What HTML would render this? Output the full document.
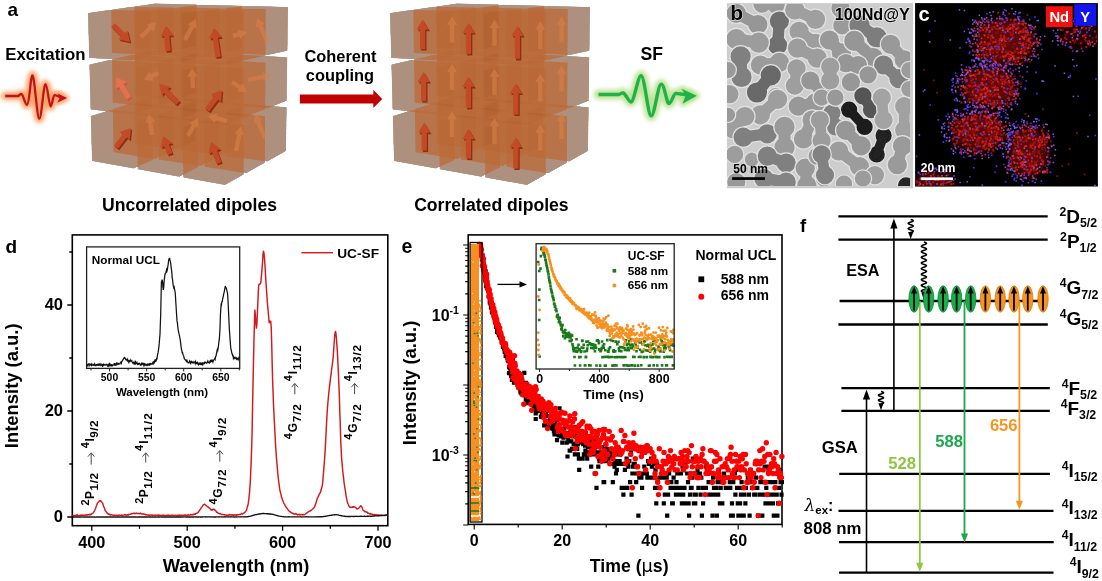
<!DOCTYPE html>
<html><head><meta charset="utf-8"><style>
html,body{margin:0;padding:0;background:#fff;width:1102px;height:581px;overflow:hidden}
svg{display:block}
text{font-family:'Liberation Sans',Arial,sans-serif;font-weight:bold}
</style></head><body>
<svg width="1102" height="581" viewBox="0 0 1102 581">
<rect width="1102" height="581" fill="#fff"/>
<rect x="72.3" y="234.9" width="315.5" height="290.8" fill="none" stroke="#000" stroke-width="1.6"/>
<path d="M91.8 525.7v5M139.5 525.7v3M187.2 525.7v5M234.9 525.7v3M282.6 525.7v5M330.3 525.7v3M378.0 525.7v5M72.3 517.0h-5M72.3 464.0h-3M72.3 411.0h-5M72.3 358.0h-3M72.3 305.0h-5M72.3 252.0h-3" stroke="#000" stroke-width="1.3" fill="none"/>
<text x="91.8" y="547.8" font-size="16.3" text-anchor="middle" fill="#000" >400</text>
<text x="187.2" y="547.8" font-size="16.3" text-anchor="middle" fill="#000" >500</text>
<text x="282.6" y="547.8" font-size="16.3" text-anchor="middle" fill="#000" >600</text>
<text x="378" y="547.8" font-size="16.3" text-anchor="middle" fill="#000" >700</text>
<text x="63" y="522" font-size="16.5" text-anchor="end" fill="#000" >0</text>
<text x="63" y="416" font-size="16.5" text-anchor="end" fill="#000" >20</text>
<text x="63" y="310" font-size="16.5" text-anchor="end" fill="#000" >40</text>
<text x="236" y="572.2" font-size="18.3" text-anchor="middle" fill="#000" >Wavelength (nm)</text>
<text x="17.6" y="385.8" font-size="18.4" text-anchor="middle" fill="#000" transform="rotate(-90 17.6 385.8)">Intensity (a.u.)</text>
<path d="M72.7 515.0 73.2 516.0 73.7 515.3 74.2 515.5 74.6 515.5 75.1 515.4 75.6 515.8 76.1 515.4 76.5 515.6 77.0 514.7 77.5 515.3 78.0 515.5 78.4 515.4 78.9 515.5 79.4 515.6 79.9 515.4 80.4 515.2 80.8 515.4 81.3 515.1 81.8 515.4 82.3 515.3 82.7 515.0 83.2 515.2 83.7 515.4 84.2 515.3 84.6 515.1 85.1 514.8 85.6 515.2 86.1 515.1 86.6 514.8 87.0 515.2 87.5 515.0 88.0 514.7 88.5 514.7 88.9 514.7 89.4 514.5 89.9 515.1 90.4 514.2 90.8 514.4 91.3 514.4 91.8 513.8 92.3 513.4 92.8 513.2 93.2 512.9 93.7 512.0 94.2 511.4 94.7 510.3 95.1 509.5 95.6 508.3 96.1 506.7 96.6 505.5 97.0 504.3 97.5 503.1 98.0 502.4 98.5 501.9 99.0 501.4 99.4 500.8 99.9 501.1 100.4 500.5 100.9 500.8 101.3 501.8 101.8 502.0 102.3 502.9 102.8 503.4 103.2 505.3 103.7 506.5 104.2 507.6 104.7 508.8 105.2 510.6 105.6 511.0 106.1 511.6 106.6 512.5 107.1 512.7 107.5 513.8 108.0 513.7 108.5 514.3 109.0 513.9 109.4 514.4 109.9 514.7 110.4 515.1 110.9 514.5 111.4 514.8 111.8 514.9 112.3 514.9 112.8 515.1 113.3 515.3 113.7 515.4 114.2 515.4 114.7 514.9 115.2 515.5 115.6 515.4 116.1 515.3 116.6 515.2 117.1 515.2 117.6 515.5 118.0 515.7 118.5 515.3 119.0 515.0 119.5 515.1 119.9 515.3 120.4 515.4 120.9 515.2 121.4 515.3 121.9 515.1 122.3 515.4 122.8 515.2 123.3 515.2 123.8 515.1 124.2 515.1 124.7 514.6 125.2 514.7 125.7 514.7 126.1 515.4 126.6 515.0 127.1 515.0 127.6 514.7 128.1 515.2 128.5 514.4 129.0 514.3 129.5 514.6 130.0 514.4 130.4 514.3 130.9 514.0 131.4 513.8 131.9 513.4 132.3 513.8 132.8 513.5 133.3 513.6 133.8 513.2 134.3 513.4 134.7 513.2 135.2 513.7 135.7 513.5 136.2 513.6 136.6 513.1 137.1 513.3 137.6 513.5 138.1 513.5 138.5 513.4 139.0 513.6 139.5 513.7 140.0 513.5 140.5 513.1 140.9 513.7 141.4 513.8 141.9 514.0 142.4 514.1 142.8 513.8 143.3 513.8 143.8 514.1 144.3 514.1 144.7 514.2 145.2 514.3 145.7 514.8 146.2 514.7 146.7 514.7 147.1 515.0 147.6 515.0 148.1 515.2 148.6 515.2 149.0 515.0 149.5 515.3 150.0 515.2 150.5 515.0 150.9 515.1 151.4 514.9 151.9 515.7 152.4 515.1 152.9 515.4 153.3 515.3 153.8 515.2 154.3 515.1 154.8 515.1 155.2 515.3 155.7 515.0 156.2 515.5 156.7 515.4 157.1 515.2 157.6 515.5 158.1 515.0 158.6 515.2 159.1 514.9 159.5 515.4 160.0 515.5 160.5 515.4 161.0 515.3 161.4 515.5 161.9 515.3 162.4 515.4 162.9 515.1 163.3 515.5 163.8 515.2 164.3 515.5 164.8 515.6 165.3 515.5 165.7 515.6 166.2 515.4 166.7 515.2 167.2 515.4 167.6 515.3 168.1 515.0 168.6 515.3 169.1 515.3 169.6 515.4 170.0 515.7 170.5 515.2 171.0 515.7 171.5 515.2 171.9 515.4 172.4 515.1 172.9 515.4 173.4 515.5 173.8 515.3 174.3 515.5 174.8 515.4 175.3 515.3 175.8 515.4 176.2 515.4 176.7 515.5 177.2 515.3 177.7 515.8 178.1 515.3 178.6 515.5 179.1 515.0 179.6 515.0 180.0 515.7 180.5 515.2 181.0 515.3 181.5 515.5 182.0 515.1 182.4 515.3 182.9 515.6 183.4 515.3 183.9 515.2 184.3 515.1 184.8 515.4 185.3 515.0 185.8 515.0 186.2 515.3 186.7 515.2 187.2 515.1 187.7 515.2 188.2 514.6 188.6 514.9 189.1 515.2 189.6 515.1 190.1 514.9 190.5 514.4 191.0 514.9 191.5 514.8 192.0 514.7 192.4 514.7 192.9 514.2 193.4 514.7 193.9 514.3 194.4 514.3 194.8 514.0 195.3 514.2 195.8 513.4 196.3 513.6 196.7 513.3 197.2 513.2 197.7 512.9 198.2 512.3 198.6 511.6 199.1 511.0 199.6 510.2 200.1 509.5 200.6 509.0 201.0 508.2 201.5 507.5 202.0 506.9 202.5 506.0 202.9 505.2 203.4 504.9 203.9 504.7 204.4 504.3 204.8 504.2 205.3 504.9 205.8 505.2 206.3 505.6 206.8 505.8 207.2 506.8 207.7 506.7 208.2 506.9 208.7 507.7 209.1 507.7 209.6 508.3 210.1 508.9 210.6 509.2 211.1 510.0 211.5 510.2 212.0 509.7 212.5 510.1 213.0 509.3 213.4 509.5 213.9 509.1 214.4 509.3 214.9 510.1 215.3 510.3 215.8 510.8 216.3 511.7 216.8 512.3 217.3 512.2 217.7 512.8 218.2 513.3 218.7 513.4 219.2 513.4 219.6 513.9 220.1 513.8 220.6 513.8 221.1 514.2 221.5 514.5 222.0 514.7 222.5 514.5 223.0 514.4 223.5 514.6 223.9 514.6 224.4 514.9 224.9 514.8 225.4 515.0 225.8 515.0 226.3 515.2 226.8 515.3 227.3 515.1 227.7 515.2 228.2 515.2 228.7 514.8 229.2 515.0 229.7 514.4 230.1 514.8 230.6 515.1 231.1 514.8 231.6 514.9 232.0 515.1 232.5 514.8 233.0 515.2 233.5 515.6 233.9 514.8 234.4 515.1 234.9 514.7 235.4 515.1 235.9 515.2 236.3 514.7 236.8 515.2 237.3 514.9 237.8 514.6 238.2 514.8 238.7 514.8 239.2 514.7 239.7 514.4 240.1 514.6 240.6 514.2 241.1 514.1 241.6 513.6 242.1 514.0 242.5 514.0 243.0 513.4 243.5 513.4 244.0 513.0 244.4 512.7 244.9 512.1 245.4 511.9 245.9 510.9 246.3 510.5 246.8 509.0 247.3 507.1 247.8 505.8 248.3 503.2 248.7 500.0 249.2 495.7 249.7 490.5 250.2 483.6 250.6 474.5 251.1 463.4 251.6 449.0 252.1 432.3 252.5 409.3 253.0 384.4 253.5 360.7 254.0 339.1 254.5 321.0 254.9 310.1 255.4 315.8 255.9 323.3 256.4 328.1 256.8 325.6 257.3 315.4 257.8 303.7 258.3 291.5 258.8 284.8 259.2 284.3 259.7 284.3 260.2 283.9 260.7 283.3 261.1 279.5 261.6 273.9 262.1 267.6 262.6 261.2 263.0 254.3 263.5 251.2 264.0 253.4 264.5 258.6 265.0 265.2 265.4 272.7 265.9 280.9 266.4 288.8 266.9 295.6 267.3 301.9 267.8 307.5 268.3 312.8 268.8 318.2 269.2 322.7 269.7 322.2 270.2 321.1 270.7 321.4 271.2 326.6 271.6 339.3 272.1 361.1 272.6 380.3 273.1 393.0 273.5 404.2 274.0 414.4 274.5 424.4 275.0 433.7 275.4 442.3 275.9 450.1 276.4 457.1 276.9 463.2 277.4 468.6 277.8 473.3 278.3 478.2 278.8 482.4 279.3 485.8 279.7 489.2 280.2 491.5 280.7 493.6 281.2 495.4 281.6 497.4 282.1 498.5 282.6 500.4 283.1 501.1 283.6 502.7 284.0 503.6 284.5 504.2 285.0 505.3 285.5 506.2 285.9 506.9 286.4 507.4 286.9 508.2 287.4 508.8 287.8 509.2 288.3 510.3 288.8 510.8 289.3 511.3 289.8 511.5 290.2 511.9 290.7 512.2 291.2 512.8 291.7 513.0 292.1 513.0 292.6 513.4 293.1 513.3 293.6 513.5 294.0 514.0 294.5 514.0 295.0 514.1 295.5 513.8 296.0 513.7 296.4 514.3 296.9 514.3 297.4 514.9 297.9 514.4 298.3 514.4 298.8 514.7 299.3 514.3 299.8 514.9 300.2 514.6 300.7 514.5 301.2 514.8 301.7 514.4 302.2 514.4 302.6 514.9 303.1 514.9 303.6 514.5 304.1 514.6 304.5 514.7 305.0 514.3 305.5 514.0 306.0 513.7 306.4 513.2 306.9 513.0 307.4 512.3 307.9 512.1 308.4 511.9 308.8 511.5 309.3 511.1 309.8 511.0 310.3 511.1 310.7 510.4 311.2 510.3 311.7 509.6 312.2 509.6 312.7 509.1 313.1 508.7 313.6 508.0 314.1 507.7 314.6 506.9 315.0 505.6 315.5 504.4 316.0 502.8 316.5 501.3 316.9 499.8 317.4 498.0 317.9 497.3 318.4 496.1 318.9 495.2 319.3 494.1 319.8 493.5 320.3 492.4 320.8 491.1 321.2 489.5 321.7 488.0 322.2 485.9 322.7 482.6 323.1 477.5 323.6 471.6 324.1 465.4 324.6 458.6 325.1 451.5 325.5 444.1 326.0 434.5 326.5 424.5 327.0 415.2 327.4 408.2 327.9 402.7 328.4 397.0 328.9 392.2 329.3 388.3 329.8 384.1 330.3 380.1 330.8 376.1 331.3 372.7 331.7 368.5 332.2 365.5 332.7 361.5 333.2 357.1 333.6 350.7 334.1 343.5 334.6 336.8 335.1 332.7 335.5 331.4 336.0 334.0 336.5 339.7 337.0 346.1 337.5 353.6 337.9 362.3 338.4 372.7 338.9 385.0 339.4 397.7 339.8 411.7 340.3 426.1 340.8 441.7 341.3 452.5 341.7 459.1 342.2 464.9 342.7 470.5 343.2 475.1 343.7 479.0 344.1 483.0 344.6 486.1 345.1 489.2 345.6 492.3 346.0 495.3 346.5 498.1 347.0 500.3 347.5 502.5 347.9 503.7 348.4 504.4 348.9 506.0 349.4 507.0 349.9 507.2 350.3 507.4 350.8 507.2 351.3 507.2 351.8 507.5 352.2 507.4 352.7 506.8 353.2 507.3 353.7 506.7 354.1 507.0 354.6 506.9 355.1 507.1 355.6 507.5 356.1 507.9 356.5 508.7 357.0 508.7 357.5 509.0 358.0 508.9 358.4 508.4 358.9 508.0 359.4 507.4 359.9 506.7 360.4 506.1 360.8 505.7 361.3 506.4 361.8 506.8 362.3 508.0 362.7 509.2 363.2 510.3 363.7 510.6 364.2 510.9 364.6 511.7 365.1 511.4 365.6 511.6 366.1 512.1 366.6 512.3 367.0 512.1 367.5 512.6 368.0 513.2 368.5 513.2 368.9 513.4 369.4 513.5 369.9 514.1 370.4 513.6 370.8 514.1 371.3 514.0 371.8 514.2 372.3 514.2 372.8 514.5 373.2 514.7 373.7 514.6 374.2 514.5 374.7 514.9 375.1 514.6 375.6 514.9 376.1 515.1 376.6 514.7 377.0 515.2 377.5 514.9 378.0 515.2 378.5 515.0 379.0 515.4 379.4 515.4 379.9 515.0 380.4 515.2 380.9 515.3 381.3 515.4 381.8 515.2 382.3 515.6 382.8 515.6 383.2 515.4 383.7 515.5 384.2 515.5 384.7 515.4 385.2 515.4 385.6 515.4 386.1 515.0 386.6 515.2 387.1 515.1 387.5 515.4" stroke="#d4181d" stroke-width="1.45" fill="none" stroke-linejoin="round"/>
<path d="M72.7 517.0 73.2 517.1 73.7 517.0 74.2 517.1 74.6 517.0 75.1 517.0 75.6 516.9 76.1 517.0 76.5 517.0 77.0 517.0 77.5 517.0 78.0 517.0 78.4 517.0 78.9 517.0 79.4 516.9 79.9 517.0 80.4 516.9 80.8 517.0 81.3 517.0 81.8 516.9 82.3 516.9 82.7 517.0 83.2 517.0 83.7 517.1 84.2 517.0 84.6 517.0 85.1 517.0 85.6 517.0 86.1 517.1 86.6 517.0 87.0 517.0 87.5 517.0 88.0 517.0 88.5 517.1 88.9 516.9 89.4 517.0 89.9 517.0 90.4 517.0 90.8 517.1 91.3 517.0 91.8 517.0 92.3 517.0 92.8 516.9 93.2 517.0 93.7 517.1 94.2 517.0 94.7 517.0 95.1 517.0 95.6 517.1 96.1 517.1 96.6 517.0 97.0 517.0 97.5 517.0 98.0 517.1 98.5 516.9 99.0 517.1 99.4 517.0 99.9 516.9 100.4 517.0 100.9 517.0 101.3 517.0 101.8 516.9 102.3 517.1 102.8 517.0 103.2 517.0 103.7 517.0 104.2 517.0 104.7 517.1 105.2 517.0 105.6 517.0 106.1 517.0 106.6 517.0 107.1 517.0 107.5 517.0 108.0 517.0 108.5 517.0 109.0 517.0 109.4 517.0 109.9 517.0 110.4 517.0 110.9 517.0 111.4 517.0 111.8 517.0 112.3 517.0 112.8 517.0 113.3 516.9 113.7 517.0 114.2 517.0 114.7 517.1 115.2 517.0 115.6 517.1 116.1 517.0 116.6 517.0 117.1 517.0 117.6 516.9 118.0 517.0 118.5 517.0 119.0 517.0 119.5 517.0 119.9 517.0 120.4 517.1 120.9 517.0 121.4 516.9 121.9 517.0 122.3 517.0 122.8 516.9 123.3 517.0 123.8 517.0 124.2 517.0 124.7 517.0 125.2 517.0 125.7 516.9 126.1 517.0 126.6 517.0 127.1 517.0 127.6 517.0 128.1 517.1 128.5 517.0 129.0 517.0 129.5 517.0 130.0 517.0 130.4 517.0 130.9 517.1 131.4 516.9 131.9 516.9 132.3 517.1 132.8 517.0 133.3 517.0 133.8 517.0 134.3 517.0 134.7 517.0 135.2 517.0 135.7 517.0 136.2 517.0 136.6 517.1 137.1 517.1 137.6 517.0 138.1 517.1 138.5 517.0 139.0 517.0 139.5 517.0 140.0 517.0 140.5 517.0 140.9 516.9 141.4 517.0 141.9 517.0 142.4 517.0 142.8 517.0 143.3 516.9 143.8 517.0 144.3 517.0 144.7 517.0 145.2 517.0 145.7 517.0 146.2 517.0 146.7 517.0 147.1 517.0 147.6 517.0 148.1 516.9 148.6 516.9 149.0 517.0 149.5 516.9 150.0 517.0 150.5 516.9 150.9 517.0 151.4 517.1 151.9 516.9 152.4 517.0 152.9 517.0 153.3 517.0 153.8 517.1 154.3 517.0 154.8 517.0 155.2 516.9 155.7 517.0 156.2 517.1 156.7 517.1 157.1 517.0 157.6 517.1 158.1 517.0 158.6 517.0 159.1 517.0 159.5 517.0 160.0 517.0 160.5 516.9 161.0 516.9 161.4 517.0 161.9 516.9 162.4 517.0 162.9 517.0 163.3 517.0 163.8 517.0 164.3 517.0 164.8 517.0 165.3 517.0 165.7 517.0 166.2 517.0 166.7 517.0 167.2 517.0 167.6 517.0 168.1 517.0 168.6 517.0 169.1 517.0 169.6 516.9 170.0 517.0 170.5 517.0 171.0 517.1 171.5 517.0 171.9 516.9 172.4 517.0 172.9 516.9 173.4 517.0 173.8 517.0 174.3 516.9 174.8 517.0 175.3 516.9 175.8 517.0 176.2 517.0 176.7 517.0 177.2 516.9 177.7 517.0 178.1 517.0 178.6 517.0 179.1 516.9 179.6 517.0 180.0 517.0 180.5 517.0 181.0 517.0 181.5 516.9 182.0 517.0 182.4 517.0 182.9 516.9 183.4 516.9 183.9 517.0 184.3 516.9 184.8 516.9 185.3 516.9 185.8 517.0 186.2 516.9 186.7 517.0 187.2 516.9 187.7 517.0 188.2 516.9 188.6 517.0 189.1 517.0 189.6 516.9 190.1 517.0 190.5 516.9 191.0 517.0 191.5 516.9 192.0 517.0 192.4 517.0 192.9 517.0 193.4 516.9 193.9 517.0 194.4 516.9 194.8 516.9 195.3 516.9 195.8 517.0 196.3 517.0 196.7 516.9 197.2 517.0 197.7 517.1 198.2 517.0 198.6 517.0 199.1 516.9 199.6 516.9 200.1 517.0 200.6 517.0 201.0 516.9 201.5 517.0 202.0 517.0 202.5 517.0 202.9 516.9 203.4 516.9 203.9 516.9 204.4 516.9 204.8 516.9 205.3 517.0 205.8 516.8 206.3 516.9 206.8 516.9 207.2 517.0 207.7 516.9 208.2 516.9 208.7 516.9 209.1 516.9 209.6 516.9 210.1 517.0 210.6 516.9 211.1 516.9 211.5 516.9 212.0 517.0 212.5 516.9 213.0 516.9 213.4 517.0 213.9 517.0 214.4 516.9 214.9 517.0 215.3 516.9 215.8 517.0 216.3 516.9 216.8 516.9 217.3 516.9 217.7 516.9 218.2 517.0 218.7 516.9 219.2 516.9 219.6 517.0 220.1 516.9 220.6 516.9 221.1 516.9 221.5 516.9 222.0 517.0 222.5 516.9 223.0 516.9 223.5 516.9 223.9 517.0 224.4 516.8 224.9 516.9 225.4 516.9 225.8 517.0 226.3 516.9 226.8 516.9 227.3 516.9 227.7 516.9 228.2 517.0 228.7 516.9 229.2 516.9 229.7 516.9 230.1 516.9 230.6 517.0 231.1 516.8 231.6 516.9 232.0 516.9 232.5 516.9 233.0 516.9 233.5 516.9 233.9 517.0 234.4 517.0 234.9 516.9 235.4 516.9 235.9 517.0 236.3 517.0 236.8 516.9 237.3 516.9 237.8 516.9 238.2 516.9 238.7 516.9 239.2 516.9 239.7 516.9 240.1 516.9 240.6 516.9 241.1 516.8 241.6 516.9 242.1 516.9 242.5 516.9 243.0 516.9 243.5 516.9 244.0 516.8 244.4 516.9 244.9 516.9 245.4 516.8 245.9 516.9 246.3 516.8 246.8 516.7 247.3 516.7 247.8 516.6 248.3 516.6 248.7 516.5 249.2 516.4 249.7 516.3 250.2 516.2 250.6 516.1 251.1 516.0 251.6 515.9 252.1 515.7 252.5 515.5 253.0 515.4 253.5 515.2 254.0 515.1 254.5 515.0 254.9 514.8 255.4 514.7 255.9 514.6 256.4 514.6 256.8 514.5 257.3 514.4 257.8 514.3 258.3 514.1 258.8 514.0 259.2 514.0 259.7 514.0 260.2 513.8 260.7 513.7 261.1 513.8 261.6 513.6 262.1 513.6 262.6 513.5 263.0 513.5 263.5 513.5 264.0 513.5 264.5 513.6 265.0 513.6 265.4 513.6 265.9 513.6 266.4 513.7 266.9 513.7 267.3 513.7 267.8 513.7 268.3 513.7 268.8 513.8 269.2 514.0 269.7 514.0 270.2 514.0 270.7 514.0 271.2 514.2 271.6 514.1 272.1 514.2 272.6 514.4 273.1 514.4 273.5 514.5 274.0 514.7 274.5 514.8 275.0 514.9 275.4 515.1 275.9 515.3 276.4 515.4 276.9 515.5 277.4 515.7 277.8 515.9 278.3 515.9 278.8 516.1 279.3 516.1 279.7 516.2 280.2 516.3 280.7 516.3 281.2 516.4 281.6 516.4 282.1 516.6 282.6 516.6 283.1 516.6 283.6 516.7 284.0 516.8 284.5 516.8 285.0 516.8 285.5 516.9 285.9 516.8 286.4 516.9 286.9 516.9 287.4 516.9 287.8 516.9 288.3 516.8 288.8 516.9 289.3 516.8 289.8 516.9 290.2 516.9 290.7 516.9 291.2 516.9 291.7 516.9 292.1 516.9 292.6 516.8 293.1 516.8 293.6 516.8 294.0 516.9 294.5 516.9 295.0 516.9 295.5 516.9 296.0 516.9 296.4 516.9 296.9 516.9 297.4 516.9 297.9 516.9 298.3 516.9 298.8 516.9 299.3 516.9 299.8 516.9 300.2 516.9 300.7 516.8 301.2 516.9 301.7 517.0 302.2 516.8 302.6 516.8 303.1 516.8 303.6 516.8 304.1 516.8 304.5 516.9 305.0 516.9 305.5 516.9 306.0 516.8 306.4 516.9 306.9 516.8 307.4 516.9 307.9 516.9 308.4 516.8 308.8 516.9 309.3 516.9 309.8 516.9 310.3 516.9 310.7 516.8 311.2 516.8 311.7 516.8 312.2 516.8 312.7 516.8 313.1 516.8 313.6 516.8 314.1 516.8 314.6 516.8 315.0 516.7 315.5 516.8 316.0 516.8 316.5 516.7 316.9 516.8 317.4 516.8 317.9 516.7 318.4 516.7 318.9 516.8 319.3 516.7 319.8 516.8 320.3 516.7 320.8 516.7 321.2 516.7 321.7 516.7 322.2 516.7 322.7 516.6 323.1 516.6 323.6 516.5 324.1 516.5 324.6 516.4 325.1 516.3 325.5 516.2 326.0 516.2 326.5 516.1 327.0 516.0 327.4 515.9 327.9 515.8 328.4 515.7 328.9 515.6 329.3 515.5 329.8 515.4 330.3 515.4 330.8 515.3 331.3 515.2 331.7 515.2 332.2 515.1 332.7 514.9 333.2 514.9 333.6 514.8 334.1 514.7 334.6 514.7 335.1 514.7 335.5 514.6 336.0 514.6 336.5 514.6 337.0 514.8 337.5 514.8 337.9 514.9 338.4 515.0 338.9 515.2 339.4 515.3 339.8 515.4 340.3 515.5 340.8 515.6 341.3 515.7 341.7 515.7 342.2 515.9 342.7 515.9 343.2 516.1 343.7 516.1 344.1 516.2 344.6 516.2 345.1 516.3 345.6 516.5 346.0 516.4 346.5 516.4 347.0 516.5 347.5 516.5 347.9 516.5 348.4 516.5 348.9 516.4 349.4 516.5 349.9 516.4 350.3 516.5 350.8 516.5 351.3 516.4 351.8 516.4 352.2 516.4 352.7 516.4 353.2 516.5 353.7 516.5 354.1 516.5 354.6 516.4 355.1 516.4 355.6 516.4 356.1 516.3 356.5 516.4 357.0 516.4 357.5 516.4 358.0 516.5 358.4 516.4 358.9 516.4 359.4 516.4 359.9 516.4 360.4 516.3 360.8 516.4 361.3 516.3 361.8 516.4 362.3 516.4 362.7 516.3 363.2 516.3 363.7 516.3 364.2 516.2 364.6 516.2 365.1 516.3 365.6 516.3 366.1 516.3 366.6 516.3 367.0 516.2 367.5 516.2 368.0 516.2 368.5 516.2 368.9 516.2 369.4 516.1 369.9 516.1 370.4 516.2 370.8 516.1 371.3 516.2 371.8 516.2 372.3 516.0 372.8 516.1 373.2 516.0 373.7 516.0 374.2 516.0 374.7 516.0 375.1 515.9 375.6 515.9 376.1 515.9 376.6 515.9 377.0 515.8 377.5 515.8 378.0 515.7 378.5 515.7 379.0 515.7 379.4 515.6 379.9 515.6 380.4 515.6 380.9 515.5 381.3 515.5 381.8 515.5 382.3 515.4 382.8 515.4 383.2 515.3 383.7 515.3 384.2 515.2 384.7 515.3 385.2 515.2 385.6 515.1 386.1 515.1 386.6 515.1 387.1 515.0 387.5 514.9" stroke="#111" stroke-width="1.35" fill="none"/>
<path d="M301.4 252.7H333" stroke="#e0161b" stroke-width="1.4"/>
<text x="337.2" y="257.5" font-size="13.7" text-anchor="start" fill="#000" >UC-SF</text>
<rect x="86.6" y="246.9" width="153.1" height="121.5" fill="#fff" stroke="#222" stroke-width="1.3"/>
<path d="M91.0 368.4v2M109.5 368.4v3M128.1 368.4v2M146.6 368.4v3M165.2 368.4v2M183.7 368.4v3M202.2 368.4v2M220.8 368.4v3M239.3 368.4v2" stroke="#222" stroke-width="1" fill="none"/>
<text x="109.5" y="380.8" font-size="10.4" text-anchor="middle" fill="#000" >500</text>
<text x="146.6" y="380.8" font-size="10.4" text-anchor="middle" fill="#000" >550</text>
<text x="183.7" y="380.8" font-size="10.4" text-anchor="middle" fill="#000" >600</text>
<text x="220.8" y="380.8" font-size="10.4" text-anchor="middle" fill="#000" >650</text>
<text x="162" y="395.6" font-size="11.5" text-anchor="middle" fill="#000" >Wavelength (nm)</text>
<text x="91.8" y="263.6" font-size="11.8" text-anchor="start" fill="#000" >Normal UCL</text>
<path d="M86.5 364.5 86.9 364.8 87.2 366.4 87.6 364.6 88.0 364.5 88.4 363.9 88.7 364.2 89.1 365.7 89.5 364.6 89.8 363.9 90.2 364.1 90.6 364.8 91.0 365.3 91.3 364.3 91.7 365.3 92.1 364.5 92.4 365.1 92.8 365.2 93.2 365.3 93.5 364.6 93.9 364.8 94.3 365.2 94.7 364.0 95.0 365.0 95.4 365.3 95.8 365.7 96.1 364.9 96.5 364.8 96.9 365.1 97.3 364.4 97.6 364.8 98.0 365.3 98.4 365.2 98.7 364.3 99.1 364.8 99.5 363.5 99.9 365.6 100.2 364.6 100.6 365.2 101.0 364.2 101.3 364.9 101.7 365.3 102.1 365.7 102.5 364.0 102.8 365.6 103.2 364.9 103.6 364.4 103.9 365.3 104.3 364.8 104.7 364.8 105.0 364.5 105.4 365.1 105.8 365.0 106.2 364.8 106.5 364.3 106.9 364.6 107.3 365.2 107.6 365.8 108.0 364.9 108.4 365.9 108.8 364.9 109.1 364.1 109.5 365.3 109.9 364.2 110.2 365.1 110.6 365.6 111.0 364.6 111.4 364.7 111.7 366.5 112.1 364.9 112.5 364.9 112.8 365.3 113.2 364.7 113.6 364.6 114.0 364.9 114.3 363.0 114.7 365.6 115.1 363.9 115.4 363.8 115.8 364.9 116.2 364.6 116.5 363.6 116.9 364.6 117.3 363.6 117.7 363.9 118.0 363.2 118.4 363.5 118.8 364.1 119.1 363.7 119.5 363.6 119.9 363.8 120.3 362.8 120.6 362.1 121.0 362.1 121.4 363.1 121.7 361.6 122.1 361.2 122.5 360.3 122.9 359.9 123.2 359.3 123.6 358.5 124.0 358.0 124.3 357.4 124.7 357.5 125.1 358.6 125.5 359.2 125.8 359.7 126.2 359.5 126.6 359.3 126.9 360.7 127.3 360.9 127.7 359.6 128.1 361.4 128.4 361.4 128.8 362.3 129.2 360.5 129.5 360.5 129.9 362.0 130.3 360.3 130.6 361.2 131.0 361.0 131.4 361.2 131.8 360.7 132.1 361.9 132.5 362.9 132.9 362.6 133.2 362.7 133.6 362.3 134.0 363.7 134.4 363.1 134.7 363.6 135.1 361.9 135.5 363.3 135.8 362.4 136.2 363.6 136.6 363.6 137.0 362.7 137.3 363.8 137.7 364.5 138.1 364.2 138.4 364.3 138.8 363.4 139.2 363.6 139.6 363.4 139.9 364.3 140.3 365.1 140.7 364.6 141.0 364.4 141.4 363.6 141.8 364.8 142.1 364.3 142.5 363.2 142.9 363.3 143.3 364.3 143.6 363.9 144.0 365.6 144.4 364.5 144.7 363.8 145.1 364.1 145.5 365.6 145.9 363.8 146.2 365.0 146.6 364.7 147.0 365.4 147.3 364.7 147.7 364.1 148.1 364.7 148.5 364.3 148.8 364.9 149.2 364.2 149.6 365.6 149.9 364.1 150.3 364.4 150.7 363.6 151.1 364.1 151.4 363.9 151.8 363.9 152.2 364.1 152.5 362.9 152.9 362.3 153.3 363.4 153.6 362.1 154.0 361.5 154.4 362.6 154.8 362.0 155.1 359.4 155.5 360.6 155.9 361.1 156.2 360.5 156.6 358.6 157.0 358.8 157.4 355.6 157.7 354.2 158.1 352.4 158.5 350.0 158.8 347.6 159.2 343.9 159.6 338.6 160.0 334.2 160.3 325.2 160.7 314.3 161.1 295.4 161.4 281.8 161.8 281.1 162.2 279.6 162.6 282.3 162.9 287.3 163.3 290.0 163.7 287.7 164.0 283.4 164.4 278.7 164.8 275.6 165.2 273.6 165.5 273.3 165.9 272.8 166.3 270.7 166.6 269.6 167.0 271.0 167.4 269.7 167.7 267.0 168.1 264.8 168.5 261.5 168.9 259.1 169.2 259.1 169.6 257.9 170.0 260.5 170.3 260.9 170.7 263.5 171.1 266.8 171.5 269.8 171.8 272.6 172.2 277.8 172.6 279.8 172.9 283.0 173.3 285.9 173.7 287.7 174.1 286.9 174.4 288.7 174.8 290.4 175.2 292.5 175.5 296.9 175.9 303.8 176.3 309.7 176.7 316.5 177.0 320.9 177.4 322.9 177.8 326.9 178.1 329.4 178.5 331.6 178.9 333.4 179.2 334.3 179.6 336.5 180.0 338.7 180.4 341.1 180.7 343.6 181.1 347.1 181.5 349.6 181.8 350.1 182.2 352.8 182.6 352.7 183.0 354.5 183.3 355.2 183.7 355.9 184.1 358.0 184.4 358.9 184.8 359.3 185.2 359.8 185.6 359.9 185.9 360.7 186.3 360.6 186.7 361.4 187.0 360.6 187.4 361.8 187.8 362.1 188.2 362.8 188.5 362.8 188.9 362.3 189.3 361.8 189.6 361.1 190.0 362.5 190.4 363.5 190.7 363.7 191.1 360.8 191.5 362.1 191.9 362.4 192.2 362.0 192.6 362.8 193.0 362.8 193.3 362.4 193.7 362.7 194.1 361.7 194.5 362.1 194.8 362.2 195.2 363.5 195.6 361.7 195.9 362.7 196.3 363.4 196.7 362.9 197.1 363.5 197.4 362.5 197.8 363.2 198.2 363.6 198.5 364.5 198.9 363.5 199.3 364.0 199.7 363.0 200.0 363.1 200.4 364.1 200.8 363.4 201.1 364.0 201.5 363.5 201.9 364.5 202.2 364.7 202.6 362.4 203.0 364.3 203.4 363.3 203.7 363.3 204.1 362.9 204.5 363.4 204.8 362.1 205.2 362.3 205.6 362.2 206.0 362.9 206.3 363.3 206.7 363.1 207.1 362.7 207.4 362.0 207.8 361.1 208.2 362.5 208.6 362.2 208.9 362.3 209.3 362.9 209.7 361.7 210.0 361.5 210.4 359.9 210.8 361.8 211.2 361.3 211.5 360.6 211.9 361.3 212.3 360.1 212.6 360.2 213.0 361.7 213.4 360.5 213.8 360.2 214.1 359.6 214.5 359.0 214.9 358.2 215.2 359.0 215.6 356.5 216.0 356.1 216.3 354.3 216.7 353.0 217.1 350.2 217.5 349.1 217.8 349.9 218.2 348.0 218.6 344.5 218.9 342.1 219.3 339.2 219.7 333.7 220.1 325.8 220.4 315.3 220.8 309.1 221.2 303.4 221.5 304.2 221.9 301.7 222.3 301.5 222.7 298.5 223.0 297.9 223.4 295.7 223.8 293.5 224.1 292.4 224.5 290.4 224.9 288.2 225.3 286.0 225.6 286.9 226.0 287.8 226.4 288.2 226.7 289.7 227.1 291.6 227.5 292.9 227.8 296.4 228.2 304.3 228.6 313.1 229.0 321.6 229.3 328.7 229.7 333.5 230.1 340.1 230.4 343.8 230.8 348.3 231.2 350.0 231.6 351.8 231.9 353.3 232.3 354.6 232.7 355.6 233.0 354.8 233.4 358.3 233.8 357.4 234.2 357.2 234.5 357.6 234.9 358.4 235.3 357.6 235.6 358.2 236.0 358.2 236.4 359.0 236.8 358.2 237.1 359.1 237.5 359.0 237.9 358.7 238.2 359.6 238.6 358.6 239.0 357.4 239.3 357.9 239.7 357.3" stroke="#111" stroke-width="1.25" fill="none"/>
<text transform="translate(93.6 505.6) rotate(-90)" textLength="32.6" lengthAdjust="spacing"><tspan font-size="11" dy="-4.8">2</tspan><tspan font-size="12" dy="4.8">P</tspan><tspan font-size="11.8" dy="4.1">1/2</tspan></text>
<text transform="translate(93.6 448.2) rotate(-90)" textLength="27.7" lengthAdjust="spacing"><tspan font-size="11" dy="-4.8">4</tspan><tspan font-size="12" dy="4.8">I</tspan><tspan font-size="11.8" dy="4.1">9/2</tspan></text>
<path d="M91.2 464.6V453.3M88.0 456.6L91.2 452.8L94.4 456.6" stroke="#333" stroke-width="0.9" fill="none"/>
<text transform="translate(148.1 503.8) rotate(-90)" textLength="32.6" lengthAdjust="spacing"><tspan font-size="11" dy="-4.8">2</tspan><tspan font-size="12" dy="4.8">P</tspan><tspan font-size="11.8" dy="4.1">1/2</tspan></text>
<text transform="translate(148.1 451.1) rotate(-90)" textLength="37.9" lengthAdjust="spacing"><tspan font-size="11" dy="-4.8">4</tspan><tspan font-size="12" dy="4.8">I</tspan><tspan font-size="11.8" dy="4.1">11/2</tspan></text>
<path d="M145.7 462.6V453.3M142.5 456.6L145.7 452.8L148.9 456.6" stroke="#333" stroke-width="0.9" fill="none"/>
<text transform="translate(222.2 504.6) rotate(-90)" textLength="35.1" lengthAdjust="spacing"><tspan font-size="11" dy="-4.8">4</tspan><tspan font-size="12" dy="4.8">G</tspan><tspan font-size="11.8" dy="4.1">7/2</tspan></text>
<text transform="translate(222.2 447.6) rotate(-90)" textLength="30.0" lengthAdjust="spacing"><tspan font-size="11" dy="-4.8">4</tspan><tspan font-size="12" dy="4.8">I</tspan><tspan font-size="11.8" dy="4.1">9/2</tspan></text>
<path d="M219.8 461.7V451.0M216.6 454.3L219.8 450.5L223.0 454.3" stroke="#333" stroke-width="0.9" fill="none"/>
<text transform="translate(297.2 439.2) rotate(-90)" textLength="35.0" lengthAdjust="spacing"><tspan font-size="11" dy="-4.8">4</tspan><tspan font-size="12" dy="4.8">G</tspan><tspan font-size="11.8" dy="4.1">7/2</tspan></text>
<text transform="translate(297.2 381.3) rotate(-90)" textLength="36.1" lengthAdjust="spacing"><tspan font-size="11" dy="-4.8">4</tspan><tspan font-size="12" dy="4.8">I</tspan><tspan font-size="11.8" dy="4.1">11/2</tspan></text>
<path d="M294.8 394.2V383.9M291.6 387.2L294.8 383.4L298.0 387.2" stroke="#333" stroke-width="0.9" fill="none"/>
<text transform="translate(357 439.7) rotate(-90)" textLength="35.5" lengthAdjust="spacing"><tspan font-size="11" dy="-4.8">4</tspan><tspan font-size="12" dy="4.8">G</tspan><tspan font-size="11.8" dy="4.1">7/2</tspan></text>
<text transform="translate(357 381.3) rotate(-90)" textLength="36.4" lengthAdjust="spacing"><tspan font-size="11" dy="-4.8">4</tspan><tspan font-size="12" dy="4.8">I</tspan><tspan font-size="11.8" dy="4.1">13/2</tspan></text>
<path d="M354.6 394.2V383.9M351.4 387.2L354.6 383.4L357.8 387.2" stroke="#333" stroke-width="0.9" fill="none"/>
<text x="5.5" y="253.4" font-size="19" text-anchor="start" fill="#000" >d</text>
<rect x="468.2" y="234.9" width="313.8" height="289.5" fill="none" stroke="#000" stroke-width="1.6"/>
<path d="M474.2 524.4v5M518.2 524.4v3M562.2 524.4v5M606.2 524.4v3M650.2 524.4v5M694.2 524.4v3M738.2 524.4v5M782.2 524.4v3M468.2 245.0h-5M468.2 293.9h-3M468.2 281.6h-3M468.2 272.9h-3M468.2 266.1h-3M468.2 260.5h-3M468.2 255.8h-3M468.2 251.8h-3M468.2 248.2h-3M468.2 315.0h-5M468.2 363.9h-3M468.2 351.6h-3M468.2 342.9h-3M468.2 336.1h-3M468.2 330.5h-3M468.2 325.8h-3M468.2 321.8h-3M468.2 318.2h-3M468.2 385.0h-5M468.2 433.9h-3M468.2 421.6h-3M468.2 412.9h-3M468.2 406.1h-3M468.2 400.5h-3M468.2 395.8h-3M468.2 391.8h-3M468.2 388.2h-3M468.2 455.0h-5M468.2 503.9h-3M468.2 491.6h-3M468.2 482.9h-3M468.2 476.1h-3M468.2 470.5h-3M468.2 465.8h-3M468.2 461.8h-3M468.2 458.2h-3M468.2 525.0h-5" stroke="#000" stroke-width="1.1" fill="none"/>
<text x="474.2" y="546" font-size="16" text-anchor="middle" fill="#000" >0</text>
<text x="562.2" y="546" font-size="16" text-anchor="middle" fill="#000" >20</text>
<text x="650.2" y="546" font-size="16" text-anchor="middle" fill="#000" >40</text>
<text x="738.2" y="546" font-size="16" text-anchor="middle" fill="#000" >60</text>
<text x="449.6" y="321" font-size="16" text-anchor="end">10</text><text x="449.6" y="314" font-size="10.5">-1</text>
<text x="449.6" y="460.5" font-size="16" text-anchor="end">10</text><text x="449.6" y="453.5" font-size="10.5">-3</text>
<text x="629.2" y="571.8" font-size="17.7" text-anchor="middle">Time (<tspan font-family="DejaVu Sans" font-weight="normal">μ</tspan>s)</text>
<text transform="translate(416.2 383) rotate(-90)" font-size="18.4" text-anchor="middle">Intensity (a.u.)</text>
<path d="M478.5 242.8h4.2v4.2h-4.2zM477.8 245.0h4.2v4.2h-4.2zM477.3 244.8h4.2v4.2h-4.2zM478.4 246.3h4.2v4.2h-4.2zM478.6 246.8h4.2v4.2h-4.2zM478.1 250.1h4.2v4.2h-4.2zM478.7 252.7h4.2v4.2h-4.2zM479.4 253.3h4.2v4.2h-4.2zM479.8 253.8h4.2v4.2h-4.2zM480.4 253.2h4.2v4.2h-4.2zM480.2 255.2h4.2v4.2h-4.2zM479.8 257.5h4.2v4.2h-4.2zM480.1 257.4h4.2v4.2h-4.2zM480.9 258.1h4.2v4.2h-4.2zM481.2 260.2h4.2v4.2h-4.2zM481.5 261.9h4.2v4.2h-4.2zM480.9 262.3h4.2v4.2h-4.2zM481.3 263.8h4.2v4.2h-4.2zM482.1 265.1h4.2v4.2h-4.2zM482.5 268.2h4.2v4.2h-4.2zM482.9 268.8h4.2v4.2h-4.2zM481.6 268.4h4.2v4.2h-4.2zM483.5 269.2h4.2v4.2h-4.2zM483.3 271.5h4.2v4.2h-4.2zM483.3 272.9h4.2v4.2h-4.2zM483.5 273.6h4.2v4.2h-4.2zM482.9 275.4h4.2v4.2h-4.2zM484.0 273.9h4.2v4.2h-4.2zM483.2 278.3h4.2v4.2h-4.2zM483.9 279.8h4.2v4.2h-4.2zM484.2 279.5h4.2v4.2h-4.2zM485.1 280.8h4.2v4.2h-4.2zM484.1 284.0h4.2v4.2h-4.2zM485.4 283.4h4.2v4.2h-4.2zM485.2 283.2h4.2v4.2h-4.2zM484.9 285.5h4.2v4.2h-4.2zM485.6 286.8h4.2v4.2h-4.2zM486.5 287.9h4.2v4.2h-4.2zM487.2 289.6h4.2v4.2h-4.2zM486.0 287.5h4.2v4.2h-4.2zM486.9 290.7h4.2v4.2h-4.2zM486.8 294.0h4.2v4.2h-4.2zM487.4 293.6h4.2v4.2h-4.2zM487.3 294.8h4.2v4.2h-4.2zM487.7 295.6h4.2v4.2h-4.2zM488.2 297.8h4.2v4.2h-4.2zM487.6 298.1h4.2v4.2h-4.2zM487.7 300.2h4.2v4.2h-4.2zM488.4 301.6h4.2v4.2h-4.2zM488.9 302.9h4.2v4.2h-4.2zM489.3 302.0h4.2v4.2h-4.2zM489.1 301.3h4.2v4.2h-4.2zM489.6 304.3h4.2v4.2h-4.2zM488.9 305.5h4.2v4.2h-4.2zM489.4 304.5h4.2v4.2h-4.2zM490.0 306.0h4.2v4.2h-4.2zM489.8 310.0h4.2v4.2h-4.2zM490.3 308.1h4.2v4.2h-4.2zM490.7 310.8h4.2v4.2h-4.2zM491.1 310.0h4.2v4.2h-4.2zM490.2 309.3h4.2v4.2h-4.2zM491.8 312.6h4.2v4.2h-4.2zM492.0 311.6h4.2v4.2h-4.2zM492.1 315.1h4.2v4.2h-4.2zM492.2 315.3h4.2v4.2h-4.2zM492.9 316.1h4.2v4.2h-4.2zM491.7 313.5h4.2v4.2h-4.2zM492.9 316.3h4.2v4.2h-4.2zM492.9 318.0h4.2v4.2h-4.2zM493.2 318.5h4.2v4.2h-4.2zM493.4 317.4h4.2v4.2h-4.2zM494.2 320.4h4.2v4.2h-4.2zM493.4 319.3h4.2v4.2h-4.2zM493.0 320.4h4.2v4.2h-4.2zM494.0 324.7h4.2v4.2h-4.2zM494.5 322.7h4.2v4.2h-4.2zM494.4 323.9h4.2v4.2h-4.2zM495.6 324.0h4.2v4.2h-4.2zM494.6 321.6h4.2v4.2h-4.2zM495.6 325.9h4.2v4.2h-4.2zM496.8 323.7h4.2v4.2h-4.2zM495.2 328.0h4.2v4.2h-4.2zM496.4 326.9h4.2v4.2h-4.2zM496.4 326.4h4.2v4.2h-4.2zM496.3 330.8h4.2v4.2h-4.2zM495.0 329.8h4.2v4.2h-4.2zM497.3 331.3h4.2v4.2h-4.2zM496.8 332.6h4.2v4.2h-4.2zM497.9 330.4h4.2v4.2h-4.2zM497.4 333.4h4.2v4.2h-4.2zM496.8 331.1h4.2v4.2h-4.2zM498.1 331.8h4.2v4.2h-4.2zM498.5 333.3h4.2v4.2h-4.2zM499.2 334.7h4.2v4.2h-4.2zM498.2 335.5h4.2v4.2h-4.2zM499.0 335.7h4.2v4.2h-4.2zM499.8 336.7h4.2v4.2h-4.2zM499.4 336.7h4.2v4.2h-4.2zM499.6 336.8h4.2v4.2h-4.2zM499.9 339.5h4.2v4.2h-4.2zM499.7 339.0h4.2v4.2h-4.2zM500.8 340.4h4.2v4.2h-4.2zM500.2 340.7h4.2v4.2h-4.2zM500.5 340.9h4.2v4.2h-4.2zM500.8 343.5h4.2v4.2h-4.2zM500.9 339.4h4.2v4.2h-4.2zM500.4 338.3h4.2v4.2h-4.2zM502.0 344.3h4.2v4.2h-4.2zM500.8 344.7h4.2v4.2h-4.2zM502.4 341.2h4.2v4.2h-4.2zM501.9 346.4h4.2v4.2h-4.2zM502.1 343.3h4.2v4.2h-4.2zM501.9 345.7h4.2v4.2h-4.2zM502.6 349.4h4.2v4.2h-4.2zM502.5 346.9h4.2v4.2h-4.2zM503.6 348.6h4.2v4.2h-4.2zM503.8 347.4h4.2v4.2h-4.2zM502.9 349.8h4.2v4.2h-4.2zM503.9 352.5h4.2v4.2h-4.2zM504.2 351.3h4.2v4.2h-4.2zM503.6 353.7h4.2v4.2h-4.2zM503.9 352.4h4.2v4.2h-4.2zM504.3 352.3h4.2v4.2h-4.2zM504.8 353.9h4.2v4.2h-4.2zM504.4 352.1h4.2v4.2h-4.2zM504.6 354.4h4.2v4.2h-4.2zM506.0 356.4h4.2v4.2h-4.2zM505.3 355.6h4.2v4.2h-4.2zM506.2 358.8h4.2v4.2h-4.2zM506.5 359.0h4.2v4.2h-4.2zM505.7 357.7h4.2v4.2h-4.2zM507.2 354.4h4.2v4.2h-4.2zM507.0 357.1h4.2v4.2h-4.2zM507.1 365.1h4.2v4.2h-4.2zM507.6 358.4h4.2v4.2h-4.2zM506.9 371.1h4.2v4.2h-4.2zM507.9 366.2h4.2v4.2h-4.2zM508.1 358.3h4.2v4.2h-4.2zM508.6 365.8h4.2v4.2h-4.2zM507.3 356.4h4.2v4.2h-4.2zM509.1 368.9h4.2v4.2h-4.2zM509.1 373.8h4.2v4.2h-4.2zM510.3 364.4h4.2v4.2h-4.2zM509.1 364.4h4.2v4.2h-4.2zM509.8 377.9h4.2v4.2h-4.2zM510.7 357.2h4.2v4.2h-4.2zM509.9 365.9h4.2v4.2h-4.2zM511.0 367.4h4.2v4.2h-4.2zM509.5 372.8h4.2v4.2h-4.2zM509.9 370.2h4.2v4.2h-4.2zM510.7 366.9h4.2v4.2h-4.2zM510.9 369.8h4.2v4.2h-4.2zM511.4 373.5h4.2v4.2h-4.2zM511.7 373.4h4.2v4.2h-4.2zM512.5 370.1h4.2v4.2h-4.2zM511.9 380.5h4.2v4.2h-4.2zM512.0 363.4h4.2v4.2h-4.2zM512.5 366.0h4.2v4.2h-4.2zM513.2 378.7h4.2v4.2h-4.2zM513.2 379.8h4.2v4.2h-4.2zM513.4 378.5h4.2v4.2h-4.2zM513.4 375.9h4.2v4.2h-4.2zM513.8 376.7h4.2v4.2h-4.2zM513.1 375.9h4.2v4.2h-4.2zM513.4 376.2h4.2v4.2h-4.2zM514.9 377.8h4.2v4.2h-4.2zM514.3 372.5h4.2v4.2h-4.2zM514.6 380.3h4.2v4.2h-4.2zM515.9 378.8h4.2v4.2h-4.2zM514.5 372.5h4.2v4.2h-4.2zM514.9 380.1h4.2v4.2h-4.2zM516.5 380.7h4.2v4.2h-4.2zM515.6 375.3h4.2v4.2h-4.2zM516.2 378.5h4.2v4.2h-4.2zM516.8 371.3h4.2v4.2h-4.2zM516.0 379.4h4.2v4.2h-4.2zM515.6 376.1h4.2v4.2h-4.2zM516.5 383.5h4.2v4.2h-4.2zM516.8 385.7h4.2v4.2h-4.2zM517.4 375.4h4.2v4.2h-4.2zM517.9 380.5h4.2v4.2h-4.2zM517.5 379.6h4.2v4.2h-4.2zM517.4 373.2h4.2v4.2h-4.2zM518.1 381.1h4.2v4.2h-4.2zM518.9 382.1h4.2v4.2h-4.2zM518.1 387.3h4.2v4.2h-4.2zM518.3 379.4h4.2v4.2h-4.2zM518.4 390.1h4.2v4.2h-4.2zM518.1 386.4h4.2v4.2h-4.2zM520.1 392.0h4.2v4.2h-4.2zM519.1 390.1h4.2v4.2h-4.2zM519.8 390.4h4.2v4.2h-4.2zM519.3 391.4h4.2v4.2h-4.2zM520.2 379.4h4.2v4.2h-4.2zM519.8 379.6h4.2v4.2h-4.2zM521.0 386.9h4.2v4.2h-4.2zM521.3 388.3h4.2v4.2h-4.2zM520.9 385.7h4.2v4.2h-4.2zM521.6 385.0h4.2v4.2h-4.2zM521.3 390.1h4.2v4.2h-4.2zM522.2 384.4h4.2v4.2h-4.2zM522.2 370.8h4.2v4.2h-4.2zM522.4 383.3h4.2v4.2h-4.2zM522.7 384.6h4.2v4.2h-4.2zM522.6 381.3h4.2v4.2h-4.2zM522.4 393.1h4.2v4.2h-4.2zM522.4 390.4h4.2v4.2h-4.2zM523.9 380.7h4.2v4.2h-4.2zM524.2 387.1h4.2v4.2h-4.2zM523.9 392.0h4.2v4.2h-4.2zM523.7 397.1h4.2v4.2h-4.2zM524.5 386.9h4.2v4.2h-4.2zM524.5 401.0h4.2v4.2h-4.2zM524.2 394.0h4.2v4.2h-4.2zM525.1 389.3h4.2v4.2h-4.2zM525.1 400.3h4.2v4.2h-4.2zM525.1 382.5h4.2v4.2h-4.2zM526.4 392.3h4.2v4.2h-4.2zM526.7 397.8h4.2v4.2h-4.2zM527.3 395.2h4.2v4.2h-4.2zM526.7 390.1h4.2v4.2h-4.2zM527.6 394.0h4.2v4.2h-4.2zM528.8 396.2h4.2v4.2h-4.2zM528.8 394.0h4.2v4.2h-4.2zM529.8 386.6h4.2v4.2h-4.2zM529.6 393.7h4.2v4.2h-4.2zM529.9 399.6h4.2v4.2h-4.2zM531.3 391.4h4.2v4.2h-4.2zM531.6 405.5h4.2v4.2h-4.2zM532.3 401.0h4.2v4.2h-4.2zM532.4 403.0h4.2v4.2h-4.2zM532.6 394.0h4.2v4.2h-4.2zM533.1 407.2h4.2v4.2h-4.2zM532.8 401.0h4.2v4.2h-4.2zM533.8 402.2h4.2v4.2h-4.2zM533.9 399.9h4.2v4.2h-4.2zM533.6 411.2h4.2v4.2h-4.2zM533.6 416.9h4.2v4.2h-4.2zM535.7 409.1h4.2v4.2h-4.2zM536.0 408.2h4.2v4.2h-4.2zM536.2 394.3h4.2v4.2h-4.2zM537.1 401.0h4.2v4.2h-4.2zM537.2 405.0h4.2v4.2h-4.2zM538.1 398.8h4.2v4.2h-4.2zM538.8 414.5h4.2v4.2h-4.2zM538.6 399.6h4.2v4.2h-4.2zM538.8 398.5h4.2v4.2h-4.2zM539.4 397.5h4.2v4.2h-4.2zM540.0 411.7h4.2v4.2h-4.2zM540.1 415.1h4.2v4.2h-4.2zM540.8 410.1h4.2v4.2h-4.2zM541.2 403.4h4.2v4.2h-4.2zM541.5 410.7h4.2v4.2h-4.2zM542.1 423.2h4.2v4.2h-4.2zM542.3 412.8h4.2v4.2h-4.2zM543.0 412.8h4.2v4.2h-4.2zM543.8 406.8h4.2v4.2h-4.2zM543.7 412.8h4.2v4.2h-4.2zM544.3 409.1h4.2v4.2h-4.2zM544.7 405.5h4.2v4.2h-4.2zM545.1 413.9h4.2v4.2h-4.2zM545.7 404.6h4.2v4.2h-4.2zM546.1 423.2h4.2v4.2h-4.2zM546.5 419.6h4.2v4.2h-4.2zM546.9 420.3h4.2v4.2h-4.2zM547.3 420.3h4.2v4.2h-4.2zM547.8 417.6h4.2v4.2h-4.2zM548.4 425.7h4.2v4.2h-4.2zM548.5 415.1h4.2v4.2h-4.2zM549.1 409.1h4.2v4.2h-4.2zM549.7 414.5h4.2v4.2h-4.2zM549.8 410.7h4.2v4.2h-4.2zM550.5 426.5h4.2v4.2h-4.2zM550.8 424.0h4.2v4.2h-4.2zM551.1 423.2h4.2v4.2h-4.2zM551.8 429.3h4.2v4.2h-4.2zM552.4 432.2h4.2v4.2h-4.2zM552.6 422.5h4.2v4.2h-4.2zM553.2 424.0h4.2v4.2h-4.2zM553.2 426.5h4.2v4.2h-4.2zM553.8 424.0h4.2v4.2h-4.2zM554.3 430.2h4.2v4.2h-4.2zM555.0 418.2h4.2v4.2h-4.2zM554.9 438.0h4.2v4.2h-4.2zM555.7 425.7h4.2v4.2h-4.2zM556.2 431.2h4.2v4.2h-4.2zM556.6 433.3h4.2v4.2h-4.2zM556.9 426.5h4.2v4.2h-4.2zM557.4 406.3h4.2v4.2h-4.2zM557.6 431.2h4.2v4.2h-4.2zM558.3 431.2h4.2v4.2h-4.2zM558.7 434.4h4.2v4.2h-4.2zM559.0 428.3h4.2v4.2h-4.2zM559.5 426.5h4.2v4.2h-4.2zM560.2 440.6h4.2v4.2h-4.2zM560.5 430.2h4.2v4.2h-4.2zM560.8 434.4h4.2v4.2h-4.2zM561.4 435.6h4.2v4.2h-4.2zM562.0 426.5h4.2v4.2h-4.2zM562.4 432.2h4.2v4.2h-4.2zM562.7 431.2h4.2v4.2h-4.2zM563.3 434.4h4.2v4.2h-4.2zM563.6 433.3h4.2v4.2h-4.2zM563.9 433.3h4.2v4.2h-4.2zM564.6 440.6h4.2v4.2h-4.2zM564.9 431.2h4.2v4.2h-4.2zM565.4 454.4h4.2v4.2h-4.2zM565.8 424.8h4.2v4.2h-4.2zM566.2 436.8h4.2v4.2h-4.2zM566.8 439.3h4.2v4.2h-4.2zM567.1 418.9h4.2v4.2h-4.2zM567.6 448.5h4.2v4.2h-4.2zM568.1 448.5h4.2v4.2h-4.2zM568.4 427.4h4.2v4.2h-4.2zM568.9 424.8h4.2v4.2h-4.2zM569.3 439.3h4.2v4.2h-4.2zM569.9 446.7h4.2v4.2h-4.2zM570.0 429.3h4.2v4.2h-4.2zM570.6 428.3h4.2v4.2h-4.2zM570.9 434.4h4.2v4.2h-4.2zM571.6 424.8h4.2v4.2h-4.2zM571.6 442.1h4.2v4.2h-4.2zM572.3 433.3h4.2v4.2h-4.2zM572.8 452.3h4.2v4.2h-4.2zM573.5 446.7h4.2v4.2h-4.2zM573.6 433.3h4.2v4.2h-4.2zM574.0 445.1h4.2v4.2h-4.2zM574.5 440.6h4.2v4.2h-4.2zM575.1 446.7h4.2v4.2h-4.2zM575.7 442.1h4.2v4.2h-4.2zM575.9 452.3h4.2v4.2h-4.2zM576.4 435.6h4.2v4.2h-4.2zM576.8 456.6h4.2v4.2h-4.2zM577.1 467.8h4.2v4.2h-4.2zM577.6 429.3h4.2v4.2h-4.2zM578.0 440.6h4.2v4.2h-4.2zM578.5 433.3h4.2v4.2h-4.2zM578.9 440.6h4.2v4.2h-4.2zM579.4 438.0h4.2v4.2h-4.2zM580.1 433.3h4.2v4.2h-4.2zM580.5 456.6h4.2v4.2h-4.2zM580.9 436.8h4.2v4.2h-4.2zM581.2 442.1h4.2v4.2h-4.2zM581.8 452.3h4.2v4.2h-4.2zM582.1 436.8h4.2v4.2h-4.2zM582.5 436.8h4.2v4.2h-4.2zM583.0 443.5h4.2v4.2h-4.2zM583.3 448.5h4.2v4.2h-4.2zM583.9 431.2h4.2v4.2h-4.2zM584.4 452.3h4.2v4.2h-4.2zM584.6 450.3h4.2v4.2h-4.2zM585.1 456.6h4.2v4.2h-4.2zM585.5 434.4h4.2v4.2h-4.2zM586.1 445.1h4.2v4.2h-4.2zM586.6 445.1h4.2v4.2h-4.2zM586.7 438.0h4.2v4.2h-4.2zM587.4 452.3h4.2v4.2h-4.2zM587.9 450.3h4.2v4.2h-4.2zM588.3 445.1h4.2v4.2h-4.2zM588.7 440.6h4.2v4.2h-4.2zM589.1 464.6h4.2v4.2h-4.2zM589.6 445.1h4.2v4.2h-4.2zM589.9 438.0h4.2v4.2h-4.2zM590.6 448.5h4.2v4.2h-4.2zM591.0 443.5h4.2v4.2h-4.2zM591.3 448.5h4.2v4.2h-4.2zM591.5 452.3h4.2v4.2h-4.2zM592.2 448.5h4.2v4.2h-4.2zM592.6 471.4h4.2v4.2h-4.2zM593.0 439.3h4.2v4.2h-4.2zM593.5 445.1h4.2v4.2h-4.2zM594.0 443.5h4.2v4.2h-4.2zM594.4 485.7h4.2v4.2h-4.2zM594.8 450.3h4.2v4.2h-4.2zM595.2 452.3h4.2v4.2h-4.2zM595.8 452.3h4.2v4.2h-4.2zM596.2 464.6h4.2v4.2h-4.2zM596.4 454.4h4.2v4.2h-4.2zM596.8 456.6h4.2v4.2h-4.2zM597.4 459.1h4.2v4.2h-4.2zM597.9 450.3h4.2v4.2h-4.2zM598.6 459.1h4.2v4.2h-4.2zM599.0 456.6h4.2v4.2h-4.2zM599.4 452.3h4.2v4.2h-4.2zM599.7 445.1h4.2v4.2h-4.2zM600.3 452.3h4.2v4.2h-4.2zM600.6 452.3h4.2v4.2h-4.2zM601.0 452.3h4.2v4.2h-4.2zM601.5 480.1h4.2v4.2h-4.2zM601.8 450.3h4.2v4.2h-4.2zM602.1 480.1h4.2v4.2h-4.2zM602.9 450.3h4.2v4.2h-4.2zM603.0 454.4h4.2v4.2h-4.2zM603.7 446.7h4.2v4.2h-4.2zM604.0 459.1h4.2v4.2h-4.2zM604.6 446.7h4.2v4.2h-4.2zM605.6 448.5h4.2v4.2h-4.2zM606.5 456.6h4.2v4.2h-4.2zM607.3 454.4h4.2v4.2h-4.2zM608.1 461.7h4.2v4.2h-4.2zM608.8 448.5h4.2v4.2h-4.2zM609.4 454.4h4.2v4.2h-4.2zM610.2 450.3h4.2v4.2h-4.2zM610.7 480.1h4.2v4.2h-4.2zM611.7 461.7h4.2v4.2h-4.2zM612.4 464.6h4.2v4.2h-4.2zM613.2 459.1h4.2v4.2h-4.2zM613.9 471.4h4.2v4.2h-4.2zM614.7 467.8h4.2v4.2h-4.2zM615.6 452.3h4.2v4.2h-4.2zM615.9 461.7h4.2v4.2h-4.2zM616.7 459.1h4.2v4.2h-4.2zM617.5 459.1h4.2v4.2h-4.2zM618.4 461.7h4.2v4.2h-4.2zM619.0 461.7h4.2v4.2h-4.2zM619.6 485.7h4.2v4.2h-4.2zM620.8 461.7h4.2v4.2h-4.2zM621.3 492.5h4.2v4.2h-4.2zM622.0 461.7h4.2v4.2h-4.2zM622.8 467.8h4.2v4.2h-4.2zM623.6 485.7h4.2v4.2h-4.2zM624.5 456.6h4.2v4.2h-4.2zM625.2 485.7h4.2v4.2h-4.2zM625.7 461.7h4.2v4.2h-4.2zM626.3 464.6h4.2v4.2h-4.2zM627.2 459.1h4.2v4.2h-4.2zM628.0 480.1h4.2v4.2h-4.2zM628.9 450.3h4.2v4.2h-4.2zM629.5 492.5h4.2v4.2h-4.2zM630.3 471.4h4.2v4.2h-4.2zM631.0 464.6h4.2v4.2h-4.2zM631.7 461.7h4.2v4.2h-4.2zM632.6 461.7h4.2v4.2h-4.2zM633.4 471.4h4.2v4.2h-4.2zM634.1 480.1h4.2v4.2h-4.2zM635.4 464.6h4.2v4.2h-4.2zM636.3 513.5h4.2v4.2h-4.2zM637.2 475.5h4.2v4.2h-4.2zM637.8 471.4h4.2v4.2h-4.2zM638.4 475.5h4.2v4.2h-4.2zM639.3 475.5h4.2v4.2h-4.2zM640.0 485.7h4.2v4.2h-4.2zM640.8 471.4h4.2v4.2h-4.2zM641.3 445.1h4.2v4.2h-4.2zM642.2 464.6h4.2v4.2h-4.2zM642.9 471.4h4.2v4.2h-4.2zM643.7 467.8h4.2v4.2h-4.2zM644.7 471.4h4.2v4.2h-4.2zM645.3 475.5h4.2v4.2h-4.2zM646.1 459.1h4.2v4.2h-4.2zM646.8 461.7h4.2v4.2h-4.2zM647.7 475.5h4.2v4.2h-4.2zM648.2 475.5h4.2v4.2h-4.2zM649.1 456.6h4.2v4.2h-4.2zM649.8 464.6h4.2v4.2h-4.2zM650.5 459.1h4.2v4.2h-4.2zM651.3 475.5h4.2v4.2h-4.2zM652.1 461.7h4.2v4.2h-4.2zM652.9 485.7h4.2v4.2h-4.2zM653.4 467.8h4.2v4.2h-4.2zM654.2 501.2h4.2v4.2h-4.2zM655.1 461.7h4.2v4.2h-4.2zM655.6 480.1h4.2v4.2h-4.2zM656.5 485.7h4.2v4.2h-4.2zM657.3 464.6h4.2v4.2h-4.2zM657.8 475.5h4.2v4.2h-4.2zM658.8 464.6h4.2v4.2h-4.2zM659.4 464.6h4.2v4.2h-4.2zM660.0 467.8h4.2v4.2h-4.2zM661.0 475.5h4.2v4.2h-4.2zM661.7 501.2h4.2v4.2h-4.2zM662.7 492.5h4.2v4.2h-4.2zM663.1 475.5h4.2v4.2h-4.2zM664.3 475.5h4.2v4.2h-4.2zM664.6 475.5h4.2v4.2h-4.2zM665.1 513.5h4.2v4.2h-4.2zM666.0 492.5h4.2v4.2h-4.2zM667.0 471.4h4.2v4.2h-4.2zM667.8 480.1h4.2v4.2h-4.2zM668.5 485.7h4.2v4.2h-4.2zM669.2 480.1h4.2v4.2h-4.2zM670.1 501.2h4.2v4.2h-4.2zM670.7 501.2h4.2v4.2h-4.2zM671.5 475.5h4.2v4.2h-4.2zM672.2 485.7h4.2v4.2h-4.2zM673.0 485.7h4.2v4.2h-4.2zM673.8 492.5h4.2v4.2h-4.2zM674.4 480.1h4.2v4.2h-4.2zM675.2 471.4h4.2v4.2h-4.2zM675.8 485.7h4.2v4.2h-4.2zM676.6 485.7h4.2v4.2h-4.2zM677.3 492.5h4.2v4.2h-4.2zM678.2 485.7h4.2v4.2h-4.2zM678.8 471.4h4.2v4.2h-4.2zM679.8 501.2h4.2v4.2h-4.2zM680.4 464.6h4.2v4.2h-4.2zM681.1 492.5h4.2v4.2h-4.2zM682.0 501.2h4.2v4.2h-4.2zM682.4 485.7h4.2v4.2h-4.2zM683.4 461.7h4.2v4.2h-4.2zM684.2 501.2h4.2v4.2h-4.2zM685.1 471.4h4.2v4.2h-4.2zM685.9 480.1h4.2v4.2h-4.2zM686.5 501.2h4.2v4.2h-4.2zM687.0 513.5h4.2v4.2h-4.2zM687.9 492.5h4.2v4.2h-4.2zM688.8 485.7h4.2v4.2h-4.2zM689.5 485.7h4.2v4.2h-4.2zM690.0 475.5h4.2v4.2h-4.2zM690.7 456.6h4.2v4.2h-4.2zM691.8 501.2h4.2v4.2h-4.2zM692.5 492.5h4.2v4.2h-4.2zM693.2 501.2h4.2v4.2h-4.2zM693.7 492.5h4.2v4.2h-4.2zM694.6 471.4h4.2v4.2h-4.2zM695.4 467.8h4.2v4.2h-4.2zM696.3 485.7h4.2v4.2h-4.2zM697.0 471.4h4.2v4.2h-4.2zM697.7 471.4h4.2v4.2h-4.2zM698.5 492.5h4.2v4.2h-4.2zM699.2 475.5h4.2v4.2h-4.2zM699.8 513.5h4.2v4.2h-4.2zM700.7 485.7h4.2v4.2h-4.2zM701.0 501.2h4.2v4.2h-4.2zM701.8 485.7h4.2v4.2h-4.2zM703.8 485.7h4.2v4.2h-4.2zM704.2 464.6h4.2v4.2h-4.2zM705.2 471.4h4.2v4.2h-4.2zM705.8 464.6h4.2v4.2h-4.2zM706.5 480.1h4.2v4.2h-4.2zM707.2 492.5h4.2v4.2h-4.2zM708.2 492.5h4.2v4.2h-4.2zM709.0 480.1h4.2v4.2h-4.2zM709.7 492.5h4.2v4.2h-4.2zM710.4 513.5h4.2v4.2h-4.2zM711.0 475.5h4.2v4.2h-4.2zM711.9 485.7h4.2v4.2h-4.2zM712.6 492.5h4.2v4.2h-4.2zM713.3 485.7h4.2v4.2h-4.2zM714.2 485.7h4.2v4.2h-4.2zM714.8 513.5h4.2v4.2h-4.2zM715.5 480.1h4.2v4.2h-4.2zM716.1 492.5h4.2v4.2h-4.2zM717.0 480.1h4.2v4.2h-4.2zM717.8 501.2h4.2v4.2h-4.2zM718.6 485.7h4.2v4.2h-4.2zM719.4 480.1h4.2v4.2h-4.2zM720.2 501.2h4.2v4.2h-4.2zM720.9 480.1h4.2v4.2h-4.2zM721.5 475.5h4.2v4.2h-4.2zM722.0 471.4h4.2v4.2h-4.2zM723.0 475.5h4.2v4.2h-4.2zM723.7 485.7h4.2v4.2h-4.2zM724.7 475.5h4.2v4.2h-4.2zM725.1 485.7h4.2v4.2h-4.2zM726.0 485.7h4.2v4.2h-4.2zM726.8 485.7h4.2v4.2h-4.2zM727.7 480.1h4.2v4.2h-4.2zM728.2 485.7h4.2v4.2h-4.2zM728.9 513.5h4.2v4.2h-4.2zM729.9 501.2h4.2v4.2h-4.2zM730.7 513.5h4.2v4.2h-4.2zM731.2 480.1h4.2v4.2h-4.2zM732.7 471.4h4.2v4.2h-4.2zM733.3 492.5h4.2v4.2h-4.2zM734.2 467.8h4.2v4.2h-4.2zM734.9 485.7h4.2v4.2h-4.2zM735.7 501.2h4.2v4.2h-4.2zM736.3 513.5h4.2v4.2h-4.2zM737.3 485.7h4.2v4.2h-4.2zM738.0 501.2h4.2v4.2h-4.2zM738.8 492.5h4.2v4.2h-4.2zM739.5 480.1h4.2v4.2h-4.2zM740.4 513.5h4.2v4.2h-4.2zM741.2 485.7h4.2v4.2h-4.2zM741.6 513.5h4.2v4.2h-4.2zM742.3 492.5h4.2v4.2h-4.2zM743.3 501.2h4.2v4.2h-4.2zM743.8 485.7h4.2v4.2h-4.2zM745.7 475.5h4.2v4.2h-4.2zM746.9 492.5h4.2v4.2h-4.2zM747.5 513.5h4.2v4.2h-4.2zM748.5 467.8h4.2v4.2h-4.2zM749.3 480.1h4.2v4.2h-4.2zM749.9 485.7h4.2v4.2h-4.2zM750.8 485.7h4.2v4.2h-4.2zM751.6 471.4h4.2v4.2h-4.2zM752.1 492.5h4.2v4.2h-4.2zM752.9 492.5h4.2v4.2h-4.2zM753.9 475.5h4.2v4.2h-4.2zM754.5 485.7h4.2v4.2h-4.2zM755.2 485.7h4.2v4.2h-4.2zM756.0 513.5h4.2v4.2h-4.2zM756.7 467.8h4.2v4.2h-4.2zM757.4 492.5h4.2v4.2h-4.2zM758.3 480.1h4.2v4.2h-4.2zM758.9 480.1h4.2v4.2h-4.2zM759.5 492.5h4.2v4.2h-4.2zM760.2 513.5h4.2v4.2h-4.2zM761.3 492.5h4.2v4.2h-4.2zM761.8 480.1h4.2v4.2h-4.2zM762.6 464.6h4.2v4.2h-4.2zM763.4 501.2h4.2v4.2h-4.2zM764.2 485.7h4.2v4.2h-4.2zM764.9 464.6h4.2v4.2h-4.2zM765.7 480.1h4.2v4.2h-4.2zM766.4 467.8h4.2v4.2h-4.2zM767.3 501.2h4.2v4.2h-4.2zM767.9 492.5h4.2v4.2h-4.2zM769.3 480.1h4.2v4.2h-4.2zM770.3 492.5h4.2v4.2h-4.2zM770.8 501.2h4.2v4.2h-4.2zM771.7 513.5h4.2v4.2h-4.2zM772.3 492.5h4.2v4.2h-4.2zM773.2 480.1h4.2v4.2h-4.2zM773.9 485.7h4.2v4.2h-4.2zM774.6 492.5h4.2v4.2h-4.2zM775.3 513.5h4.2v4.2h-4.2zM776.0 501.2h4.2v4.2h-4.2zM776.9 485.7h4.2v4.2h-4.2zM777.7 467.8h4.2v4.2h-4.2zM778.5 480.1h4.2v4.2h-4.2zM779.4 492.5h4.2v4.2h-4.2zM779.8 480.1h4.2v4.2h-4.2z" fill="#000"/>
<path d="M480.5 245.3h0M479.5 244.4h0M480.9 247.9h0M481.5 249.6h0M481.1 249.8h0M481.0 251.4h0M480.4 251.2h0M480.7 254.4h0M481.4 254.8h0M481.6 255.7h0M482.4 256.3h0M482.6 258.0h0M482.3 257.7h0M483.4 258.7h0M483.0 261.5h0M482.8 264.7h0M482.4 265.7h0M484.0 265.4h0M483.3 265.9h0M484.5 266.9h0M483.4 267.5h0M483.7 269.5h0M484.0 269.8h0M484.8 272.2h0M484.8 273.3h0M486.0 273.8h0M486.7 274.3h0M486.6 277.7h0M485.5 278.2h0M486.2 278.7h0M486.2 280.4h0M486.4 281.8h0M487.1 281.4h0M486.8 283.4h0M486.8 283.9h0M487.7 285.1h0M487.7 288.4h0M487.9 287.3h0M488.4 288.6h0M488.7 289.7h0M489.3 289.8h0M488.6 291.6h0M488.9 296.5h0M490.0 293.9h0M490.2 294.8h0M490.0 295.8h0M490.0 294.7h0M491.1 298.6h0M490.7 298.4h0M490.8 300.0h0M491.3 301.5h0M491.3 301.7h0M491.2 301.6h0M491.3 303.9h0M492.8 304.6h0M492.3 304.8h0M492.7 307.6h0M492.2 304.9h0M493.1 310.0h0M492.8 310.8h0M493.3 307.8h0M492.6 309.6h0M493.8 308.8h0M493.4 312.2h0M493.5 314.0h0M494.0 314.7h0M494.9 312.1h0M493.9 316.3h0M494.8 313.5h0M495.7 316.2h0M495.1 319.7h0M495.5 317.4h0M496.6 318.9h0M496.1 323.3h0M496.6 319.5h0M496.7 321.0h0M495.4 321.8h0M497.5 323.5h0M496.7 320.8h0M497.1 326.6h0M497.3 326.3h0M497.3 325.1h0M497.6 327.0h0M496.9 325.5h0M498.4 325.3h0M499.5 331.9h0M499.0 331.3h0M499.0 327.4h0M499.7 328.0h0M498.8 331.3h0M498.9 332.4h0M500.7 332.6h0M500.0 332.8h0M500.9 333.9h0M501.1 334.9h0M501.1 335.8h0M500.9 333.7h0M501.4 337.2h0M501.0 335.5h0M501.9 337.6h0M501.5 337.7h0M502.5 338.3h0M501.9 338.4h0M502.1 342.7h0M502.1 341.0h0M502.5 340.4h0M502.4 342.6h0M503.6 343.0h0M503.6 342.8h0M503.9 344.4h0M503.5 343.1h0M504.6 345.7h0M504.4 346.2h0M505.7 345.1h0M504.4 346.6h0M505.2 347.1h0M505.3 343.5h0M505.8 349.5h0M506.1 348.5h0M506.2 349.3h0M506.2 351.1h0M507.1 349.9h0M507.2 353.3h0M507.5 351.0h0M507.1 350.1h0M508.2 351.3h0M507.6 353.6h0M507.4 351.1h0M509.6 352.2h0M509.1 354.2h0M508.6 358.4h0M507.5 352.3h0M508.3 358.7h0M508.7 356.6h0M509.2 358.5h0M510.4 366.0h0M509.7 360.4h0M510.0 365.3h0M510.4 366.0h0M509.7 361.3h0M510.5 354.6h0M511.6 360.2h0M511.6 357.9h0M510.9 360.6h0M511.8 367.5h0M512.3 361.8h0M512.8 366.7h0M512.4 372.1h0M512.7 369.7h0M512.9 377.7h0M513.1 365.5h0M514.5 355.8h0M513.2 370.9h0M513.7 378.0h0M513.3 365.4h0M514.1 363.0h0M513.5 368.1h0M513.8 379.0h0M514.9 363.3h0M514.8 372.7h0M515.5 372.6h0M515.3 365.8h0M515.2 373.6h0M516.1 376.6h0M516.3 374.2h0M516.4 373.4h0M517.0 371.0h0M516.8 375.2h0M516.2 381.7h0M516.8 374.3h0M517.3 377.2h0M517.3 375.5h0M517.4 371.9h0M518.1 382.8h0M518.7 387.8h0M517.6 381.1h0M517.8 385.4h0M518.8 378.0h0M518.5 382.2h0M519.3 376.1h0M520.1 382.0h0M520.2 380.8h0M520.2 374.3h0M519.8 384.8h0M520.5 384.2h0M521.0 386.3h0M521.2 375.9h0M520.7 386.1h0M521.8 379.0h0M521.6 386.3h0M521.1 379.7h0M522.1 387.6h0M522.5 385.2h0M522.1 385.8h0M522.4 388.0h0M522.7 394.7h0M523.0 389.4h0M522.9 385.0h0M523.1 385.0h0M523.8 404.3h0M524.2 389.2h0M524.7 389.0h0M524.4 385.4h0M523.4 386.1h0M525.6 385.8h0M525.8 387.8h0M524.8 389.9h0M525.4 387.8h0M524.9 385.4h0M527.2 385.4h0M526.4 384.0h0M527.1 396.1h0M525.8 393.3h0M526.9 391.9h0M527.3 390.2h0M528.3 394.9h0M528.5 396.4h0M529.2 391.4h0M529.5 386.5h0M530.3 393.5h0M528.7 386.7h0M530.5 393.5h0M530.5 397.3h0M530.7 390.2h0M530.9 404.3h0M531.7 410.3h0M532.8 389.0h0M533.3 398.3h0M532.7 388.0h0M532.5 399.6h0M534.9 393.3h0M533.8 399.9h0M535.6 386.7h0M534.3 398.0h0M535.8 401.7h0M534.8 390.2h0M536.2 389.4h0M537.1 402.4h0M538.2 398.9h0M538.0 396.7h0M538.9 403.1h0M538.9 406.3h0M539.0 404.3h0M539.3 408.4h0M540.3 408.9h0M540.6 399.2h0M541.1 398.9h0M541.5 406.3h0M542.0 404.7h0M542.4 401.3h0M543.0 401.3h0M543.3 408.9h0M543.8 417.2h0M544.0 414.3h0M544.9 403.9h0M545.2 404.3h0M545.4 421.0h0M546.0 406.3h0M546.4 408.4h0M546.8 407.1h0M547.3 406.7h0M547.6 428.6h0M548.1 409.8h0M548.4 408.4h0M548.9 402.7h0M549.2 423.1h0M550.0 404.3h0M550.3 416.6h0M550.8 416.0h0M550.9 404.7h0M551.4 411.2h0M552.1 417.2h0M552.6 421.0h0M552.9 409.3h0M553.4 409.8h0M553.8 413.3h0M554.2 418.4h0M554.5 412.8h0M555.3 408.4h0M555.5 412.8h0M556.0 417.2h0M556.5 419.0h0M556.8 417.2h0M557.5 427.8h0M557.7 426.1h0M558.2 431.4h0M559.0 417.2h0M559.3 424.6h0M559.5 419.0h0M559.7 413.8h0M560.2 428.6h0M560.9 412.8h0M561.3 429.5h0M561.7 412.2h0M562.1 430.4h0M562.7 412.8h0M563.0 420.3h0M563.6 423.1h0M563.9 423.1h0M564.4 432.3h0M565.0 413.3h0M565.3 424.6h0M565.6 435.4h0M566.1 425.3h0M566.5 421.0h0M567.0 435.4h0M567.6 426.9h0M567.9 421.0h0M568.2 434.3h0M568.7 421.0h0M569.2 421.0h0M569.9 416.0h0M570.0 435.4h0M570.7 426.9h0M571.0 426.9h0M571.4 435.4h0M571.8 430.4h0M572.5 434.3h0M572.7 421.7h0M573.2 427.8h0M573.5 431.4h0M574.2 431.4h0M574.5 419.0h0M574.8 413.8h0M575.3 448.8h0M575.8 431.4h0M576.5 430.4h0M576.7 437.7h0M577.3 441.4h0M577.5 429.5h0M578.1 426.9h0M578.1 431.4h0M578.8 426.1h0M579.4 425.3h0M579.8 436.5h0M580.2 440.1h0M580.9 437.7h0M581.2 423.8h0M581.5 431.4h0M581.8 434.3h0M582.4 431.4h0M582.7 421.7h0M583.2 440.1h0M583.7 434.3h0M584.1 433.3h0M584.7 432.3h0M585.3 433.3h0M585.5 435.4h0M586.0 437.7h0M586.2 442.7h0M587.0 426.1h0M587.2 427.8h0M587.6 438.9h0M588.0 427.8h0M588.9 444.2h0M588.8 427.8h0M589.3 426.1h0M589.8 454.4h0M590.3 436.5h0M591.0 428.6h0M591.1 450.6h0M591.7 444.2h0M592.3 432.3h0M592.4 437.7h0M593.2 452.4h0M593.6 442.7h0M593.7 448.8h0M594.4 444.2h0M594.7 431.4h0M595.2 445.6h0M595.6 473.5h0M596.1 436.5h0M596.6 436.5h0M597.0 445.6h0M597.4 434.3h0M598.0 456.5h0M598.2 440.1h0M598.9 430.4h0M599.2 442.7h0M599.9 441.4h0M600.2 447.2h0M600.5 440.1h0M601.1 454.4h0M601.2 456.5h0M601.8 461.2h0M602.3 437.7h0M602.8 452.4h0M603.2 429.5h0M603.5 434.3h0M603.9 437.7h0M604.6 450.6h0M604.8 429.5h0M605.2 458.7h0M605.7 444.2h0M606.1 444.2h0M606.9 438.9h0M607.7 454.4h0M608.5 438.9h0M609.2 431.4h0M609.8 463.8h0M610.5 440.1h0M611.4 448.8h0M612.3 436.5h0M612.9 458.7h0M613.8 450.6h0M614.5 454.4h0M615.2 442.7h0M616.0 450.6h0M616.6 447.2h0M617.6 447.2h0M618.2 447.2h0M618.9 448.8h0M619.7 450.6h0M620.5 454.4h0M621.2 430.4h0M621.9 452.4h0M622.6 450.6h0M623.4 441.4h0M624.0 441.4h0M624.9 435.4h0M625.6 463.8h0M626.7 447.2h0M627.3 461.2h0M627.8 448.8h0M628.8 442.7h0M629.4 447.2h0M630.0 445.6h0M630.7 454.4h0M631.9 447.2h0M632.4 487.8h0M633.0 442.7h0M633.9 433.3h0M634.6 448.8h0M635.3 458.7h0M636.1 445.6h0M636.7 466.7h0M637.5 466.7h0M638.3 450.6h0M639.0 473.5h0M640.1 450.6h0M640.4 447.2h0M641.4 456.5h0M642.1 452.4h0M643.0 448.8h0M643.3 452.4h0M644.3 447.2h0M645.0 452.4h0M645.7 469.9h0M646.7 445.6h0M647.4 445.6h0M648.1 450.6h0M648.7 448.8h0M649.7 461.2h0M650.2 448.8h0M650.9 461.2h0M652.0 452.4h0M652.8 461.2h0M653.3 458.7h0M653.9 456.5h0M655.0 473.5h0M655.5 477.6h0M656.2 461.2h0M657.2 466.7h0M657.7 482.2h0M658.5 494.6h0M659.3 448.8h0M660.0 487.8h0M660.8 466.7h0M661.5 473.5h0M662.2 469.9h0M663.1 461.2h0M664.0 452.4h0M664.5 463.8h0M665.4 473.5h0M666.0 463.8h0M666.8 461.2h0M667.4 482.2h0M668.4 456.5h0M669.2 469.9h0M669.8 461.2h0M670.5 450.6h0M671.3 458.7h0M671.9 466.7h0M672.7 458.7h0M673.7 463.8h0M674.4 456.5h0M675.1 469.9h0M675.7 469.9h0M676.7 458.7h0M677.3 469.9h0M678.1 458.7h0M679.0 458.7h0M679.6 458.7h0M680.2 463.8h0M681.1 452.4h0M681.8 463.8h0M682.6 456.5h0M683.5 469.9h0M684.0 461.2h0M684.8 450.6h0M685.4 466.7h0M686.2 466.7h0M687.0 456.5h0M687.7 450.6h0M688.4 461.2h0M689.1 452.4h0M690.1 477.6h0M690.8 473.5h0M691.5 445.6h0M692.3 466.7h0M693.0 461.2h0M693.6 461.2h0M694.3 473.5h0M695.2 461.2h0M696.0 456.5h0M696.7 477.6h0M697.7 466.7h0M698.4 461.2h0M699.0 477.6h0M699.8 477.6h0M700.4 458.7h0M701.2 466.7h0M702.1 454.4h0M702.9 448.8h0M703.4 461.2h0M704.2 461.2h0M705.1 494.6h0M706.0 473.5h0M706.4 463.8h0M707.2 469.9h0M707.8 466.7h0M708.8 473.5h0M709.2 469.9h0M710.4 450.6h0M711.1 450.6h0M711.5 466.7h0M712.5 482.2h0M713.0 473.5h0M714.0 473.5h0M714.5 461.2h0M715.3 452.4h0M716.1 461.2h0M716.9 454.4h0M717.6 477.6h0M718.5 469.9h0M719.2 473.5h0M720.0 458.7h0M720.8 477.6h0M721.1 477.6h0M722.1 466.7h0M722.9 482.2h0M723.8 482.2h0M724.5 477.6h0M725.2 463.8h0M725.8 466.7h0M726.6 466.7h0M727.4 458.7h0M728.2 469.9h0M729.1 477.6h0M729.9 456.5h0M730.5 454.4h0M731.1 447.2h0M732.0 461.2h0M732.5 473.5h0M733.2 477.6h0M734.1 469.9h0M734.8 477.6h0M735.5 454.4h0M736.3 461.2h0M737.0 466.7h0M737.8 466.7h0M738.7 461.2h0M739.4 477.6h0M740.1 456.5h0M740.9 469.9h0M741.5 466.7h0M742.3 458.7h0M743.1 454.4h0M743.9 487.8h0M744.3 469.9h0M745.5 454.4h0M746.2 463.8h0M746.8 482.2h0M747.5 473.5h0M748.2 482.2h0M749.2 473.5h0M749.8 477.6h0M750.4 469.9h0M751.2 477.6h0M752.0 473.5h0M752.8 487.8h0M753.7 473.5h0M754.3 482.2h0M755.2 463.8h0M755.8 461.2h0M756.5 463.8h0M757.1 461.2h0M758.2 515.6h0M758.7 469.9h0M759.8 450.6h0M760.3 463.8h0M761.0 477.6h0M761.7 461.2h0M762.6 448.8h0M763.2 469.9h0M764.0 461.2h0M764.7 456.5h0M765.5 482.2h0M766.3 442.7h0M767.0 494.6h0M767.7 454.4h0M768.5 473.5h0M769.3 469.9h0M769.9 454.4h0M770.8 466.7h0M771.5 463.8h0M772.4 466.7h0M773.0 473.5h0M773.7 458.7h0M774.6 463.8h0M775.0 487.8h0M776.1 452.4h0M776.6 473.5h0M777.6 466.7h0M778.3 469.9h0M779.1 503.3h0M779.7 477.6h0M780.4 473.5h0M781.4 477.6h0M781.9 456.5h0" stroke="#f00" stroke-width="5.4" stroke-linecap="round" fill="none"/>
<rect x="470.1" y="242.5" width="11.9" height="279.5" fill="none" stroke="#000" stroke-width="1.3"/>
<rect x="471" y="244" width="8" height="277" fill="#f7901e"/>
<path d="M474.5 492.2h0M474.2 310.8h0M474.0 485.9h0M474.6 471.7h0M474.0 376.3h0M475.0 325.2h0M474.6 370.2h0M474.5 399.4h0M473.2 464.0h0M472.6 517.0h0M472.7 293.3h0M473.2 261.9h0M474.7 389.0h0M472.0 497.6h0M474.5 388.8h0M473.0 316.8h0M474.6 301.9h0M473.7 304.2h0" stroke="#fff" stroke-width="1.2" stroke-linecap="round" fill="none" opacity="0.8"/>
<path d="M480.1 300.8h0M480.7 334.0h0M479.9 493.7h0M480.3 486.4h0M480.5 463.2h0M479.6 419.1h0M480.3 491.7h0M480.0 431.6h0M479.6 385.3h0M480.0 333.0h0M480.7 383.5h0M481.0 429.8h0M480.4 440.4h0M480.5 333.2h0M480.2 352.7h0M480.1 321.3h0M481.0 347.3h0M480.5 366.1h0M480.8 445.7h0M479.7 485.9h0M480.9 498.9h0M480.4 332.0h0M479.8 504.1h0M480.3 339.7h0M480.8 441.1h0M480.4 382.8h0M480.1 352.7h0M479.6 492.8h0M480.2 420.5h0M480.0 465.3h0M479.5 381.9h0M479.5 327.0h0M481.0 444.7h0M480.1 415.2h0M480.8 375.7h0M480.4 450.4h0M480.0 414.2h0M480.6 500.0h0M479.7 505.4h0M479.5 465.7h0M480.7 330.1h0M480.1 479.4h0M479.5 438.3h0M480.7 412.9h0M480.6 349.8h0M479.8 379.9h0M479.8 376.1h0M480.9 426.1h0M480.0 359.7h0M480.9 397.8h0M481.0 413.4h0M480.3 497.2h0M480.6 427.7h0M480.1 493.2h0M480.1 503.0h0M479.6 394.6h0M480.3 509.2h0M479.9 477.3h0M480.5 457.8h0M480.4 513.7h0M480.0 387.6h0M479.8 311.2h0M479.8 501.4h0M480.8 324.7h0M480.4 405.4h0M480.4 445.0h0M480.0 511.5h0M480.2 438.2h0M480.5 340.5h0M479.6 390.5h0M480.6 479.3h0M480.6 324.9h0M480.9 476.4h0M480.8 415.1h0M480.9 310.3h0M479.5 304.4h0M479.9 354.7h0M479.8 424.8h0M479.6 429.9h0M479.7 449.1h0M479.5 368.3h0M480.9 418.4h0M480.7 444.8h0M480.4 342.1h0M480.4 308.7h0M480.7 511.2h0M480.8 311.2h0M480.0 370.0h0M479.7 437.9h0M480.7 369.0h0M480.8 475.4h0M479.7 468.7h0M480.8 343.4h0M480.4 440.5h0M480.4 321.2h0M480.5 439.0h0M480.7 476.8h0M480.0 458.9h0M480.8 496.4h0M479.7 305.9h0M480.5 347.2h0M480.3 507.9h0M480.1 355.6h0M480.2 444.6h0M479.7 383.7h0M479.7 445.7h0M480.7 382.9h0M480.1 418.7h0M479.8 354.4h0M480.0 400.6h0M479.6 465.6h0M480.4 365.9h0M479.6 467.9h0M479.7 329.3h0M479.7 317.9h0M480.9 359.2h0M480.0 483.2h0M480.4 341.2h0M480.2 494.5h0M480.1 456.4h0M479.6 460.0h0M480.7 481.7h0M480.5 381.6h0M479.6 414.1h0M480.6 342.0h0M479.9 417.9h0M480.6 497.2h0M479.7 340.5h0M480.7 441.8h0M480.6 519.3h0M480.9 485.5h0M480.7 386.9h0M480.5 340.6h0M480.6 466.7h0M480.6 397.9h0M480.1 392.3h0M479.6 485.8h0M480.3 385.3h0M480.3 458.8h0M480.1 482.7h0M480.9 385.2h0M479.7 467.3h0M481.0 332.6h0M480.6 481.6h0M480.9 327.1h0M479.6 517.3h0M479.7 338.9h0M480.4 398.2h0M480.6 341.9h0M480.9 347.8h0M480.7 314.9h0M480.2 307.2h0M480.0 368.7h0M480.6 400.1h0M479.6 519.0h0M480.8 501.6h0M479.9 386.7h0M479.8 327.5h0M479.5 410.7h0M479.7 338.8h0" stroke="#f7901e" stroke-width="2" stroke-linecap="round" fill="none"/>
<path d="M477.2 396.8h1.5M473.1 434.0h1.5M473.6 405.4h1.5M473.7 403.2h1.5M475.8 407.2h1.5M474.4 458.2h1.5M477.2 335.9h1.5M472.8 322.6h1.5M477.9 488.3h1.5M473.4 494.0h1.5M473.2 401.3h1.5M475.0 483.0h1.5M472.2 363.1h1.5M475.6 313.3h1.5M473.4 393.0h1.5M477.3 452.2h1.5M477.0 452.2h1.5M476.2 469.9h1.5M476.1 447.1h1.5M473.8 333.5h1.5M476.5 333.2h1.5M477.5 419.3h1.5M474.0 487.3h1.5M472.9 402.9h1.5M472.5 493.1h1.5M475.5 460.7h1.5M473.7 460.4h1.5M476.2 428.7h1.5M477.7 386.7h1.5M474.5 438.4h1.5M471 488h8M471 503h8M471 511h8" stroke="#1a7a1a" stroke-width="1.4" fill="none"/>
<path d="M471 497h8M471 516h8" stroke="#fff" stroke-width="1.5" fill="none"/>
<text x="695.5" y="259.6" font-size="14" text-anchor="start" fill="#000" >Normal UCL</text>
<rect x="698.4" y="276.4" width="5.8" height="5.8" fill="#000"/>
<text x="720.8" y="283.8" font-size="14" text-anchor="start" fill="#000" >588 nm</text>
<circle cx="701.3" cy="296.7" r="3" fill="#f00"/>
<text x="720.8" y="300.3" font-size="14" text-anchor="start" fill="#000" >656 nm</text>
<path d="M497.5 284.4H521" stroke="#000" stroke-width="1.3"/><path d="M527 284.4L519.5 281.2V287.6Z" fill="#000"/>
<rect x="536.1" y="243.7" width="138.1" height="125.3" fill="#fff"/>
<path d="M539.2 267.3h2.6v2.6h-2.6zM539.6 254.8h2.6v2.6h-2.6zM540.0 247.8h2.6v2.6h-2.6zM540.4 246.4h2.6v2.6h-2.6zM540.8 247.6h2.6v2.6h-2.6zM541.2 247.6h2.6v2.6h-2.6zM541.6 249.0h2.6v2.6h-2.6zM542.0 250.7h2.6v2.6h-2.6zM542.4 252.8h2.6v2.6h-2.6zM542.8 252.0h2.6v2.6h-2.6zM543.2 253.9h2.6v2.6h-2.6zM543.6 255.4h2.6v2.6h-2.6zM544.0 258.2h2.6v2.6h-2.6zM544.4 259.0h2.6v2.6h-2.6zM544.8 261.4h2.6v2.6h-2.6zM545.2 263.6h2.6v2.6h-2.6zM545.6 265.0h2.6v2.6h-2.6zM546.0 267.0h2.6v2.6h-2.6zM546.4 269.4h2.6v2.6h-2.6zM546.8 270.6h2.6v2.6h-2.6zM547.2 273.2h2.6v2.6h-2.6zM547.6 276.1h2.6v2.6h-2.6zM548.0 278.6h2.6v2.6h-2.6zM548.4 280.6h2.6v2.6h-2.6zM548.8 281.8h2.6v2.6h-2.6zM549.2 284.7h2.6v2.6h-2.6zM549.6 287.4h2.6v2.6h-2.6zM550.0 289.1h2.6v2.6h-2.6zM550.4 290.6h2.6v2.6h-2.6zM550.8 292.0h2.6v2.6h-2.6zM551.2 294.7h2.6v2.6h-2.6zM551.6 295.7h2.6v2.6h-2.6zM552.0 297.1h2.6v2.6h-2.6zM552.4 298.9h2.6v2.6h-2.6zM552.8 302.3h2.6v2.6h-2.6zM553.2 302.9h2.6v2.6h-2.6zM553.6 305.5h2.6v2.6h-2.6zM554.0 305.2h2.6v2.6h-2.6zM554.4 308.4h2.6v2.6h-2.6zM554.8 307.9h2.6v2.6h-2.6zM555.2 309.9h2.6v2.6h-2.6zM555.6 315.6h2.6v2.6h-2.6zM556.0 314.3h2.6v2.6h-2.6zM556.4 313.4h2.6v2.6h-2.6zM556.8 315.5h2.6v2.6h-2.6zM557.2 317.7h2.6v2.6h-2.6zM557.6 320.9h2.6v2.6h-2.6zM558.0 318.3h2.6v2.6h-2.6zM558.4 316.5h2.6v2.6h-2.6zM558.8 321.0h2.6v2.6h-2.6zM559.2 322.7h2.6v2.6h-2.6zM559.6 323.8h2.6v2.6h-2.6zM560.0 328.0h2.6v2.6h-2.6zM560.4 326.2h2.6v2.6h-2.6zM560.8 328.4h2.6v2.6h-2.6zM561.2 323.8h2.6v2.6h-2.6zM561.6 330.3h2.6v2.6h-2.6zM562.0 334.8h2.6v2.6h-2.6zM562.4 331.6h2.6v2.6h-2.6zM562.8 330.7h2.6v2.6h-2.6zM563.2 331.1h2.6v2.6h-2.6zM563.6 336.9h2.6v2.6h-2.6zM564.0 328.7h2.6v2.6h-2.6zM564.4 331.9h2.6v2.6h-2.6zM564.8 334.3h2.6v2.6h-2.6zM565.2 335.7h2.6v2.6h-2.6zM565.6 332.2h2.6v2.6h-2.6zM566.0 335.2h2.6v2.6h-2.6zM566.4 333.6h2.6v2.6h-2.6zM566.8 335.4h2.6v2.6h-2.6zM567.2 334.9h2.6v2.6h-2.6zM567.6 331.6h2.6v2.6h-2.6zM568.0 336.0h2.6v2.6h-2.6zM568.4 339.6h2.6v2.6h-2.6zM568.8 333.2h2.6v2.6h-2.6zM569.2 336.2h2.6v2.6h-2.6zM569.6 339.9h2.6v2.6h-2.6zM570.0 333.7h2.6v2.6h-2.6zM570.4 338.7h2.6v2.6h-2.6zM570.8 334.3h2.6v2.6h-2.6zM571.2 342.9h2.6v2.6h-2.6zM571.6 344.8h2.6v2.6h-2.6zM572.0 347.3h2.6v2.6h-2.6zM572.4 349.8h2.6v2.6h-2.6zM572.8 348.6h2.6v2.6h-2.6zM573.2 355.7h2.6v2.6h-2.6zM573.6 364.2h2.6v2.6h-2.6zM574.0 346.9h2.6v2.6h-2.6zM574.8 350.1h2.6v2.6h-2.6zM575.2 338.0h2.6v2.6h-2.6zM575.6 350.3h2.6v2.6h-2.6zM576.0 349.8h2.6v2.6h-2.6zM576.4 346.3h2.6v2.6h-2.6zM577.2 343.4h2.6v2.6h-2.6zM577.6 347.7h2.6v2.6h-2.6zM578.0 355.8h2.6v2.6h-2.6zM578.4 348.8h2.6v2.6h-2.6zM578.8 364.2h2.6v2.6h-2.6zM579.2 355.7h2.6v2.6h-2.6zM579.6 350.7h2.6v2.6h-2.6zM580.0 350.0h2.6v2.6h-2.6zM580.4 346.2h2.6v2.6h-2.6zM580.8 339.7h2.6v2.6h-2.6zM581.2 339.3h2.6v2.6h-2.6zM581.6 346.7h2.6v2.6h-2.6zM582.0 346.4h2.6v2.6h-2.6zM582.4 343.4h2.6v2.6h-2.6zM583.2 350.2h2.6v2.6h-2.6zM583.6 364.1h2.6v2.6h-2.6zM584.0 364.2h2.6v2.6h-2.6zM584.4 355.9h2.6v2.6h-2.6zM584.8 355.6h2.6v2.6h-2.6zM585.2 340.3h2.6v2.6h-2.6zM585.6 349.6h2.6v2.6h-2.6zM586.0 347.2h2.6v2.6h-2.6zM586.4 344.0h2.6v2.6h-2.6zM586.8 340.2h2.6v2.6h-2.6zM588.0 364.1h2.6v2.6h-2.6zM588.4 342.5h2.6v2.6h-2.6zM588.8 341.9h2.6v2.6h-2.6zM589.2 364.2h2.6v2.6h-2.6zM589.6 343.1h2.6v2.6h-2.6zM590.0 346.7h2.6v2.6h-2.6zM590.4 343.7h2.6v2.6h-2.6zM591.2 343.0h2.6v2.6h-2.6zM591.6 343.3h2.6v2.6h-2.6zM592.0 344.0h2.6v2.6h-2.6zM592.4 347.1h2.6v2.6h-2.6zM592.8 343.5h2.6v2.6h-2.6zM593.2 346.4h2.6v2.6h-2.6zM593.6 350.0h2.6v2.6h-2.6zM594.0 344.0h2.6v2.6h-2.6zM594.4 346.4h2.6v2.6h-2.6zM594.8 346.7h2.6v2.6h-2.6zM595.2 364.2h2.6v2.6h-2.6zM595.6 339.5h2.6v2.6h-2.6zM596.4 339.1h2.6v2.6h-2.6zM597.2 339.9h2.6v2.6h-2.6zM597.6 341.8h2.6v2.6h-2.6zM598.0 348.1h2.6v2.6h-2.6zM598.4 348.0h2.6v2.6h-2.6zM598.8 364.3h2.6v2.6h-2.6zM599.2 349.9h2.6v2.6h-2.6zM599.6 349.7h2.6v2.6h-2.6zM600.0 348.1h2.6v2.6h-2.6zM600.4 346.8h2.6v2.6h-2.6zM600.8 340.2h2.6v2.6h-2.6zM601.2 355.8h2.6v2.6h-2.6zM601.6 344.6h2.6v2.6h-2.6zM602.0 355.7h2.6v2.6h-2.6zM602.4 346.4h2.6v2.6h-2.6zM602.8 343.0h2.6v2.6h-2.6zM603.2 355.7h2.6v2.6h-2.6zM603.6 364.3h2.6v2.6h-2.6zM604.0 349.0h2.6v2.6h-2.6zM604.4 364.3h2.6v2.6h-2.6zM604.8 355.6h2.6v2.6h-2.6zM606.0 338.8h2.6v2.6h-2.6zM606.4 355.6h2.6v2.6h-2.6zM606.8 350.3h2.6v2.6h-2.6zM607.2 350.1h2.6v2.6h-2.6zM607.6 347.6h2.6v2.6h-2.6zM608.0 355.8h2.6v2.6h-2.6zM608.8 345.9h2.6v2.6h-2.6zM609.2 338.4h2.6v2.6h-2.6zM610.0 338.8h2.6v2.6h-2.6zM610.4 355.7h2.6v2.6h-2.6zM610.8 355.7h2.6v2.6h-2.6zM611.2 364.3h2.6v2.6h-2.6zM611.6 339.7h2.6v2.6h-2.6zM612.0 349.8h2.6v2.6h-2.6zM612.4 349.0h2.6v2.6h-2.6zM612.8 350.3h2.6v2.6h-2.6zM613.2 364.1h2.6v2.6h-2.6zM613.6 355.9h2.6v2.6h-2.6zM614.0 349.9h2.6v2.6h-2.6zM614.4 340.3h2.6v2.6h-2.6zM614.8 364.2h2.6v2.6h-2.6zM615.2 364.2h2.6v2.6h-2.6zM615.6 355.8h2.6v2.6h-2.6zM616.0 342.8h2.6v2.6h-2.6zM616.4 355.7h2.6v2.6h-2.6zM617.2 340.5h2.6v2.6h-2.6zM617.6 347.1h2.6v2.6h-2.6zM618.0 349.7h2.6v2.6h-2.6zM618.4 355.7h2.6v2.6h-2.6zM618.8 345.8h2.6v2.6h-2.6zM619.2 349.7h2.6v2.6h-2.6zM619.6 355.7h2.6v2.6h-2.6zM620.0 349.8h2.6v2.6h-2.6zM620.4 355.8h2.6v2.6h-2.6zM621.2 346.1h2.6v2.6h-2.6zM621.6 355.7h2.6v2.6h-2.6zM622.0 355.8h2.6v2.6h-2.6zM622.4 364.1h2.6v2.6h-2.6zM623.2 346.7h2.6v2.6h-2.6zM623.6 348.7h2.6v2.6h-2.6zM624.0 355.7h2.6v2.6h-2.6zM624.4 340.2h2.6v2.6h-2.6zM624.8 338.9h2.6v2.6h-2.6zM625.2 364.1h2.6v2.6h-2.6zM625.6 343.3h2.6v2.6h-2.6zM626.0 349.0h2.6v2.6h-2.6zM626.4 346.6h2.6v2.6h-2.6zM626.8 364.3h2.6v2.6h-2.6zM627.2 342.5h2.6v2.6h-2.6zM627.6 349.0h2.6v2.6h-2.6zM628.0 339.7h2.6v2.6h-2.6zM628.4 364.2h2.6v2.6h-2.6zM628.8 343.6h2.6v2.6h-2.6zM629.2 346.5h2.6v2.6h-2.6zM629.6 338.8h2.6v2.6h-2.6zM630.0 337.9h2.6v2.6h-2.6zM630.4 346.9h2.6v2.6h-2.6zM630.8 364.1h2.6v2.6h-2.6zM631.2 343.2h2.6v2.6h-2.6zM631.6 345.2h2.6v2.6h-2.6zM632.0 355.6h2.6v2.6h-2.6zM632.4 355.7h2.6v2.6h-2.6zM633.2 355.7h2.6v2.6h-2.6zM633.6 364.3h2.6v2.6h-2.6zM634.0 340.8h2.6v2.6h-2.6zM634.4 343.1h2.6v2.6h-2.6zM635.2 349.9h2.6v2.6h-2.6zM636.0 345.3h2.6v2.6h-2.6zM636.4 346.7h2.6v2.6h-2.6zM636.8 364.3h2.6v2.6h-2.6zM637.2 339.5h2.6v2.6h-2.6zM637.6 355.7h2.6v2.6h-2.6zM638.0 355.7h2.6v2.6h-2.6zM638.4 341.1h2.6v2.6h-2.6zM638.8 348.5h2.6v2.6h-2.6zM639.2 355.6h2.6v2.6h-2.6zM639.6 340.7h2.6v2.6h-2.6zM640.0 364.0h2.6v2.6h-2.6zM640.4 350.7h2.6v2.6h-2.6zM641.2 342.9h2.6v2.6h-2.6zM641.6 350.2h2.6v2.6h-2.6zM642.4 355.8h2.6v2.6h-2.6zM642.8 340.2h2.6v2.6h-2.6zM643.6 340.0h2.6v2.6h-2.6zM644.0 343.9h2.6v2.6h-2.6zM644.4 349.0h2.6v2.6h-2.6zM645.2 355.7h2.6v2.6h-2.6zM645.6 355.8h2.6v2.6h-2.6zM646.0 344.7h2.6v2.6h-2.6zM646.4 349.3h2.6v2.6h-2.6zM646.8 343.4h2.6v2.6h-2.6zM647.2 349.3h2.6v2.6h-2.6zM647.6 364.4h2.6v2.6h-2.6zM648.0 345.7h2.6v2.6h-2.6zM648.4 364.2h2.6v2.6h-2.6zM648.8 350.3h2.6v2.6h-2.6zM649.2 355.6h2.6v2.6h-2.6zM649.6 343.8h2.6v2.6h-2.6zM650.0 355.7h2.6v2.6h-2.6zM650.4 356.0h2.6v2.6h-2.6zM650.8 347.8h2.6v2.6h-2.6zM651.2 343.1h2.6v2.6h-2.6zM651.6 355.8h2.6v2.6h-2.6zM652.0 340.0h2.6v2.6h-2.6zM652.4 364.1h2.6v2.6h-2.6zM652.8 347.2h2.6v2.6h-2.6zM653.2 340.0h2.6v2.6h-2.6zM653.6 350.9h2.6v2.6h-2.6zM654.0 348.5h2.6v2.6h-2.6zM654.4 355.6h2.6v2.6h-2.6zM654.8 355.6h2.6v2.6h-2.6zM655.2 340.2h2.6v2.6h-2.6zM655.6 355.8h2.6v2.6h-2.6zM656.0 364.2h2.6v2.6h-2.6zM656.4 355.7h2.6v2.6h-2.6zM656.8 355.7h2.6v2.6h-2.6zM657.2 345.3h2.6v2.6h-2.6zM657.6 349.0h2.6v2.6h-2.6zM658.0 355.8h2.6v2.6h-2.6zM658.4 347.3h2.6v2.6h-2.6zM658.8 347.6h2.6v2.6h-2.6zM659.2 350.2h2.6v2.6h-2.6zM659.6 337.6h2.6v2.6h-2.6zM660.0 343.4h2.6v2.6h-2.6zM660.4 339.9h2.6v2.6h-2.6zM660.8 364.1h2.6v2.6h-2.6zM661.2 341.1h2.6v2.6h-2.6zM661.6 343.0h2.6v2.6h-2.6zM662.0 343.9h2.6v2.6h-2.6zM662.4 350.3h2.6v2.6h-2.6zM662.8 347.1h2.6v2.6h-2.6zM663.2 355.8h2.6v2.6h-2.6zM663.6 346.5h2.6v2.6h-2.6zM664.0 343.9h2.6v2.6h-2.6zM664.4 347.0h2.6v2.6h-2.6zM664.8 364.1h2.6v2.6h-2.6zM665.2 342.6h2.6v2.6h-2.6zM665.6 364.1h2.6v2.6h-2.6zM666.0 355.5h2.6v2.6h-2.6zM666.8 355.7h2.6v2.6h-2.6zM667.2 344.8h2.6v2.6h-2.6zM667.6 355.6h2.6v2.6h-2.6zM668.0 346.5h2.6v2.6h-2.6zM668.4 341.1h2.6v2.6h-2.6zM668.8 348.8h2.6v2.6h-2.6zM669.2 343.5h2.6v2.6h-2.6zM669.6 355.6h2.6v2.6h-2.6zM670.0 343.6h2.6v2.6h-2.6zM670.4 355.6h2.6v2.6h-2.6zM670.8 340.2h2.6v2.6h-2.6zM671.2 343.0h2.6v2.6h-2.6zM671.6 364.1h2.6v2.6h-2.6zM672.0 364.2h2.6v2.6h-2.6zM672.4 344.5h2.6v2.6h-2.6zM538.0 269.7h2.6v2.6h-2.6zM538.1 288.3h2.6v2.6h-2.6zM537.9 318.7h2.6v2.6h-2.6zM538.3 355.2h2.6v2.6h-2.6zM536.9 260.7h2.6v2.6h-2.6zM537.9 298.7h2.6v2.6h-2.6z" fill="#1a7a1a"/>
<path d="M542.5 250.8h0M542.8 250.7h0M543.1 248.6h0M543.5 248.4h0M543.8 247.3h0M544.1 247.5h0M544.4 247.1h0M544.7 249.9h0M545.1 248.4h0M545.4 250.0h0M545.7 248.9h0M546.0 249.9h0M546.3 249.1h0M546.7 250.5h0M547.0 252.0h0M547.3 251.2h0M547.6 253.7h0M547.9 254.2h0M548.3 254.3h0M548.6 256.0h0M548.9 257.3h0M549.2 259.0h0M549.5 260.0h0M549.9 261.2h0M550.2 263.0h0M550.5 264.0h0M550.8 265.1h0M551.1 267.3h0M551.5 269.2h0M551.8 268.7h0M552.1 270.8h0M552.4 271.3h0M552.7 271.9h0M553.1 274.1h0M553.4 273.9h0M553.7 276.1h0M554.0 275.3h0M554.3 276.9h0M554.7 277.2h0M555.0 277.6h0M555.3 279.3h0M555.6 279.4h0M555.9 280.6h0M556.3 280.8h0M556.6 280.8h0M556.9 282.1h0M557.2 282.8h0M557.5 284.0h0M557.9 283.3h0M558.2 284.5h0M558.5 283.8h0M558.8 286.0h0M559.1 285.4h0M559.5 285.4h0M559.8 287.1h0M560.1 288.4h0M560.4 287.0h0M560.7 287.8h0M561.1 288.5h0M561.4 288.7h0M561.7 290.2h0M562.0 289.8h0M562.3 290.3h0M562.7 291.6h0M563.0 291.1h0M563.3 292.4h0M563.6 291.8h0M563.9 292.1h0M564.3 292.1h0M564.6 295.1h0M564.9 293.9h0M565.2 294.7h0M565.5 294.9h0M565.9 295.5h0M566.2 295.8h0M566.5 297.5h0M566.8 295.8h0M567.1 295.8h0M567.5 296.6h0M567.8 296.7h0M568.1 298.6h0M568.4 299.0h0M568.7 298.1h0M569.1 298.2h0M569.4 299.3h0M569.7 300.8h0M570.0 298.2h0M570.3 300.9h0M570.7 300.1h0M571.0 302.0h0M571.3 300.8h0M571.6 301.7h0M571.9 301.2h0M572.3 301.9h0M572.6 303.9h0M572.9 303.8h0M573.2 303.3h0M573.5 303.3h0M573.9 302.9h0M574.2 304.3h0M574.5 304.8h0M574.8 305.1h0M575.1 305.4h0M575.5 304.9h0M575.8 306.1h0M576.1 306.4h0M576.4 308.0h0M576.7 309.0h0M577.1 307.2h0M577.4 306.8h0M577.7 307.9h0M578.0 307.5h0M578.3 307.6h0M578.7 308.8h0M579.0 307.7h0M579.3 310.3h0M579.6 309.6h0M579.9 310.4h0M580.3 310.0h0M580.6 309.4h0M580.9 309.3h0M581.2 310.8h0M581.5 310.5h0M581.9 312.1h0M582.2 312.0h0M582.5 309.7h0M582.8 312.6h0M583.1 310.1h0M583.5 311.8h0M583.8 312.7h0M584.1 309.2h0M584.4 313.9h0M584.7 314.3h0M585.1 313.9h0M585.4 313.5h0M585.7 313.9h0M586.0 312.7h0M586.3 314.5h0M586.7 314.1h0M587.0 315.8h0M587.3 312.9h0M587.6 316.6h0M587.9 316.6h0M588.3 316.1h0M588.6 315.5h0M588.9 318.3h0M589.2 312.7h0M589.5 318.5h0M589.9 318.1h0M590.2 318.4h0M590.5 318.9h0M590.8 316.2h0M591.1 317.5h0M591.5 320.2h0M591.8 319.9h0M592.1 319.4h0M592.4 314.5h0M592.7 320.8h0M593.1 322.9h0M593.4 322.6h0M593.7 320.4h0M594.0 315.1h0M594.3 323.0h0M594.7 319.8h0M595.0 312.4h0M595.3 321.8h0M595.6 316.0h0M595.9 316.7h0M596.3 319.1h0M596.6 325.5h0M596.9 320.2h0M597.2 322.6h0M597.5 327.8h0M597.9 327.5h0M598.2 321.8h0M598.5 321.5h0M598.8 318.1h0M599.1 320.2h0M599.5 324.4h0M599.8 324.5h0M600.1 323.6h0M600.4 327.0h0M600.7 320.7h0M601.1 323.5h0M601.4 326.6h0M601.7 326.3h0M602.0 328.3h0M602.3 326.0h0M602.7 323.4h0M603.0 326.2h0M603.3 321.1h0M603.6 318.7h0M603.9 327.6h0M604.3 325.3h0M604.6 326.9h0M604.9 319.0h0M605.2 324.5h0M605.5 323.8h0M605.9 322.8h0M606.2 317.2h0M606.5 325.3h0M606.8 330.7h0M607.1 328.7h0M607.5 324.7h0M607.8 327.3h0M608.1 330.8h0M608.4 315.7h0M608.7 327.3h0M609.1 330.4h0M609.4 331.2h0M609.7 335.9h0M610.0 333.5h0M610.3 330.0h0M610.7 330.1h0M611.0 332.5h0M611.3 326.6h0M611.6 329.0h0M611.9 333.5h0M612.3 338.5h0M612.6 328.9h0M612.9 329.5h0M613.2 330.8h0M613.5 336.3h0M613.9 330.0h0M614.2 337.2h0M614.5 325.7h0M614.8 329.6h0M615.1 329.6h0M615.5 334.5h0M615.8 335.8h0M616.1 323.6h0M616.4 326.6h0M616.7 332.7h0M617.1 328.0h0M617.4 323.8h0M617.7 336.5h0M618.0 334.0h0M618.3 334.1h0M618.7 329.4h0M619.0 337.0h0M619.3 330.7h0M619.6 337.5h0M619.9 327.5h0M620.3 327.9h0M620.6 333.3h0M620.9 328.8h0M621.2 335.9h0M621.5 333.9h0M621.9 327.9h0M622.2 333.1h0M622.5 331.0h0M622.8 337.7h0M623.1 329.7h0M623.5 330.8h0M623.8 339.5h0M624.1 345.0h0M624.4 343.8h0M624.7 333.8h0M625.1 334.7h0M625.4 341.7h0M625.7 333.0h0M626.0 328.6h0M626.3 334.5h0M626.7 336.3h0M627.0 329.6h0M627.3 325.3h0M627.6 326.4h0M627.9 337.8h0M628.3 330.2h0M628.6 333.6h0M628.9 335.6h0M629.2 337.9h0M629.5 332.8h0M629.9 337.4h0M630.2 329.9h0M630.5 332.8h0M630.8 329.3h0M631.1 341.2h0M631.5 334.9h0M631.8 331.0h0M632.1 333.2h0M632.4 334.0h0M632.7 339.2h0M633.1 326.5h0M633.4 329.6h0M633.7 333.4h0M634.0 349.7h0M634.3 341.0h0M634.7 335.0h0M635.0 339.7h0M635.3 347.4h0M635.6 334.5h0M635.9 333.9h0M636.3 342.8h0M636.6 338.8h0M636.9 339.9h0M637.2 333.3h0M637.5 347.2h0M637.9 346.1h0M638.2 339.6h0M638.5 340.3h0M638.8 324.9h0M639.1 340.2h0M639.5 335.5h0M639.8 339.2h0M640.1 340.7h0M640.4 334.8h0M640.7 327.1h0M641.1 339.1h0M641.4 332.7h0M641.7 335.1h0M642.0 333.6h0M642.3 335.2h0M642.7 323.7h0M643.0 344.4h0M643.3 338.9h0M643.6 344.0h0M643.9 349.2h0M644.3 337.7h0M644.6 327.0h0M644.9 332.4h0M645.2 330.6h0M645.5 334.8h0M645.9 338.4h0M646.2 326.0h0M646.5 340.1h0M646.8 329.0h0M647.1 339.9h0M647.5 337.6h0M647.8 336.4h0M648.1 337.9h0M648.4 335.2h0M648.7 334.8h0M649.1 328.3h0M649.4 338.4h0M649.7 349.9h0M650.0 350.8h0M650.3 346.9h0M650.7 343.2h0M651.0 334.8h0M651.3 347.8h0M651.6 338.7h0M651.9 338.6h0M652.3 337.3h0M652.6 339.7h0M652.9 336.5h0M653.2 338.8h0M653.5 332.6h0M653.9 337.0h0M654.2 353.5h0M654.5 339.0h0M654.8 338.0h0M655.1 342.8h0M655.5 344.0h0M655.8 332.6h0M656.1 338.3h0M656.4 345.4h0M656.7 341.4h0M657.1 340.5h0M657.4 349.5h0M657.7 335.6h0M658.0 340.4h0M658.3 336.6h0M658.7 349.3h0M659.0 327.7h0M659.3 335.8h0M659.6 336.7h0M659.9 344.2h0M660.3 343.9h0M660.6 348.9h0M660.9 330.2h0M661.2 344.9h0M661.5 338.3h0M661.9 336.0h0M662.2 343.7h0M662.5 334.5h0M662.8 327.1h0M663.1 338.0h0M663.5 330.9h0M663.8 336.3h0M664.1 342.8h0M664.4 342.5h0M664.7 350.6h0M665.1 339.3h0M665.4 330.8h0M665.7 335.7h0M666.0 334.7h0M666.3 332.8h0M666.7 343.4h0M667.0 336.5h0M667.3 328.0h0M667.6 345.2h0M667.9 340.0h0M668.3 343.1h0M668.6 341.5h0M668.9 344.9h0M669.2 341.1h0M669.5 348.8h0M669.9 343.6h0M670.2 343.4h0M670.5 343.5h0M670.8 331.5h0M671.1 339.9h0M671.5 339.3h0M671.8 342.3h0M672.1 332.2h0M672.4 351.5h0M672.7 341.6h0M673.1 333.2h0M673.4 330.0h0M673.7 339.2h0M538.8 264.5h0M538.3 296.5h0M538.3 332.8h0M537.9 340.0h0M538.7 345.0h0M538.4 350.0h0M538.6 355.0h0M539.6 310.0h0" stroke="#f7901e" stroke-width="2.9" stroke-linecap="round" fill="none"/>
<rect x="536.1" y="243.7" width="138.1" height="125.3" fill="none" stroke="#222" stroke-width="1.3"/>
<path d="M539.6 369.0v3M569.5 369.0v2M599.4 369.0v3M629.3 369.0v2M659.2 369.0v3" stroke="#222" stroke-width="1" fill="none"/>
<text x="539.6" y="382.8" font-size="12.4" text-anchor="middle" fill="#000" >0</text>
<text x="599.4" y="382.8" font-size="12.4" text-anchor="middle" fill="#000" >400</text>
<text x="659.2" y="382.8" font-size="12.4" text-anchor="middle" fill="#000" >800</text>
<text x="613.5" y="399.4" font-size="13.7" text-anchor="middle" fill="#000" >Time (ns)</text>
<text x="627.8" y="259.6" font-size="12" text-anchor="start" fill="#000" >UC-SF</text>
<rect x="612.6" y="269" width="3.6" height="3.6" fill="#1a7a1a"/>
<text x="627.8" y="274.6" font-size="11.7" text-anchor="start" fill="#000" >588 nm</text>
<circle cx="614.4" cy="285.5" r="2" fill="#f7901e"/>
<text x="627.8" y="289.2" font-size="11.7" text-anchor="start" fill="#000" >656 nm</text>
<text x="401.5" y="253.1" font-size="19.5" text-anchor="start" fill="#000" >e</text>
<path d="M838.4 216.4H1047.7M838.4 239.6H1047.7M839.6 301.0H1048.0M838.4 324.5H1047.8M841.4 388.2H1049.8M841.4 410.9H1049.8M839.3 473.9H1049.9M838.5 510.8H1053.5M839.0 542.2H1053.7M839.0 572.6H1053.5" stroke="#000" stroke-width="2.3" fill="none"/>
<path d="M893.9 410.9V226" stroke="#000" stroke-width="1.6" fill="none"/><path d="M893.9 218.5L890.3 228.5H897.5Z" fill="#000"/>
<path d="M866.5 572.6V398" stroke="#000" stroke-width="1.6" fill="none"/><path d="M866.5 389.5L862.9 399.5H870.1Z" fill="#000"/>
<path d="M910.7 219.5 L912.2 220.0 L913.1 220.5 L913.2 221.0 L912.4 221.5 L911.0 222.0 L909.5 222.5 L908.4 223.0 L908.1 223.5 L908.8 224.0 L910.1 224.5 L911.6 225.0 L912.8 225.5 L913.3 226.0 L912.8 226.5 L911.6 227.0 L910.1 227.5 L908.8 228.0 L908.1 228.5 L908.4 229.0 L909.5 229.5 L911.0 230.0 L912.4 230.5 L913.2 231.0 L913.1 231.5 L912.2 232.0 L910.7 232.5 L909.2 233.0" stroke="#000" stroke-width="1.5" fill="none" stroke-linejoin="round"/>
<path d="M910.7 239.0L908.1 232.0H913.3Z" fill="#000"/>
<path d="M923.9 242.0 L925.3 242.5 L926.2 243.0 L926.5 243.5 L925.9 244.0 L924.8 244.5 L923.3 245.0 L922.1 245.5 L921.4 246.0 L921.4 246.5 L922.3 247.0 L923.6 247.5 L925.0 248.0 L926.1 248.5 L926.5 249.0 L926.1 249.5 L925.0 250.0 L923.6 250.5 L922.3 251.0 L921.4 251.5 L921.4 252.0 L922.1 252.5 L923.3 253.0 L924.8 253.5 L925.9 254.0 L926.5 254.5 L926.2 255.0 L925.3 255.5 L923.9 256.0 L922.5 256.5 L921.6 257.0 L921.3 257.5 L921.9 258.0 L923.0 258.5 L924.5 259.0 L925.7 259.5 L926.4 260.0 L926.4 260.5 L925.5 261.0 L924.2 261.5 L922.8 262.0 L921.7 262.5 L921.3 263.0 L921.7 263.5 L922.8 264.0 L924.2 264.5 L925.5 265.0 L926.4 265.5 L926.4 266.0 L925.7 266.5 L924.5 267.0 L923.0 267.5 L921.9 268.0 L921.3 268.5 L921.6 269.0 L922.5 269.5 L923.9 270.0 L925.3 270.5 L926.2 271.0 L926.5 271.5 L925.9 272.0 L924.8 272.5 L923.3 273.0 L922.1 273.5 L921.4 274.0 L921.4 274.5 L922.3 275.0 L923.6 275.5 L925.0 276.0 L926.1 276.5 L926.5 277.0 L926.1 277.5 L925.0 278.0 L923.6 278.5 L922.3 279.0 L921.4 279.5 L921.4 280.0 L922.1 280.5 L923.3 281.0 L924.8 281.5 L925.9 282.0 L926.5 282.5 L926.2 283.0 L925.3 283.5 L923.9 284.0 L922.5 284.5 L921.6 285.0 L921.3 285.5 L921.9 286.0 L923.0 286.5 L924.5 287.0 L925.7 287.5 L926.4 288.0 L926.4 288.5 L925.5 289.0 L924.2 289.5 L922.8 290.0 L921.7 290.5 L921.3 291.0 L921.7 291.5 L922.8 292.0 L924.2 292.5 L925.5 293.0 L926.4 293.5" stroke="#000" stroke-width="1.5" fill="none" stroke-linejoin="round"/>
<path d="M923.9 299.5L921.3 292.5H926.5Z" fill="#000"/>
<path d="M881.0 391.5 L882.5 392.0 L883.5 392.5 L883.5 393.0 L882.5 393.5 L881.0 394.0 L879.5 394.5 L878.5 395.0 L878.5 395.5 L879.5 396.0 L881.0 396.5 L882.5 397.0 L883.5 397.5 L883.5 398.0 L882.5 398.5 L881.0 399.0 L879.5 399.5 L878.5 400.0 L878.5 400.5 L879.5 401.0 L881.0 401.5 L882.5 402.0 L883.5 402.5 L883.5 403.0 L882.5 403.5 L881.0 404.0" stroke="#000" stroke-width="1.5" fill="none" stroke-linejoin="round"/>
<path d="M881.0 410.3L878.4 403.3H883.6Z" fill="#000"/>
<path d="M919.8 301V564.8" stroke="#8dc63f" stroke-width="1.8" fill="none"/><path d="M919.8 571.8L916.1999999999999 562.8H923.4Z" fill="#8dc63f"/>
<path d="M964.5 301V535.5" stroke="#1ba84c" stroke-width="1.8" fill="none"/><path d="M964.5 542.5L960.9 533.5H968.1Z" fill="#1ba84c"/>
<path d="M1019.4 301V502.8" stroke="#f7941d" stroke-width="1.8" fill="none"/><path d="M1019.4 509.8L1015.8 500.8H1023.0Z" fill="#f7941d"/>
<ellipse cx="914.1" cy="299" rx="5.2" ry="13.2" fill="#1aae4a" stroke="#0d8a38" stroke-width="0.8"/>
<ellipse cx="928.7" cy="299" rx="5.2" ry="13.2" fill="#1aae4a" stroke="#0d8a38" stroke-width="0.8"/>
<ellipse cx="943.1" cy="299" rx="5.2" ry="13.2" fill="#1aae4a" stroke="#0d8a38" stroke-width="0.8"/>
<ellipse cx="956.6" cy="299" rx="5.2" ry="13.2" fill="#1aae4a" stroke="#0d8a38" stroke-width="0.8"/>
<ellipse cx="970.7" cy="299" rx="5.2" ry="13.2" fill="#1aae4a" stroke="#0d8a38" stroke-width="0.8"/>
<ellipse cx="985.4" cy="299" rx="5.2" ry="13.2" fill="#f7941d" stroke="#e07a10" stroke-width="0.8"/>
<ellipse cx="1000.2" cy="299" rx="5.2" ry="13.2" fill="#f7941d" stroke="#e07a10" stroke-width="0.8"/>
<ellipse cx="1014" cy="299" rx="5.2" ry="13.2" fill="#f7941d" stroke="#e07a10" stroke-width="0.8"/>
<ellipse cx="1027.8" cy="299" rx="5.2" ry="13.2" fill="#f7941d" stroke="#e07a10" stroke-width="0.8"/>
<ellipse cx="1043" cy="299" rx="5.2" ry="13.2" fill="#f7941d" stroke="#e07a10" stroke-width="0.8"/>
<path d="M914.1 310.5V292" stroke="#000" stroke-width="1.8"/><path d="M914.1 286.3L911.1 293.5H917.1Z" fill="#000"/>
<path d="M928.7 310.5V292" stroke="#000" stroke-width="1.8"/><path d="M928.7 286.3L925.7 293.5H931.7Z" fill="#000"/>
<path d="M943.1 310.5V292" stroke="#000" stroke-width="1.8"/><path d="M943.1 286.3L940.1 293.5H946.1Z" fill="#000"/>
<path d="M956.6 310.5V292" stroke="#000" stroke-width="1.8"/><path d="M956.6 286.3L953.6 293.5H959.6Z" fill="#000"/>
<path d="M970.7 310.5V292" stroke="#000" stroke-width="1.8"/><path d="M970.7 286.3L967.7 293.5H973.7Z" fill="#000"/>
<path d="M985.4 310.5V292" stroke="#000" stroke-width="1.8"/><path d="M985.4 286.3L982.4 293.5H988.4Z" fill="#000"/>
<path d="M1000.2 310.5V292" stroke="#000" stroke-width="1.8"/><path d="M1000.2 286.3L997.2 293.5H1003.2Z" fill="#000"/>
<path d="M1014 310.5V292" stroke="#000" stroke-width="1.8"/><path d="M1014 286.3L1011 293.5H1017Z" fill="#000"/>
<path d="M1027.8 310.5V292" stroke="#000" stroke-width="1.8"/><path d="M1027.8 286.3L1024.8 293.5H1030.8Z" fill="#000"/>
<path d="M1043 310.5V292" stroke="#000" stroke-width="1.8"/><path d="M1043 286.3L1040 293.5H1046Z" fill="#000"/>
<text x="846.2" y="275.6" font-size="16.2" text-anchor="start" fill="#000" >ESA</text>
<text x="821.8" y="453" font-size="16.6" text-anchor="start" fill="#000" >GSA</text>
<text x="888.3" y="468.9" font-size="16.6" text-anchor="start" fill="#8dc63f" >528</text>
<text x="935.3" y="446.6" font-size="16.6" text-anchor="start" fill="#1ba84c" >588</text>
<text x="989.9" y="431.4" font-size="16.6" text-anchor="start" fill="#f7941d" >656</text>
<text x="804.5" y="511" font-size="16"><tspan font-family="DejaVu Serif" font-style="italic" font-weight="normal" font-size="17">λ</tspan><tspan font-size="11.5" dy="3">ex</tspan><tspan dy="-3">:</tspan></text>
<text x="803.6" y="534" font-size="16.8" text-anchor="start" fill="#000" >808 nm</text>
<text x="800" y="231.5" font-size="18.5" text-anchor="start" fill="#000" >f</text>
<text x="1059.5" y="222.5" font-size="19"><tspan font-size="12.2" dy="-6.8">2</tspan><tspan dy="6.8">D</tspan><tspan font-size="12.3" dy="4.5">5/2</tspan></text>
<text x="1060.1" y="247.8" font-size="19"><tspan font-size="12.2" dy="-6.8">2</tspan><tspan dy="6.8">P</tspan><tspan font-size="12.3" dy="4.5">1/2</tspan></text>
<text x="1059.7" y="294.1" font-size="19"><tspan font-size="12.2" dy="-6.8">4</tspan><tspan dy="6.8">G</tspan><tspan font-size="12.3" dy="4.5">7/2</tspan></text>
<text x="1059.7" y="324.8" font-size="19"><tspan font-size="12.2" dy="-6.8">4</tspan><tspan dy="6.8">G</tspan><tspan font-size="12.3" dy="4.5">5/2</tspan></text>
<text x="1061.7" y="394.8" font-size="19"><tspan font-size="12.2" dy="-6.8">4</tspan><tspan dy="6.8">F</tspan><tspan font-size="12.3" dy="4.5">5/2</tspan></text>
<text x="1060.7" y="414.9" font-size="19"><tspan font-size="12.2" dy="-6.8">4</tspan><tspan dy="6.8">F</tspan><tspan font-size="12.3" dy="4.5">3/2</tspan></text>
<text x="1061.7" y="476.6" font-size="19"><tspan font-size="12.2" dy="-6.8">4</tspan><tspan dy="6.8">I</tspan><tspan font-size="12.3" dy="4.5">15/2</tspan></text>
<text x="1061.7" y="514.3" font-size="19"><tspan font-size="12.2" dy="-6.8">4</tspan><tspan dy="6.8">I</tspan><tspan font-size="12.3" dy="4.5">13/2</tspan></text>
<text x="1061.7" y="546.0" font-size="19"><tspan font-size="12.2" dy="-6.8">4</tspan><tspan dy="6.8">I</tspan><tspan font-size="12.3" dy="4.5">11/2</tspan></text>
<text x="1069.7" y="573.0" font-size="19"><tspan font-size="12.2" dy="-6.8">4</tspan><tspan dy="6.8">I</tspan><tspan font-size="12.3" dy="4.5">9/2</tspan></text>
<defs><filter id="cf" x="0" y="0" width="1" height="1" color-interpolation-filters="sRGB">
<feColorMatrix type="matrix" values="0 0 0 1 0  0 0 0 1 0  0 0 0 1 0  0 0 0 1 0"/>
<feComponentTransfer>
<feFuncR type="table" tableValues="1.000 0.678 0.678 0.706 0.729 0.733 0.733 0.729 0.714 0.690 0.690 0.690 0.690 0.690 0.690 0.690 0.690 0.690 0.690 0.690 0.690"/>
<feFuncG type="table" tableValues="1.000 0.569 0.569 0.502 0.443 0.427 0.420 0.412 0.396 0.380 0.380 0.380 0.380 0.380 0.380 0.380 0.380 0.380 0.380 0.380 0.380"/>
<feFuncB type="table" tableValues="1.000 0.498 0.498 0.376 0.267 0.239 0.227 0.220 0.204 0.196 0.196 0.196 0.196 0.196 0.196 0.196 0.196 0.196 0.196 0.196 0.196"/>
<feFuncA type="table" tableValues="0.000 0.750 1.000 1.000 1.000 1.000 1.000 1.000 1.000 1.000 1.000 1.000 1.000 1.000 1.000 1.000 1.000 1.000 1.000 1.000 1.000"/>
</feComponentTransfer></filter></defs>
<g filter="url(#cf)" fill="#000" fill-opacity="0.1"><path d="M134.5 6.4L155.0 3.5L196.7 4.6L196.3 45.9L176.4 50.3L134.6 48.0Z"/><path d="M111.2 9.7L131.8 6.8L173.8 7.5L173.8 50.8L154.0 55.2L111.9 53.0Z"/><path d="M88.0 13.0L108.5 10.1L150.9 10.4L151.4 55.8L131.5 60.2L89.2 57.9Z"/><path d="M134.6 54.2L154.7 49.7L196.2 52.0L195.8 93.3L176.4 99.7L134.8 95.9Z"/><path d="M112.0 59.4L132.0 54.8L173.8 57.3L173.9 100.6L154.5 107.0L112.7 102.7Z"/><path d="M89.4 64.6L109.4 60.0L151.5 62.5L152.0 107.9L132.6 114.3L90.6 109.4Z"/><path d="M134.8 102.0L154.3 95.8L195.8 99.4L195.4 140.7L176.4 149.2L135.0 143.7Z"/><path d="M112.8 109.1L132.3 102.8L173.9 107.0L174.0 150.3L155.1 158.9L113.5 152.3Z"/><path d="M90.8 116.1L110.3 109.9L152.1 114.6L152.6 160.0L133.7 168.5L92.0 161.0Z"/><path d="M180.4 7.2L200.7 4.7L242.3 5.8L241.8 48.3L222.2 52.7L180.4 50.5Z"/><path d="M157.6 10.1L177.8 7.6L219.8 8.3L219.7 53.3L200.1 57.7L158.0 55.4Z"/><path d="M134.7 13.0L154.9 10.5L197.2 10.8L197.5 58.3L177.9 62.7L135.6 60.4Z"/><path d="M180.4 56.9L200.2 52.2L241.8 54.6L241.3 97.1L222.1 104.0L180.4 100.1Z"/><path d="M158.1 62.2L177.8 57.5L219.7 59.9L219.5 104.9L200.3 111.9L158.5 107.5Z"/><path d="M135.7 67.4L155.5 62.8L197.6 65.3L197.8 112.8L178.6 119.7L136.6 114.8Z"/><path d="M180.4 106.5L199.7 99.8L241.2 103.4L240.7 145.8L221.9 155.3L180.4 149.8Z"/><path d="M158.6 114.2L177.9 107.4L219.5 111.6L219.4 156.6L200.6 166.0L159.0 159.5Z"/><path d="M136.8 121.8L156.1 115.1L197.9 119.8L198.1 167.3L179.3 176.8L137.7 169.2Z"/><path d="M226.2 52.9L226.4 8.1L246.3 5.9L288.0 7.0L287.4 50.7L268.0 55.1Z"/><path d="M203.9 10.5L223.8 8.4L265.8 9.1L265.5 55.7L246.2 60.1L204.1 57.9Z"/><path d="M181.4 13.0L201.3 10.8L243.6 11.2L243.7 60.7L224.3 65.2L182.0 62.9Z"/><path d="M226.0 104.4L226.2 59.6L245.7 54.8L287.3 57.2L286.7 100.8L267.7 108.3Z"/><path d="M204.1 64.9L223.7 60.2L265.5 62.6L265.2 109.2L246.2 116.7L204.3 112.3Z"/><path d="M182.1 70.3L201.6 65.5L243.7 68.1L243.7 117.7L224.7 125.1L182.7 120.2Z"/><path d="M225.8 155.9L226.0 111.0L245.2 103.7L286.6 107.3L286.0 151.0L267.3 161.4Z"/><path d="M204.4 119.3L223.5 112.0L265.1 116.2L264.9 162.8L246.1 173.2L204.6 166.7Z"/><path d="M182.7 127.6L201.9 120.3L243.7 125.0L243.7 174.6L225.0 185.0L183.3 177.5Z"/></g>
<g filter="url(#cf)" fill="#000" fill-opacity="0.1"><path d="M436.5 6.4L457.0 3.5L498.7 4.6L498.3 45.9L478.4 50.3L436.6 48.0Z"/><path d="M413.2 9.7L433.8 6.8L475.8 7.5L475.8 50.8L456.0 55.2L413.9 53.0Z"/><path d="M390.0 13.0L410.5 10.1L452.9 10.4L453.4 55.8L433.5 60.2L391.2 57.9Z"/><path d="M436.6 54.2L456.7 49.7L498.2 52.0L497.8 93.3L478.4 99.7L436.8 95.9Z"/><path d="M414.0 59.4L434.0 54.8L475.8 57.3L475.9 100.6L456.5 107.0L414.7 102.7Z"/><path d="M391.4 64.6L411.4 60.0L453.5 62.5L454.0 107.9L434.6 114.3L392.6 109.4Z"/><path d="M436.8 102.0L456.3 95.8L497.8 99.4L497.4 140.7L478.4 149.2L437.0 143.7Z"/><path d="M414.8 109.1L434.3 102.8L475.9 107.0L476.0 150.3L457.1 158.9L415.5 152.3Z"/><path d="M392.8 116.1L412.3 109.9L454.1 114.6L454.6 160.0L435.7 168.5L394.0 161.0Z"/><path d="M482.4 7.2L502.7 4.7L544.3 5.8L543.8 48.3L524.2 52.7L482.4 50.5Z"/><path d="M459.6 10.1L479.8 7.6L521.8 8.3L521.7 53.3L502.1 57.7L460.0 55.4Z"/><path d="M436.7 13.0L456.9 10.5L499.2 10.8L499.5 58.3L479.9 62.7L437.6 60.4Z"/><path d="M482.4 56.9L502.2 52.2L543.8 54.6L543.3 97.1L524.1 104.0L482.4 100.1Z"/><path d="M460.1 62.2L479.8 57.5L521.7 59.9L521.5 104.9L502.3 111.9L460.5 107.5Z"/><path d="M437.7 67.4L457.5 62.8L499.6 65.3L499.8 112.8L480.6 119.7L438.6 114.8Z"/><path d="M482.4 106.5L501.7 99.8L543.2 103.4L542.7 145.8L523.9 155.3L482.4 149.8Z"/><path d="M460.6 114.2L479.9 107.4L521.5 111.6L521.4 156.6L502.6 166.0L461.0 159.5Z"/><path d="M438.8 121.8L458.1 115.1L499.9 119.8L500.1 167.3L481.3 176.8L439.7 169.2Z"/><path d="M528.2 52.9L528.4 8.1L548.3 5.9L590.0 7.0L589.4 50.7L570.0 55.1Z"/><path d="M505.9 10.5L525.8 8.4L567.8 9.1L567.5 55.7L548.2 60.1L506.1 57.9Z"/><path d="M483.4 13.0L503.3 10.8L545.6 11.2L545.7 60.7L526.3 65.2L484.0 62.9Z"/><path d="M528.0 104.4L528.2 59.6L547.7 54.8L589.3 57.2L588.7 100.8L569.7 108.3Z"/><path d="M506.1 64.9L525.7 60.2L567.5 62.6L567.2 109.2L548.2 116.7L506.3 112.3Z"/><path d="M484.1 70.3L503.6 65.5L545.7 68.1L545.7 117.7L526.7 125.1L484.7 120.2Z"/><path d="M527.8 155.9L528.0 111.0L547.2 103.7L588.6 107.3L588.0 151.0L569.3 161.4Z"/><path d="M506.4 119.3L525.5 112.0L567.1 116.2L566.9 162.8L548.1 173.2L506.6 166.7Z"/><path d="M484.7 127.6L503.9 120.3L545.7 125.0L545.7 174.6L527.0 185.0L485.3 177.5Z"/></g>
<path d="M142.6 38.6L151.5 29.6L153.5 31.5L156.0 22.0L146.5 24.5L148.4 26.5L139.4 35.4Z" fill="#d8804a" opacity="0.6"/>
<path d="M186.9 41.0L194.0 27.6L196.5 28.8L196.0 19.0L187.6 24.2L190.1 25.5L183.1 39.0Z" fill="#d8804a" opacity="0.6"/>
<path d="M233.6 38.1L239.4 36.5L240.2 39.1L247.0 32.0L237.5 29.5L238.2 32.2L232.4 33.9Z" fill="#d8804a" opacity="0.6"/>
<path d="M269.0 40.1L262.4 24.9L265.0 23.8L257.0 18.0L255.8 27.8L258.4 26.7L265.0 41.9Z" fill="#d8804a" opacity="0.6"/>
<path d="M157.0 71.0L150.6 74.2L149.4 71.7L144.0 80.0L153.8 80.7L152.6 78.2L159.0 75.0Z" fill="#d8804a" opacity="0.6"/>
<path d="M195.2 87.9L194.6 76.4L197.4 76.2L192.0 68.0L187.4 76.7L190.2 76.6L190.8 88.1Z" fill="#d8804a" opacity="0.6"/>
<path d="M230.8 83.8L238.7 89.1L237.2 91.4L247.0 92.0L242.7 83.1L241.1 85.5L233.2 80.2Z" fill="#d8804a" opacity="0.6"/>
<path d="M248.5 82.1L263.2 79.0L263.8 81.7L271.0 75.0L261.6 71.9L262.2 74.7L247.5 77.9Z" fill="#d8804a" opacity="0.6"/>
<path d="M154.2 134.7L152.4 122.1L155.2 121.7L149.0 114.0L145.3 123.1L148.0 122.7L149.8 135.3Z" fill="#d8804a" opacity="0.6"/>
<path d="M189.9 137.1L195.8 126.5L198.2 127.9L198.0 118.0L189.5 123.0L191.9 124.4L186.1 134.9Z" fill="#d8804a" opacity="0.6"/>
<path d="M227.6 118.9L216.8 116.0L217.5 113.3L208.0 116.0L214.9 123.0L215.7 120.3L226.4 123.1Z" fill="#d8804a" opacity="0.6"/>
<path d="M238.2 151.4L241.5 134.8L244.2 135.3L241.0 126.0L234.4 133.4L237.2 133.9L233.8 150.6Z" fill="#d8804a" opacity="0.6"/>
<path d="M267.0 137.2L260.3 121.0L262.9 119.9L255.0 114.0L253.7 123.8L256.2 122.7L263.0 138.8Z" fill="#d8804a" opacity="0.6"/>
<path d="M112.5 28.4L122.4 38.4L119.8 40.9L131.3 43.6L128.6 32.1L126.1 34.7L116.1 24.8Z" fill="#8e2e14" opacity="1.0"/>
<path d="M111.2 26.8L121.1 36.8L118.5 39.3L130.0 42.0L127.3 30.5L124.8 33.1L114.8 23.2Z" fill="#c24a26" opacity="1.0"/>
<path d="M171.9 52.4L170.7 37.4L174.3 37.1L167.3 27.6L161.9 38.1L165.5 37.8L166.7 52.8Z" fill="#8e2e14" opacity="1.0"/>
<path d="M170.6 50.8L169.4 35.8L173.0 35.5L166.0 26.0L160.6 36.5L164.2 36.2L165.4 51.2Z" fill="#c24a26" opacity="1.0"/>
<path d="M221.9 58.2L219.2 39.2L222.9 38.7L215.3 29.6L210.5 40.4L214.1 39.9L216.7 59.0Z" fill="#8e2e14" opacity="1.0"/>
<path d="M220.6 56.6L217.9 37.6L221.6 37.1L214.0 28.0L209.2 38.8L212.8 38.3L215.4 57.4Z" fill="#c24a26" opacity="1.0"/>
<path d="M132.5 98.2L124.8 85.7L127.9 83.8L117.3 78.6L117.2 90.4L120.4 88.5L128.1 101.0Z" fill="#c05a40" opacity="1.0"/>
<path d="M131.2 96.6L123.5 84.1L126.6 82.2L116.0 77.0L115.9 88.8L119.1 86.9L126.8 99.4Z" fill="#e6704e" opacity="1.0"/>
<path d="M181.1 102.8L169.2 90.8L171.8 88.3L160.3 85.6L163.0 97.1L165.5 94.5L177.5 106.4Z" fill="#8e2e14" opacity="1.0"/>
<path d="M179.8 101.2L167.9 89.2L170.5 86.7L159.0 84.0L161.7 95.5L164.2 92.9L176.2 104.8Z" fill="#c24a26" opacity="1.0"/>
<path d="M210.4 113.2L219.4 101.2L222.3 103.3L223.3 91.6L212.3 95.8L215.2 98.0L206.2 110.0Z" fill="#8e2e14" opacity="1.0"/>
<path d="M209.1 111.6L218.1 99.6L221.0 101.8L222.0 90.0L211.0 94.2L213.9 96.4L204.9 108.4Z" fill="#c24a26" opacity="1.0"/>
<path d="M119.3 150.2L128.1 139.1L131.0 141.3L132.3 129.6L121.2 133.6L124.1 135.8L115.3 147.0Z" fill="#8e2e14" opacity="1.0"/>
<path d="M118.0 148.6L126.8 137.5L129.7 139.7L131.0 128.0L119.9 132.0L122.8 134.2L114.0 145.4Z" fill="#c24a26" opacity="1.0"/>
<path d="M173.7 154.7L170.3 146.0L173.7 144.7L164.3 137.6L162.1 149.2L165.5 147.9L168.9 156.5Z" fill="#8e2e14" opacity="1.0"/>
<path d="M172.4 153.1L169.0 144.4L172.4 143.1L163.0 136.0L160.8 147.6L164.2 146.3L167.6 154.9Z" fill="#c24a26" opacity="1.0"/>
<path d="M222.7 163.7L218.3 152.0L221.7 150.7L212.3 143.6L210.0 155.2L213.4 153.9L217.9 165.5Z" fill="#8e2e14" opacity="1.0"/>
<path d="M221.4 162.1L217.0 150.4L220.4 149.1L211.0 142.0L208.7 153.6L212.1 152.3L216.6 163.9Z" fill="#c24a26" opacity="1.0"/>
<path d="M454.2 42.5L454.2 24.8L457.0 24.8L452.0 16.3L447.0 24.8L449.8 24.8L449.8 42.5Z" fill="#d8804a" opacity="0.6"/>
<path d="M496.7 45.8L496.7 28.1L499.5 28.1L494.5 19.6L489.5 28.1L492.3 28.1L492.3 45.8Z" fill="#d8804a" opacity="0.6"/>
<path d="M542.5 49.0L542.5 29.7L545.3 29.7L540.3 21.2L535.3 29.7L538.1 29.7L538.1 49.0Z" fill="#d8804a" opacity="0.6"/>
<path d="M563.7 42.5L563.7 24.8L566.5 24.8L561.5 16.3L556.5 24.8L559.3 24.8L559.3 42.5Z" fill="#d8804a" opacity="0.6"/>
<path d="M454.2 89.9L454.2 72.2L457.0 72.2L452.0 63.7L447.0 72.2L449.8 72.2L449.8 89.9Z" fill="#d8804a" opacity="0.6"/>
<path d="M496.7 94.8L496.7 77.1L499.5 77.1L494.5 68.6L489.5 77.1L492.3 77.1L492.3 94.8Z" fill="#d8804a" opacity="0.6"/>
<path d="M542.5 101.3L542.5 82.1L545.3 82.1L540.3 73.6L535.3 82.1L538.1 82.1L538.1 101.3Z" fill="#d8804a" opacity="0.6"/>
<path d="M563.7 91.5L563.7 73.9L566.5 73.9L561.5 65.4L556.5 73.9L559.3 73.9L559.3 91.5Z" fill="#d8804a" opacity="0.6"/>
<path d="M454.2 137.0L454.2 119.5L457.0 119.5L452.0 111.0L447.0 119.5L449.8 119.5L449.8 137.0Z" fill="#d8804a" opacity="0.6"/>
<path d="M496.7 143.8L496.7 126.2L499.5 126.2L494.5 117.7L489.5 126.2L492.3 126.2L492.3 143.8Z" fill="#d8804a" opacity="0.6"/>
<path d="M542.5 150.4L542.5 132.7L545.3 132.7L540.3 124.2L535.3 132.7L538.1 132.7L538.1 150.4Z" fill="#d8804a" opacity="0.6"/>
<path d="M563.7 139.0L563.7 121.3L566.5 121.3L561.5 112.8L556.5 121.3L559.3 121.3L559.3 139.0Z" fill="#d8804a" opacity="0.6"/>
<path d="M426.5 50.6L426.5 31.2L429.9 31.2L423.9 21.2L417.9 31.2L421.3 31.2L421.3 50.6Z" fill="#8e2e14" opacity="1.0"/>
<path d="M425.2 49.0L425.2 29.6L428.6 29.6L422.6 19.6L416.6 29.6L420.0 29.6L420.0 49.0Z" fill="#c24a26" opacity="1.0"/>
<path d="M472.3 55.5L472.3 34.5L475.7 34.5L469.7 24.5L463.7 34.5L467.1 34.5L467.1 55.5Z" fill="#8e2e14" opacity="1.0"/>
<path d="M471.0 53.9L471.0 32.9L474.4 32.9L468.4 22.9L462.4 32.9L465.8 32.9L465.8 53.9Z" fill="#c24a26" opacity="1.0"/>
<path d="M521.3 60.4L521.3 37.6L524.7 37.6L518.7 27.6L512.7 37.6L516.1 37.6L516.1 60.4Z" fill="#8e2e14" opacity="1.0"/>
<path d="M520.0 58.8L520.0 36.0L523.4 36.0L517.4 26.0L511.4 36.0L514.8 36.0L514.8 58.8Z" fill="#c24a26" opacity="1.0"/>
<path d="M427.5 102.6L427.5 83.6L430.9 83.6L424.9 73.6L418.9 83.6L422.3 83.6L422.3 102.6Z" fill="#8e2e14" opacity="1.0"/>
<path d="M426.2 101.0L426.2 82.0L429.6 82.0L423.6 72.0L417.6 82.0L421.0 82.0L421.0 101.0Z" fill="#c24a26" opacity="1.0"/>
<path d="M472.3 109.5L472.3 88.4L475.7 88.4L469.7 78.4L463.7 88.4L467.1 88.4L467.1 109.5Z" fill="#8e2e14" opacity="1.0"/>
<path d="M471.0 107.9L471.0 86.8L474.4 86.8L468.4 76.8L462.4 86.8L465.8 86.8L465.8 107.9Z" fill="#c24a26" opacity="1.0"/>
<path d="M519.7 116.0L519.7 95.0L523.1 95.0L517.1 85.0L511.1 95.0L514.5 95.0L514.5 116.0Z" fill="#8e2e14" opacity="1.0"/>
<path d="M518.4 114.4L518.4 93.4L521.8 93.4L515.8 83.4L509.8 93.4L513.2 93.4L513.2 114.4Z" fill="#c24a26" opacity="1.0"/>
<path d="M428.1 152.0L428.1 134.2L431.5 134.2L425.5 124.2L419.5 134.2L422.9 134.2L422.9 152.0Z" fill="#8e2e14" opacity="1.0"/>
<path d="M426.8 150.4L426.8 132.6L430.2 132.6L424.2 122.6L418.2 132.6L421.6 132.6L421.6 150.4Z" fill="#c24a26" opacity="1.0"/>
<path d="M472.3 160.1L472.3 140.6L475.7 140.6L469.7 130.6L463.7 140.6L467.1 140.6L467.1 160.1Z" fill="#8e2e14" opacity="1.0"/>
<path d="M471.0 158.5L471.0 139.0L474.4 139.0L468.4 129.0L462.4 139.0L465.8 139.0L465.8 158.5Z" fill="#c24a26" opacity="1.0"/>
<path d="M519.7 170.0L519.7 148.9L523.1 148.9L517.1 138.9L511.1 148.9L514.5 148.9L514.5 170.0Z" fill="#8e2e14" opacity="1.0"/>
<path d="M518.4 168.4L518.4 147.3L521.8 147.3L515.8 137.3L509.8 147.3L513.2 147.3L513.2 168.4Z" fill="#c24a26" opacity="1.0"/>
<text x="7.5" y="15.7" font-size="19" text-anchor="start" fill="#000" >a</text>
<text x="5.2" y="60.2" font-size="16.8" text-anchor="start" fill="#000" >Excitation</text>
<text x="340.4" y="62.1" font-size="16.4" text-anchor="middle" fill="#000" >Coherent</text>
<text x="340" y="81.1" font-size="16.4" text-anchor="middle" fill="#000" >coupling</text>
<text x="651.7" y="59.9" font-size="17.6" text-anchor="middle" fill="#000" >SF</text>
<text x="189.6" y="210.9" font-size="17.6" text-anchor="middle" fill="#000" >Uncorrelated dipoles</text>
<text x="491.4" y="210.9" font-size="17.6" text-anchor="middle" fill="#000" >Correlated dipoles</text>
<path d="M299.9 94.4H373.3V89.8L382.2 98.9L373.3 108.1V103.6H299.9Z" fill="#c00000"/>
<defs><filter id="glow" x="-30%" y="-30%" width="160%" height="160%"><feGaussianBlur stdDeviation="1.9"/></filter></defs>
<path d="M5.2 96L17.6 96C19.5 96 20 93.5 21.5 94C23.5 95 25 105 27 104.8C29.5 104.5 30.5 75.3 32.5 75.3C34.5 75.3 37 118.7 39.3 118.7C41.5 118.7 43.5 84.1 45.5 84.1C47.5 84.1 49 106.3 50.6 106.3C52 106.3 53 95 54.8 95L61 97.4" stroke="#f8a060" stroke-width="8.5" fill="none" stroke-linecap="round" stroke-linejoin="round" filter="url(#glow)" opacity="0.95"/>
<path d="M67.1 97.9L57.9 93.4L57.3 102.7Z" fill="#f9a066" stroke="#f9a066" stroke-width="5" stroke-linejoin="round" filter="url(#glow)" opacity="0.9"/>
<path d="M5.2 96L17.6 96C19.5 96 20 93.5 21.5 94C23.5 95 25 105 27 104.8C29.5 104.5 30.5 75.3 32.5 75.3C34.5 75.3 37 118.7 39.3 118.7C41.5 118.7 43.5 84.1 45.5 84.1C47.5 84.1 49 106.3 50.6 106.3C52 106.3 53 95 54.8 95L61 97.4" stroke="#c4121a" stroke-width="2.3" fill="none" stroke-linejoin="round"/>
<path d="M67.1 97.9L57.6 93.4L59.8 97.8L57.3 102.7Z" fill="#c4121a"/>
<path d="M598.5 94.5L618.6 94.5C620.5 94.5 621.5 92.5 623.3 93C625.5 93.5 628.5 102 631 102C634 102 638 75.6 641.1 75.6C644.5 75.6 648 115.9 651.2 115.9C654.5 115.9 658 84.1 661.2 84.1C664.5 84.1 666.5 103.5 669 103.5C671.5 103.5 673.5 93.4 675.9 93.4L690 95.2" stroke="#bfe496" stroke-width="10" fill="none" stroke-linecap="round" stroke-linejoin="round" filter="url(#glow)"/>
<path d="M696.8 95.7L682.1 89.2L682.9 103.5Z" fill="#b8e28a" stroke="#b8e28a" stroke-width="6" stroke-linejoin="round" filter="url(#glow)"/>
<path d="M598.5 94.5L618.6 94.5C620.5 94.5 621.5 92.5 623.3 93C625.5 93.5 628.5 102 631 102C634 102 638 75.6 641.1 75.6C644.5 75.6 648 115.9 651.2 115.9C654.5 115.9 658 84.1 661.2 84.1C664.5 84.1 666.5 103.5 669 103.5C671.5 103.5 673.5 93.4 675.9 93.4L690 95.2" stroke="#1db34a" stroke-width="3.4" fill="none" stroke-linejoin="round"/>
<path d="M696.8 95.7L681.6 88.7L685.5 95.5L682.6 103.8Z" fill="#1db34a"/>
<defs><clipPath id="cb"><rect x="726.7" y="3.1" width="186.3" height="185.4"/></clipPath><filter id="bl" x="0" y="0" width="1" height="1"><feGaussianBlur stdDeviation="0.7"/></filter></defs>
<g clip-path="url(#cb)"><rect x="726.7" y="3.1" width="186.3" height="185.4" fill="#cdcdcd"/><g filter="url(#bl)">
<path d="M736.3 13.3h0M757.8 24.5h0" stroke="#e2e2e2" stroke-width="21.6" stroke-linecap="round"/><path d="M736.3 13.3L757.8 24.5" stroke="#e2e2e2" stroke-width="13.8" stroke-linecap="round"/>
<path d="M736.3 13.3h0M757.8 24.5h0" stroke="#969696" stroke-width="19.2" stroke-linecap="round"/><path d="M736.3 13.3L757.8 24.5" stroke="#969696" stroke-width="11.4" stroke-linecap="round"/>
<path d="M762 4h0M776 5h0" stroke="#e2e2e2" stroke-width="19.8" stroke-linecap="round"/><path d="M762 4L776 5" stroke="#e2e2e2" stroke-width="12.8" stroke-linecap="round"/>
<path d="M762 4h0M776 5h0" stroke="#9b9b9b" stroke-width="17.4" stroke-linecap="round"/><path d="M762 4L776 5" stroke="#9b9b9b" stroke-width="10.4" stroke-linecap="round"/>
<path d="M779.4 21h0M777.6 45.2h0" stroke="#e2e2e2" stroke-width="21.6" stroke-linecap="round"/><path d="M779.4 21L777.6 45.2" stroke="#e2e2e2" stroke-width="13.8" stroke-linecap="round"/>
<path d="M779.4 21h0M777.6 45.2h0" stroke="#707070" stroke-width="19.2" stroke-linecap="round"/><path d="M779.4 21L777.6 45.2" stroke="#707070" stroke-width="11.4" stroke-linecap="round"/>
<path d="M794.8 9.9h0M815.5 19.4h0" stroke="#e2e2e2" stroke-width="21.6" stroke-linecap="round"/><path d="M794.8 9.9L815.5 19.4" stroke="#e2e2e2" stroke-width="13.8" stroke-linecap="round"/>
<path d="M794.8 9.9h0M815.5 19.4h0" stroke="#9f9f9f" stroke-width="19.2" stroke-linecap="round"/><path d="M794.8 9.9L815.5 19.4" stroke="#9f9f9f" stroke-width="11.4" stroke-linecap="round"/>
<path d="M799.1 31.4h0M815.5 43.4h0" stroke="#e2e2e2" stroke-width="21.6" stroke-linecap="round"/><path d="M799.1 31.4L815.5 43.4" stroke="#e2e2e2" stroke-width="13.8" stroke-linecap="round"/>
<path d="M799.1 31.4h0M815.5 43.4h0" stroke="#9e9e9e" stroke-width="19.2" stroke-linecap="round"/><path d="M799.1 31.4L815.5 43.4" stroke="#9e9e9e" stroke-width="11.4" stroke-linecap="round"/>
<path d="M736.3 39.1h0M758.7 42.6h0" stroke="#e2e2e2" stroke-width="22.6" stroke-linecap="round"/><path d="M736.3 39.1L758.7 42.6" stroke="#e2e2e2" stroke-width="14.4" stroke-linecap="round"/>
<path d="M736.3 39.1h0M758.7 42.6h0" stroke="#9c9c9c" stroke-width="20.2" stroke-linecap="round"/><path d="M736.3 39.1L758.7 42.6" stroke="#9c9c9c" stroke-width="12.0" stroke-linecap="round"/>
<path d="M740.6 56.4h0M741.5 77h0" stroke="#e2e2e2" stroke-width="22.6" stroke-linecap="round"/><path d="M740.6 56.4L741.5 77" stroke="#e2e2e2" stroke-width="14.4" stroke-linecap="round"/>
<path d="M740.6 56.4h0M741.5 77h0" stroke="#808080" stroke-width="20.2" stroke-linecap="round"/><path d="M740.6 56.4L741.5 77" stroke="#808080" stroke-width="12.0" stroke-linecap="round"/>
<path d="M760.4 65h0M779.4 62.4h0" stroke="#e2e2e2" stroke-width="21.6" stroke-linecap="round"/><path d="M760.4 65L779.4 62.4" stroke="#e2e2e2" stroke-width="13.8" stroke-linecap="round"/>
<path d="M760.4 65h0M779.4 62.4h0" stroke="#9b9b9b" stroke-width="19.2" stroke-linecap="round"/><path d="M760.4 65L779.4 62.4" stroke="#9b9b9b" stroke-width="11.4" stroke-linecap="round"/>
<path d="M797.4 48.1h0M817.2 58.1h0" stroke="#e2e2e2" stroke-width="21.6" stroke-linecap="round"/><path d="M797.4 48.1L817.2 58.1" stroke="#e2e2e2" stroke-width="13.8" stroke-linecap="round"/>
<path d="M797.4 48.1h0M817.2 58.1h0" stroke="#9d9d9d" stroke-width="19.2" stroke-linecap="round"/><path d="M797.4 48.1L817.2 58.1" stroke="#9d9d9d" stroke-width="11.4" stroke-linecap="round"/>
<path d="M796.6 68.4h0M794.8 85.6h0" stroke="#e2e2e2" stroke-width="20.6" stroke-linecap="round"/><path d="M796.6 68.4L794.8 85.6" stroke="#e2e2e2" stroke-width="13.2" stroke-linecap="round"/>
<path d="M796.6 68.4h0M794.8 85.6h0" stroke="#9e9e9e" stroke-width="18.2" stroke-linecap="round"/><path d="M796.6 68.4L794.8 85.6" stroke="#9e9e9e" stroke-width="10.8" stroke-linecap="round"/>
<path d="M770.8 75.3h0M757 92.5h0" stroke="#e2e2e2" stroke-width="22.6" stroke-linecap="round"/><path d="M770.8 75.3L757 92.5" stroke="#e2e2e2" stroke-width="14.4" stroke-linecap="round"/>
<path d="M770.8 75.3h0M757 92.5h0" stroke="#696969" stroke-width="20.2" stroke-linecap="round"/><path d="M770.8 75.3L757 92.5" stroke="#696969" stroke-width="12.0" stroke-linecap="round"/>
<path d="M810.3 80.5h0M822.4 92.5h0" stroke="#e2e2e2" stroke-width="20.6" stroke-linecap="round"/><path d="M810.3 80.5L822.4 92.5" stroke="#e2e2e2" stroke-width="13.2" stroke-linecap="round"/>
<path d="M810.3 80.5h0M822.4 92.5h0" stroke="#969696" stroke-width="18.2" stroke-linecap="round"/><path d="M810.3 80.5L822.4 92.5" stroke="#969696" stroke-width="10.8" stroke-linecap="round"/>
<path d="M729.4 94.2h0M729.4 94.2h0" stroke="#e2e2e2" stroke-width="20.6" stroke-linecap="round"/>
<path d="M729.4 94.2h0M729.4 94.2h0" stroke="#9c9c9c" stroke-width="18.2" stroke-linecap="round"/>
<path d="M775.9 96h0M775.9 96h0" stroke="#e2e2e2" stroke-width="18.6" stroke-linecap="round"/>
<path d="M775.9 96h0M775.9 96h0" stroke="#9a9a9a" stroke-width="16.2" stroke-linecap="round"/>
<path d="M727.7 70.1h0M727.7 70.1h0" stroke="#e2e2e2" stroke-width="18.6" stroke-linecap="round"/>
<path d="M727.7 70.1h0M727.7 70.1h0" stroke="#999999" stroke-width="16.2" stroke-linecap="round"/>
<path d="M840.5 8.2h0M842.3 25.4h0" stroke="#e2e2e2" stroke-width="20.6" stroke-linecap="round"/><path d="M840.5 8.2L842.3 25.4" stroke="#e2e2e2" stroke-width="13.2" stroke-linecap="round"/>
<path d="M840.5 8.2h0M842.3 25.4h0" stroke="#9a9a9a" stroke-width="18.2" stroke-linecap="round"/><path d="M840.5 8.2L842.3 25.4" stroke="#9a9a9a" stroke-width="10.8" stroke-linecap="round"/>
<path d="M859.5 25.4h0M876.7 37.4h0" stroke="#e2e2e2" stroke-width="22.6" stroke-linecap="round"/><path d="M859.5 25.4L876.7 37.4" stroke="#e2e2e2" stroke-width="14.4" stroke-linecap="round"/>
<path d="M859.5 25.4h0M876.7 37.4h0" stroke="#7d7d7d" stroke-width="20.2" stroke-linecap="round"/><path d="M859.5 25.4L876.7 37.4" stroke="#7d7d7d" stroke-width="12.0" stroke-linecap="round"/>
<path d="M829.4 40h0M841.4 52.9h0" stroke="#e2e2e2" stroke-width="21.6" stroke-linecap="round"/><path d="M829.4 40L841.4 52.9" stroke="#e2e2e2" stroke-width="13.8" stroke-linecap="round"/>
<path d="M829.4 40h0M841.4 52.9h0" stroke="#999999" stroke-width="19.2" stroke-linecap="round"/><path d="M829.4 40L841.4 52.9" stroke="#999999" stroke-width="11.4" stroke-linecap="round"/>
<path d="M854.3 40.9h0M873.2 58.1h0" stroke="#e2e2e2" stroke-width="22.6" stroke-linecap="round"/><path d="M854.3 40.9L873.2 58.1" stroke="#e2e2e2" stroke-width="14.4" stroke-linecap="round"/>
<path d="M854.3 40.9h0M873.2 58.1h0" stroke="#969696" stroke-width="20.2" stroke-linecap="round"/><path d="M854.3 40.9L873.2 58.1" stroke="#969696" stroke-width="12.0" stroke-linecap="round"/>
<path d="M890.5 44.3h0M904.2 59.8h0" stroke="#e2e2e2" stroke-width="21.6" stroke-linecap="round"/><path d="M890.5 44.3L904.2 59.8" stroke="#e2e2e2" stroke-width="13.8" stroke-linecap="round"/>
<path d="M890.5 44.3h0M904.2 59.8h0" stroke="#999999" stroke-width="19.2" stroke-linecap="round"/><path d="M890.5 44.3L904.2 59.8" stroke="#999999" stroke-width="11.4" stroke-linecap="round"/>
<path d="M846 63.2h0M858 65h0" stroke="#e2e2e2" stroke-width="20.6" stroke-linecap="round"/><path d="M846 63.2L858 65" stroke="#e2e2e2" stroke-width="13.2" stroke-linecap="round"/>
<path d="M846 63.2h0M858 65h0" stroke="#969696" stroke-width="18.2" stroke-linecap="round"/><path d="M846 63.2L858 65" stroke="#969696" stroke-width="10.8" stroke-linecap="round"/>
<path d="M883.6 65h0M899 78.7h0" stroke="#e2e2e2" stroke-width="21.6" stroke-linecap="round"/><path d="M883.6 65L899 78.7" stroke="#e2e2e2" stroke-width="13.8" stroke-linecap="round"/>
<path d="M883.6 65h0M899 78.7h0" stroke="#808080" stroke-width="19.2" stroke-linecap="round"/><path d="M883.6 65L899 78.7" stroke="#808080" stroke-width="11.4" stroke-linecap="round"/>
<path d="M830.2 66.7h0M830.2 80.5h0" stroke="#e2e2e2" stroke-width="20.6" stroke-linecap="round"/><path d="M830.2 66.7L830.2 80.5" stroke="#e2e2e2" stroke-width="13.2" stroke-linecap="round"/>
<path d="M830.2 66.7h0M830.2 80.5h0" stroke="#9e9e9e" stroke-width="18.2" stroke-linecap="round"/><path d="M830.2 66.7L830.2 80.5" stroke="#9e9e9e" stroke-width="10.8" stroke-linecap="round"/>
<path d="M850.9 82.2h0M850.9 82.2h0" stroke="#e2e2e2" stroke-width="20.6" stroke-linecap="round"/>
<path d="M850.9 82.2h0M850.9 82.2h0" stroke="#979797" stroke-width="18.2" stroke-linecap="round"/>
<path d="M868.1 74.8h0M868.1 74.8h0" stroke="#e2e2e2" stroke-width="19.6" stroke-linecap="round"/>
<path d="M868.1 74.8h0M868.1 74.8h0" stroke="#979797" stroke-width="17.2" stroke-linecap="round"/>
<path d="M909.4 70.1h0M909.4 70.1h0" stroke="#e2e2e2" stroke-width="18.6" stroke-linecap="round"/>
<path d="M909.4 70.1h0M909.4 70.1h0" stroke="#9c9c9c" stroke-width="16.2" stroke-linecap="round"/>
<path d="M909.4 89h0M909.4 89h0" stroke="#e2e2e2" stroke-width="18.6" stroke-linecap="round"/>
<path d="M909.4 89h0M909.4 89h0" stroke="#9e9e9e" stroke-width="16.2" stroke-linecap="round"/>
<path d="M777.6 99.3h0M760.4 114.8h0" stroke="#e2e2e2" stroke-width="21.6" stroke-linecap="round"/><path d="M777.6 99.3L760.4 114.8" stroke="#e2e2e2" stroke-width="13.8" stroke-linecap="round"/>
<path d="M777.6 99.3h0M760.4 114.8h0" stroke="#9e9e9e" stroke-width="19.2" stroke-linecap="round"/><path d="M777.6 99.3L760.4 114.8" stroke="#9e9e9e" stroke-width="11.4" stroke-linecap="round"/>
<path d="M798.3 106.2h0M815.5 102.8h0" stroke="#e2e2e2" stroke-width="21.6" stroke-linecap="round"/><path d="M798.3 106.2L815.5 102.8" stroke="#e2e2e2" stroke-width="13.8" stroke-linecap="round"/>
<path d="M798.3 106.2h0M815.5 102.8h0" stroke="#989898" stroke-width="19.2" stroke-linecap="round"/><path d="M798.3 106.2L815.5 102.8" stroke="#989898" stroke-width="11.4" stroke-linecap="round"/>
<path d="M732.9 128.6h0M744.9 116.5h0" stroke="#e2e2e2" stroke-width="21.6" stroke-linecap="round"/><path d="M732.9 128.6L744.9 116.5" stroke="#e2e2e2" stroke-width="13.8" stroke-linecap="round"/>
<path d="M732.9 128.6h0M744.9 116.5h0" stroke="#9e9e9e" stroke-width="19.2" stroke-linecap="round"/><path d="M732.9 128.6L744.9 116.5" stroke="#9e9e9e" stroke-width="11.4" stroke-linecap="round"/>
<path d="M743.2 137.2h0M767.3 133.8h0" stroke="#e2e2e2" stroke-width="21.6" stroke-linecap="round"/><path d="M743.2 137.2L767.3 133.8" stroke="#e2e2e2" stroke-width="13.8" stroke-linecap="round"/>
<path d="M743.2 137.2h0M767.3 133.8h0" stroke="#808080" stroke-width="19.2" stroke-linecap="round"/><path d="M743.2 137.2L767.3 133.8" stroke="#808080" stroke-width="11.4" stroke-linecap="round"/>
<path d="M784.5 126.9h0M784.5 147.5h0" stroke="#e2e2e2" stroke-width="22.6" stroke-linecap="round"/><path d="M784.5 126.9L784.5 147.5" stroke="#e2e2e2" stroke-width="14.4" stroke-linecap="round"/>
<path d="M784.5 126.9h0M784.5 147.5h0" stroke="#9a9a9a" stroke-width="20.2" stroke-linecap="round"/><path d="M784.5 126.9L784.5 147.5" stroke="#9a9a9a" stroke-width="12.0" stroke-linecap="round"/>
<path d="M812.1 120h0M803.5 138.9h0" stroke="#e2e2e2" stroke-width="21.6" stroke-linecap="round"/><path d="M812.1 120L803.5 138.9" stroke="#e2e2e2" stroke-width="13.8" stroke-linecap="round"/>
<path d="M812.1 120h0M803.5 138.9h0" stroke="#9b9b9b" stroke-width="19.2" stroke-linecap="round"/><path d="M812.1 120L803.5 138.9" stroke="#9b9b9b" stroke-width="11.4" stroke-linecap="round"/>
<path d="M734.6 154.4h0M734.6 154.4h0" stroke="#e2e2e2" stroke-width="19.6" stroke-linecap="round"/>
<path d="M734.6 154.4h0M734.6 154.4h0" stroke="#9d9d9d" stroke-width="17.2" stroke-linecap="round"/>
<path d="M751.8 159.6h0M751.8 159.6h0" stroke="#e2e2e2" stroke-width="16.4" stroke-linecap="round"/>
<path d="M751.8 159.6h0M751.8 159.6h0" stroke="#9e9e9e" stroke-width="14.0" stroke-linecap="round"/>
<path d="M767.3 156.1h0M786.2 163h0" stroke="#e2e2e2" stroke-width="21.6" stroke-linecap="round"/><path d="M767.3 156.1L786.2 163" stroke="#e2e2e2" stroke-width="13.8" stroke-linecap="round"/>
<path d="M767.3 156.1h0M786.2 163h0" stroke="#808080" stroke-width="19.2" stroke-linecap="round"/><path d="M767.3 156.1L786.2 163" stroke="#808080" stroke-width="11.4" stroke-linecap="round"/>
<path d="M805.2 168.2h0M806.9 185.4h0" stroke="#e2e2e2" stroke-width="21.6" stroke-linecap="round"/><path d="M805.2 168.2L806.9 185.4" stroke="#e2e2e2" stroke-width="13.8" stroke-linecap="round"/>
<path d="M805.2 168.2h0M806.9 185.4h0" stroke="#999999" stroke-width="19.2" stroke-linecap="round"/><path d="M805.2 168.2L806.9 185.4" stroke="#999999" stroke-width="11.4" stroke-linecap="round"/>
<path d="M817.2 156.1h0M817.2 156.1h0" stroke="#e2e2e2" stroke-width="19.6" stroke-linecap="round"/>
<path d="M817.2 156.1h0M817.2 156.1h0" stroke="#9b9b9b" stroke-width="17.2" stroke-linecap="round"/>
<path d="M763.9 178.5h0M786.2 182h0" stroke="#e2e2e2" stroke-width="21.6" stroke-linecap="round"/><path d="M763.9 178.5L786.2 182" stroke="#e2e2e2" stroke-width="13.8" stroke-linecap="round"/>
<path d="M763.9 178.5h0M786.2 182h0" stroke="#848484" stroke-width="19.2" stroke-linecap="round"/><path d="M763.9 178.5L786.2 182" stroke="#848484" stroke-width="11.4" stroke-linecap="round"/>
<path d="M736.3 182h0M736.3 182h0" stroke="#e2e2e2" stroke-width="20.6" stroke-linecap="round"/>
<path d="M736.3 182h0M736.3 182h0" stroke="#999999" stroke-width="18.2" stroke-linecap="round"/>
<path d="M822.4 137.2h0M822.4 137.2h0" stroke="#e2e2e2" stroke-width="18.6" stroke-linecap="round"/>
<path d="M822.4 137.2h0M822.4 137.2h0" stroke="#999999" stroke-width="16.2" stroke-linecap="round"/>
<path d="M824.1 178.5h0M824.1 178.5h0" stroke="#e2e2e2" stroke-width="18.6" stroke-linecap="round"/>
<path d="M824.1 178.5h0M824.1 178.5h0" stroke="#9a9a9a" stroke-width="16.2" stroke-linecap="round"/>
<path d="M728 114.8h0M728 114.8h0" stroke="#e2e2e2" stroke-width="16.6" stroke-linecap="round"/>
<path d="M728 114.8h0M728 114.8h0" stroke="#9a9a9a" stroke-width="14.2" stroke-linecap="round"/>
<path d="M862.9 95.9h0M871.5 109.7h0" stroke="#e2e2e2" stroke-width="19.6" stroke-linecap="round"/><path d="M862.9 95.9L871.5 109.7" stroke="#e2e2e2" stroke-width="12.6" stroke-linecap="round"/>
<path d="M862.9 95.9h0M871.5 109.7h0" stroke="#555555" stroke-width="17.2" stroke-linecap="round"/><path d="M862.9 95.9L871.5 109.7" stroke="#555555" stroke-width="10.2" stroke-linecap="round"/>
<path d="M849.1 109.7h0M864.6 126.9h0" stroke="#e2e2e2" stroke-width="18.6" stroke-linecap="round"/><path d="M849.1 109.7L864.6 126.9" stroke="#e2e2e2" stroke-width="12.0" stroke-linecap="round"/>
<path d="M849.1 109.7h0M864.6 126.9h0" stroke="#1c1c1c" stroke-width="16.2" stroke-linecap="round"/><path d="M849.1 109.7L864.6 126.9" stroke="#1c1c1c" stroke-width="9.6" stroke-linecap="round"/>
<path d="M883.6 135.5h0M876.7 154.4h0" stroke="#e2e2e2" stroke-width="18.6" stroke-linecap="round"/><path d="M883.6 135.5L876.7 154.4" stroke="#e2e2e2" stroke-width="12.0" stroke-linecap="round"/>
<path d="M883.6 135.5h0M876.7 154.4h0" stroke="#202020" stroke-width="16.2" stroke-linecap="round"/><path d="M883.6 135.5L876.7 154.4" stroke="#202020" stroke-width="9.6" stroke-linecap="round"/>
<path d="M881.8 97.6h0M883.6 120h0" stroke="#e2e2e2" stroke-width="20.6" stroke-linecap="round"/><path d="M881.8 97.6L883.6 120" stroke="#e2e2e2" stroke-width="13.2" stroke-linecap="round"/>
<path d="M881.8 97.6h0M883.6 120h0" stroke="#a3a3a3" stroke-width="18.2" stroke-linecap="round"/><path d="M881.8 97.6L883.6 120" stroke="#a3a3a3" stroke-width="10.8" stroke-linecap="round"/>
<path d="M904.2 106.2h0M904.2 130.3h0" stroke="#e2e2e2" stroke-width="20.6" stroke-linecap="round"/><path d="M904.2 106.2L904.2 130.3" stroke="#e2e2e2" stroke-width="13.2" stroke-linecap="round"/>
<path d="M904.2 106.2h0M904.2 130.3h0" stroke="#a1a1a1" stroke-width="18.2" stroke-linecap="round"/><path d="M904.2 106.2L904.2 130.3" stroke="#a1a1a1" stroke-width="10.8" stroke-linecap="round"/>
<path d="M831.9 113.1h0M835.4 126.9h0" stroke="#e2e2e2" stroke-width="19.6" stroke-linecap="round"/><path d="M831.9 113.1L835.4 126.9" stroke="#e2e2e2" stroke-width="12.6" stroke-linecap="round"/>
<path d="M831.9 113.1h0M835.4 126.9h0" stroke="#828282" stroke-width="17.2" stroke-linecap="round"/><path d="M831.9 113.1L835.4 126.9" stroke="#828282" stroke-width="10.2" stroke-linecap="round"/>
<path d="M821.6 97.6h0M821.6 97.6h0" stroke="#e2e2e2" stroke-width="18.6" stroke-linecap="round"/>
<path d="M821.6 97.6h0M821.6 97.6h0" stroke="#9b9b9b" stroke-width="16.2" stroke-linecap="round"/>
<path d="M835.4 97.6h0M835.4 97.6h0" stroke="#e2e2e2" stroke-width="18.6" stroke-linecap="round"/>
<path d="M835.4 97.6h0M835.4 97.6h0" stroke="#989898" stroke-width="16.2" stroke-linecap="round"/>
<path d="M819.9 120h0M821.6 140.6h0" stroke="#e2e2e2" stroke-width="20.6" stroke-linecap="round"/><path d="M819.9 120L821.6 140.6" stroke="#e2e2e2" stroke-width="13.2" stroke-linecap="round"/>
<path d="M819.9 120h0M821.6 140.6h0" stroke="#9c9c9c" stroke-width="18.2" stroke-linecap="round"/><path d="M819.9 120L821.6 140.6" stroke="#9c9c9c" stroke-width="10.8" stroke-linecap="round"/>
<path d="M845.7 130.3h0M861.2 145.8h0" stroke="#e2e2e2" stroke-width="21.6" stroke-linecap="round"/><path d="M845.7 130.3L861.2 145.8" stroke="#e2e2e2" stroke-width="13.8" stroke-linecap="round"/>
<path d="M845.7 130.3h0M861.2 145.8h0" stroke="#979797" stroke-width="19.2" stroke-linecap="round"/><path d="M845.7 130.3L861.2 145.8" stroke="#979797" stroke-width="11.4" stroke-linecap="round"/>
<path d="M838.8 151h0M859.5 166.5h0" stroke="#e2e2e2" stroke-width="21.6" stroke-linecap="round"/><path d="M838.8 151L859.5 166.5" stroke="#e2e2e2" stroke-width="13.8" stroke-linecap="round"/>
<path d="M838.8 151h0M859.5 166.5h0" stroke="#9c9c9c" stroke-width="19.2" stroke-linecap="round"/><path d="M838.8 151L859.5 166.5" stroke="#9c9c9c" stroke-width="11.4" stroke-linecap="round"/>
<path d="M821.6 154.4h0M825 175.1h0" stroke="#e2e2e2" stroke-width="20.6" stroke-linecap="round"/><path d="M821.6 154.4L825 175.1" stroke="#e2e2e2" stroke-width="13.2" stroke-linecap="round"/>
<path d="M821.6 154.4h0M825 175.1h0" stroke="#828282" stroke-width="18.2" stroke-linecap="round"/><path d="M821.6 154.4L825 175.1" stroke="#828282" stroke-width="10.8" stroke-linecap="round"/>
<path d="M902.5 145.8h0M897.3 164.7h0" stroke="#e2e2e2" stroke-width="21.6" stroke-linecap="round"/><path d="M902.5 145.8L897.3 164.7" stroke="#e2e2e2" stroke-width="13.8" stroke-linecap="round"/>
<path d="M902.5 145.8h0M897.3 164.7h0" stroke="#9a9a9a" stroke-width="19.2" stroke-linecap="round"/><path d="M902.5 145.8L897.3 164.7" stroke="#9a9a9a" stroke-width="11.4" stroke-linecap="round"/>
<path d="M875 175.1h0M875 175.1h0" stroke="#e2e2e2" stroke-width="20.6" stroke-linecap="round"/>
<path d="M875 175.1h0M875 175.1h0" stroke="#9e9e9e" stroke-width="18.2" stroke-linecap="round"/>
<path d="M844 183.7h0M844 183.7h0" stroke="#e2e2e2" stroke-width="18.6" stroke-linecap="round"/>
<path d="M844 183.7h0M844 183.7h0" stroke="#9c9c9c" stroke-width="16.2" stroke-linecap="round"/>
<path d="M906 185.4h0M906 185.4h0" stroke="#e2e2e2" stroke-width="18.6" stroke-linecap="round"/>
<path d="M906 185.4h0M906 185.4h0" stroke="#282828" stroke-width="16.2" stroke-linecap="round"/>
<path d="M862.9 178.5h0M862.9 178.5h0" stroke="#e2e2e2" stroke-width="18.6" stroke-linecap="round"/>
<path d="M862.9 178.5h0M862.9 178.5h0" stroke="#9b9b9b" stroke-width="16.2" stroke-linecap="round"/>
</g></g>
<rect x="732.1" y="177.2" width="32.9" height="2.7" fill="#000"/>
<text x="733.3" y="172.8" font-size="12" text-anchor="start" fill="#000" >50 nm</text>
<text x="730.2" y="20.3" font-size="21" text-anchor="start" fill="#000" stroke="#e8e8e8" stroke-width="1.6" paint-order="stroke" stroke-opacity="0.7">b</text>
<text x="909.8" y="20.4" font-size="16.2" text-anchor="end" fill="#000" stroke="#eeeeee" stroke-width="1.6" paint-order="stroke" stroke-opacity="0.8">100Nd@Y</text>
<rect x="915.1" y="3.1" width="182.8" height="183.4" fill="#000"/>
<defs><filter id="cbl" x="0" y="0" width="1" height="1"><feGaussianBlur stdDeviation="0.7"/></filter></defs>
<defs><filter id="haze" x="-20%" y="-20%" width="140%" height="140%"><feGaussianBlur stdDeviation="4"/></filter><clipPath id="ccl"><rect x="915.1" y="3.1" width="182.8" height="183.4"/></clipPath></defs>
<g clip-path="url(#ccl)" filter="url(#haze)" fill="#7a0c10" opacity="0.75"><ellipse cx="1005" cy="41" rx="28.1" ry="22.1" opacity="1.00"/><ellipse cx="989" cy="87" rx="26.3" ry="19.6" opacity="1.00"/><ellipse cx="978" cy="132" rx="25.5" ry="18.7" opacity="1.00"/><ellipse cx="1029" cy="152" rx="18.7" ry="23.8" opacity="1.00"/><ellipse cx="1080" cy="36" rx="20.4" ry="11.0" opacity="0.45"/><ellipse cx="932" cy="184" rx="20.4" ry="11.0" opacity="0.80"/></g>
<g filter="url(#cbl)">
<path d="M1024.8 47.4h0M1004.8 44.1h0M979.9 49.5h0M1017.4 57.7h0M998.8 47.6h0M986.9 28.6h0M998.2 12.7h0M976.7 36.1h0M1009.7 58.1h0M980.8 46.7h0M1017.5 27.7h0M1029.2 44.9h0M1022.4 44.4h0M1009.4 29.2h0M1006.7 38.9h0M1032.7 51.1h0M983.2 50.4h0M1025.8 28.2h0M999.0 43.1h0M1033.6 35.4h0M1010.8 19.8h0M996.3 28.6h0M983.2 21.0h0M997.0 52.3h0M1013.2 30.8h0M1014.4 60.0h0M1005.8 51.7h0M1004.3 36.3h0M1024.8 49.8h0M1013.5 30.9h0M1025.7 32.1h0M1012.1 28.6h0M1028.5 52.0h0M995.0 41.9h0M1027.2 60.4h0M1025.5 53.1h0M1002.4 46.6h0M992.7 42.5h0M977.3 55.7h0M1009.5 41.0h0M995.0 62.6h0M990.3 52.8h0M998.4 64.5h0M1025.2 57.0h0M993.2 41.9h0M1024.1 57.2h0M987.6 60.7h0M1025.2 30.6h0M980.1 43.8h0M978.9 22.5h0M1027.2 40.5h0M1023.0 32.0h0M1005.1 32.7h0M1004.8 22.2h0M1033.8 35.8h0M993.3 58.6h0M996.0 40.1h0M1006.1 28.6h0M1016.3 29.0h0M1027.2 34.8h0M1002.8 48.0h0M1003.8 31.7h0M998.0 51.2h0M1025.4 27.5h0M1022.5 30.9h0M979.3 49.6h0M1019.7 64.0h0M1007.6 38.7h0M976.0 35.8h0M990.1 52.1h0M977.1 44.6h0M1028.4 41.4h0M994.1 27.3h0M985.1 27.9h0M987.8 35.6h0M998.8 46.9h0M1010.2 24.7h0M1022.6 49.8h0M998.9 42.4h0M1033.8 48.6h0M991.3 40.8h0M970.3 46.6h0M985.1 65.2h0M1037.4 46.1h0M1004.2 44.8h0M999.6 23.3h0M1028.5 59.3h0M979.5 21.5h0M1004.1 36.0h0M1001.3 37.7h0M1006.9 63.2h0M1000.8 35.5h0M986.9 55.2h0M1025.9 37.0h0M997.4 26.0h0M987.3 27.9h0M1020.5 63.8h0M1004.5 22.4h0M998.5 29.2h0M1030.5 38.3h0M1005.2 46.3h0M996.7 23.5h0M1024.2 23.1h0M1014.5 44.2h0M1005.2 39.5h0M990.2 44.0h0M978.7 57.4h0M1006.1 54.9h0M1035.5 42.3h0M996.5 56.3h0M991.0 36.1h0M992.6 22.7h0M1006.2 55.5h0M987.3 29.7h0M979.0 34.5h0M974.1 36.6h0M1029.3 46.4h0M999.1 40.7h0M997.1 52.3h0M981.6 58.0h0M1008.6 52.7h0M1004.3 57.3h0M979.3 36.3h0M1008.5 51.8h0M1012.8 53.0h0M994.8 47.0h0M1021.6 52.3h0M988.2 37.1h0M1032.4 26.9h0M1020.1 31.2h0M1003.5 13.7h0M983.1 49.6h0M1019.4 31.2h0M1030.4 27.2h0M1007.5 53.7h0M1017.5 48.7h0M1022.2 51.8h0M1013.2 26.3h0M1015.8 19.6h0M1013.7 57.3h0M980.2 31.0h0M1011.1 58.9h0M979.2 30.0h0M977.9 46.3h0M985.7 31.6h0M1007.3 53.0h0M981.9 54.9h0M1038.0 54.9h0M1017.0 64.4h0M1023.9 30.3h0M1008.6 26.7h0M1023.4 21.6h0M1010.8 34.8h0M1017.3 24.6h0M986.4 54.7h0M1012.7 26.2h0M1007.1 20.3h0M1005.7 65.3h0M1016.0 58.7h0M997.5 47.7h0M1004.2 38.0h0M1015.1 24.1h0M1019.1 42.7h0M1023.3 20.1h0M1003.5 29.9h0M1015.6 61.8h0M998.6 44.8h0M989.3 43.2h0M1011.7 55.1h0M1003.9 61.1h0M1005.4 56.1h0M981.4 42.8h0M993.2 48.9h0M1018.6 28.1h0M1013.5 56.0h0M987.0 21.2h0M987.5 43.9h0M992.1 35.2h0M1009.3 13.6h0M1020.2 38.7h0M1026.2 43.7h0M1011.0 33.1h0M1022.8 31.5h0M1004.8 37.8h0M985.9 59.0h0M973.3 31.2h0M1003.1 29.2h0M988.2 55.6h0M988.9 34.7h0M1023.3 42.9h0M1034.0 28.0h0M996.6 55.9h0M1022.0 23.7h0M1025.5 35.0h0M1029.5 38.5h0M1023.3 29.4h0M1009.2 32.0h0M1001.6 44.6h0M1015.7 24.3h0M988.6 90.5h0M1013.3 70.6h0M983.8 71.3h0M1014.4 85.1h0M980.0 88.9h0M978.5 98.3h0M980.5 106.1h0M1007.3 105.4h0M961.4 102.5h0M1001.0 76.2h0M993.0 81.9h0M1012.1 86.8h0M955.2 87.2h0M997.1 71.9h0M991.5 76.7h0M962.0 75.0h0M971.1 80.0h0M996.6 74.9h0M1018.1 95.5h0M1012.3 99.6h0M965.6 80.4h0M979.2 87.2h0M997.4 87.7h0M967.3 73.2h0M982.4 93.2h0M978.2 90.7h0M999.4 108.5h0M966.9 80.3h0M993.2 72.0h0M1005.9 67.7h0M1001.3 83.8h0M973.2 82.6h0M1000.9 79.7h0M989.2 69.6h0M996.7 89.3h0M992.3 83.1h0M979.3 71.9h0M992.3 96.3h0M994.5 101.0h0M967.0 92.1h0M1013.4 79.1h0M1005.6 79.5h0M1008.7 97.7h0M998.9 83.1h0M997.7 89.1h0M996.3 79.6h0M975.6 95.4h0M982.9 89.9h0M979.1 90.2h0M1002.4 81.6h0M1006.3 82.6h0M991.0 80.4h0M962.4 95.2h0M976.1 78.9h0M980.3 84.9h0M975.6 84.9h0M993.6 102.5h0M963.2 94.2h0M993.5 72.7h0M980.1 97.1h0M986.8 96.3h0M984.5 79.8h0M965.7 70.4h0M972.5 98.9h0M977.2 92.4h0M977.8 70.0h0M965.1 87.2h0M1007.2 76.2h0M986.1 102.5h0M1002.0 76.7h0M986.4 95.4h0M1005.2 82.6h0M968.6 85.5h0M977.4 96.2h0M992.3 71.3h0M973.6 85.6h0M983.1 89.5h0M984.9 93.2h0M994.9 94.4h0M991.2 95.0h0M1007.8 98.3h0M988.6 75.0h0M1012.8 82.9h0M998.0 107.6h0M990.0 92.2h0M1009.2 99.2h0M997.9 89.8h0M995.8 104.9h0M972.7 86.1h0M967.8 70.6h0M1000.9 103.2h0M1011.6 80.9h0M983.1 69.6h0M973.5 94.8h0M992.3 104.7h0M986.6 101.7h0M986.0 76.3h0M998.4 70.4h0M975.2 76.2h0M973.3 79.4h0M991.4 93.7h0M970.1 86.3h0M1004.9 83.9h0M986.9 64.2h0M971.3 81.2h0M1008.4 77.7h0M997.2 100.6h0M1009.4 94.2h0M960.7 89.2h0M969.3 98.9h0M1006.9 82.9h0M977.2 102.6h0M970.4 76.1h0M987.5 87.8h0M981.7 92.4h0M1011.4 94.7h0M989.4 75.4h0M970.3 85.9h0M995.2 79.7h0M996.9 68.1h0M999.1 96.3h0M977.0 86.7h0M1013.4 82.9h0M1001.5 69.4h0M995.9 77.6h0M1006.1 78.9h0M982.7 107.1h0M1004.9 91.9h0M1010.3 89.1h0M973.5 90.3h0M1013.8 99.4h0M1009.7 92.3h0M974.3 74.8h0M969.6 75.0h0M992.5 103.4h0M1002.5 79.4h0M995.4 95.6h0M1014.9 94.8h0M1006.7 89.0h0M994.5 95.3h0M992.7 92.4h0M985.0 97.8h0M1003.8 91.2h0M984.7 76.1h0M1003.6 109.3h0M1012.2 91.5h0M980.5 94.7h0M989.6 101.2h0M980.8 84.6h0M1011.1 87.6h0M981.9 94.3h0M991.8 83.6h0M966.2 81.6h0M970.5 73.3h0M982.5 79.9h0M994.2 90.5h0M975.9 96.8h0M1011.3 102.9h0M1000.7 109.3h0M983.7 97.1h0M1002.6 83.9h0M992.3 87.4h0M989.6 94.5h0M1017.6 88.8h0M979.3 90.4h0M979.4 90.1h0M954.0 143.6h0M973.7 150.1h0M1000.3 124.8h0M956.6 143.3h0M967.6 118.9h0M979.0 151.2h0M973.3 116.5h0M999.0 122.1h0M989.9 124.2h0M992.7 113.8h0M954.8 145.3h0M985.7 138.2h0M974.7 130.6h0M985.9 120.3h0M969.9 144.7h0M953.2 150.4h0M959.4 137.6h0M972.0 137.8h0M965.3 131.6h0M999.7 137.8h0M989.1 149.9h0M955.7 132.0h0M959.5 132.5h0M972.8 118.3h0M991.8 122.9h0M969.1 135.1h0M982.4 142.8h0M990.1 119.2h0M953.2 139.6h0M979.1 142.1h0M980.4 138.4h0M953.6 132.9h0M970.1 135.5h0M967.0 131.2h0M957.4 126.0h0M977.6 143.7h0M984.2 141.6h0M985.8 142.3h0M1002.4 140.4h0M991.5 136.4h0M975.1 119.7h0M997.2 132.9h0M984.8 134.1h0M992.7 149.7h0M984.0 147.0h0M969.0 134.4h0M983.7 146.1h0M984.5 142.2h0M988.0 128.1h0M962.0 132.4h0M985.9 126.0h0M996.1 135.0h0M958.1 129.9h0M989.9 119.6h0M978.7 152.4h0M970.6 136.7h0M961.3 150.8h0M966.2 139.1h0M982.4 123.6h0M997.8 116.0h0M985.5 112.6h0M979.1 126.5h0M996.7 132.4h0M996.0 138.7h0M990.6 124.6h0M988.9 145.5h0M978.1 130.2h0M956.3 119.4h0M964.9 116.6h0M983.1 132.5h0M953.1 138.7h0M967.9 133.4h0M993.2 146.3h0M990.4 140.5h0M986.6 148.3h0M997.9 131.4h0M962.7 131.7h0M970.9 114.2h0M1003.9 133.1h0M966.5 143.8h0M977.2 130.1h0M976.6 146.3h0M975.0 123.6h0M958.1 137.4h0M964.8 129.2h0M988.5 143.9h0M972.7 128.8h0M962.8 122.0h0M997.7 133.5h0M986.8 109.2h0M977.1 144.8h0M995.7 126.3h0M982.6 135.1h0M974.1 148.6h0M953.9 129.8h0M995.2 136.5h0M981.4 151.0h0M965.8 132.9h0M961.3 152.3h0M1009.4 123.0h0M979.6 146.4h0M976.7 116.3h0M980.3 146.3h0M963.0 140.5h0M988.5 131.4h0M985.2 116.7h0M985.0 149.1h0M973.5 133.8h0M1001.1 134.6h0M989.4 115.5h0M967.9 149.8h0M968.9 130.8h0M978.8 146.3h0M963.9 126.2h0M992.2 123.8h0M978.7 137.4h0M976.5 129.6h0M964.3 119.0h0M966.1 136.0h0M960.9 113.6h0M984.0 147.0h0M995.9 147.7h0M977.5 139.6h0M986.5 121.5h0M992.3 143.5h0M995.1 113.2h0M959.2 131.0h0M1002.7 127.4h0M986.7 110.9h0M992.9 142.7h0M963.9 130.8h0M988.2 131.2h0M948.8 122.8h0M980.8 115.2h0M980.8 137.9h0M974.6 116.5h0M957.3 122.0h0M994.4 121.0h0M973.7 149.0h0M970.4 155.7h0M990.4 117.0h0M992.3 128.3h0M975.2 111.6h0M974.2 123.1h0M1006.1 126.0h0M984.9 115.6h0M996.2 123.2h0M1009.3 137.7h0M969.2 150.2h0M968.2 131.5h0M991.7 143.6h0M964.2 139.5h0M993.9 127.5h0M968.0 117.1h0M965.5 152.1h0M971.2 119.7h0M966.5 124.2h0M998.4 122.1h0M995.4 129.2h0M1013.7 140.1h0M1020.9 152.8h0M1029.6 163.5h0M1010.9 163.7h0M1018.3 147.0h0M1017.1 157.1h0M1024.4 178.3h0M1022.4 163.4h0M1039.6 171.3h0M1022.1 173.7h0M1033.4 151.9h0M1017.5 153.7h0M1041.9 160.2h0M1015.2 144.7h0M1014.0 142.9h0M1035.3 173.8h0M1024.0 162.1h0M1007.0 156.9h0M1032.4 148.3h0M1033.2 136.5h0M1047.3 169.7h0M1017.3 130.9h0M1008.1 156.8h0M1041.1 143.5h0M1021.0 153.8h0M1040.8 164.3h0M1039.2 142.8h0M1017.2 150.2h0M1025.5 161.8h0M1025.5 131.3h0M1022.7 125.3h0M1034.3 143.4h0M1051.6 145.8h0M1023.1 130.6h0M1041.8 131.0h0M1032.9 144.3h0M1023.4 131.9h0M1017.3 137.1h0M1018.0 142.6h0M1029.5 174.1h0M1044.8 139.2h0M1047.4 157.2h0M1032.6 166.3h0M1030.6 144.7h0M1021.4 140.0h0M1041.4 145.1h0M1038.8 153.0h0M1030.5 147.0h0M1015.5 170.4h0M1020.9 166.7h0M1024.9 136.1h0M1034.6 164.5h0M1033.5 129.8h0M1027.3 123.6h0M1046.8 140.3h0M1043.8 136.7h0M1012.4 133.7h0M1043.0 133.5h0M1037.9 160.6h0M1029.5 166.1h0M1047.3 172.6h0M1015.1 137.1h0M1008.4 169.6h0M1013.8 161.9h0M1027.7 136.7h0M1025.1 169.3h0M1033.8 170.9h0M1021.3 144.4h0M1027.1 156.7h0M1037.8 139.3h0M1007.3 169.3h0M1029.3 164.4h0M1028.1 170.2h0M1021.4 165.1h0M1047.9 161.0h0M1045.4 141.7h0M1049.3 138.2h0M1023.1 154.2h0M1049.5 162.2h0M1043.0 164.4h0M1016.6 150.6h0M1012.3 156.2h0M1020.6 140.8h0M1040.4 139.9h0M1026.6 141.1h0M1042.8 138.5h0M1017.7 132.4h0M1046.7 142.3h0M1032.9 153.9h0M1038.6 151.3h0M1031.9 165.4h0M1027.2 161.5h0M1023.0 165.6h0M1041.1 140.1h0M1014.6 157.2h0M1019.2 154.2h0M1021.3 165.6h0M1022.1 164.1h0M1024.1 168.7h0M1049.1 136.0h0M1029.0 130.8h0M1018.3 143.7h0M1030.0 154.5h0M1017.8 141.2h0M1007.8 151.6h0M1026.1 126.2h0M1042.1 140.2h0M1030.3 138.5h0M1037.7 160.6h0M1028.3 172.0h0M1030.6 125.9h0M1046.6 171.1h0M1030.4 171.5h0M1010.1 166.6h0M1017.3 138.4h0M1025.1 156.7h0M1030.2 153.9h0M1023.6 141.9h0M1063.0 41.7h0M1071.4 48.0h0M1064.4 26.7h0M1065.1 37.9h0M1067.1 32.8h0M1070.7 34.1h0M1090.2 25.5h0M1075.4 31.7h0M1058.2 40.9h0M1081.6 48.5h0M1094.9 31.5h0M1086.1 40.9h0M1088.1 42.8h0M1096.8 41.3h0M1082.0 27.8h0M1075.5 29.2h0M1070.8 47.9h0M1082.8 36.0h0M1086.2 46.9h0M1080.8 43.2h0M1068.2 31.6h0M1089.8 28.0h0M1073.0 40.5h0M1074.2 29.5h0M1066.6 39.1h0M1074.3 32.3h0M946.6 178.9h0M953.4 183.7h0M924.8 179.0h0M947.4 182.3h0M943.3 184.8h0M952.1 178.9h0M936.7 178.7h0M951.1 184.3h0M916.8 181.5h0M919.8 182.5h0M946.4 182.7h0M928.5 172.8h0M918.4 182.5h0M942.7 178.6h0M933.1 182.2h0M943.5 180.8h0M931.6 178.8h0M943.2 179.6h0M937.9 176.5h0M926.1 181.7h0M934.9 179.6h0M931.2 176.9h0M935.1 179.9h0M936.6 179.7h0M944.5 172.3h0M920.4 179.4h0M918.9 185.2h0M922.7 174.7h0M942.2 183.4h0" stroke="#b81414" stroke-width="1.9" stroke-linecap="square" fill="none"/>
<path d="M992.9 37.5h0M987.0 49.0h0M1010.7 27.8h0M1002.9 52.2h0M995.6 57.0h0M1003.0 56.3h0M1002.4 27.3h0M1021.6 58.1h0M1020.7 53.1h0M1014.6 20.0h0M1001.9 40.7h0M1013.1 28.9h0M1008.9 29.5h0M1004.4 40.5h0M1021.6 48.9h0M1013.3 26.6h0M1004.2 57.1h0M991.3 48.0h0M1012.7 25.2h0M1024.9 53.5h0M1014.1 23.6h0M1015.3 19.3h0M981.6 38.4h0M1009.9 60.1h0M1002.7 56.6h0M990.2 49.0h0M1024.0 52.7h0M1009.9 29.1h0M1017.0 48.7h0M1012.5 56.6h0M999.9 39.3h0M984.7 42.0h0M972.7 50.5h0M1031.1 32.6h0M1025.7 31.6h0M983.0 30.0h0M1008.5 53.5h0M1003.3 48.6h0M1004.7 56.4h0M984.8 35.7h0M1019.6 23.2h0M977.8 52.2h0M1026.2 53.7h0M975.6 21.1h0M1033.5 54.2h0M1025.5 27.7h0M992.0 48.5h0M988.2 37.1h0M988.8 25.0h0M1019.9 64.2h0M1031.6 45.6h0M1012.7 37.7h0M1024.1 37.2h0M996.3 40.8h0M995.6 22.9h0M1027.6 47.9h0M1028.8 48.2h0M993.4 26.9h0M1028.0 32.6h0M990.2 50.1h0M999.5 49.4h0M1023.1 24.5h0M1007.5 28.9h0M1002.1 51.7h0M984.4 24.8h0M1003.8 43.7h0M1002.7 51.8h0M1012.9 33.6h0M984.5 35.1h0M1033.2 44.2h0M1020.9 51.8h0M1002.5 39.1h0M1018.8 57.9h0M1016.6 58.6h0M1013.4 57.3h0M1025.1 58.0h0M1029.5 34.8h0M1020.3 43.1h0M1015.1 51.7h0M1038.9 43.0h0M1020.7 31.9h0M1018.8 33.1h0M1010.1 51.9h0M993.0 52.3h0M1011.7 52.6h0M1028.3 39.3h0M977.4 52.2h0M988.4 22.0h0M989.9 31.6h0M1016.5 29.0h0M993.5 37.6h0M1010.4 54.8h0M976.3 54.8h0M990.9 38.7h0M1025.9 23.7h0M1029.0 39.7h0M989.7 30.8h0M1022.9 44.4h0M1036.8 38.3h0M1030.5 42.5h0M1012.9 25.6h0M997.9 54.6h0M981.5 27.6h0M1018.4 52.7h0M1028.7 40.6h0M986.6 29.5h0M1023.1 45.6h0M995.4 46.6h0M1023.3 38.2h0M981.5 42.2h0M1039.8 39.9h0M1027.3 30.6h0M1014.3 26.6h0M1024.2 39.2h0M1025.2 57.9h0M1001.4 18.7h0M989.3 49.3h0M1027.2 33.9h0M1005.9 39.2h0M1000.0 42.8h0M984.3 54.7h0M1008.9 58.6h0M1002.8 19.7h0M1021.0 52.7h0M982.5 48.6h0M1022.1 36.6h0M997.5 25.7h0M1018.1 61.4h0M1037.5 42.2h0M979.2 54.7h0M999.6 64.3h0M1019.4 20.9h0M987.9 45.4h0M984.7 57.9h0M1027.5 48.3h0M985.2 44.2h0M972.7 43.9h0M994.4 60.7h0M992.2 29.4h0M974.5 28.3h0M1005.7 41.1h0M1011.3 35.0h0M1010.9 57.8h0M995.6 42.0h0M986.4 85.5h0M1009.3 82.6h0M981.3 65.0h0M979.3 73.7h0M986.5 76.5h0M984.7 97.5h0M996.3 63.0h0M976.2 99.6h0M957.5 78.8h0M986.8 88.1h0M982.2 99.0h0M1003.1 70.0h0M981.4 82.7h0M981.4 94.8h0M1001.3 65.8h0M979.5 99.4h0M974.6 66.1h0M965.4 70.2h0M976.8 74.2h0M985.6 92.9h0M970.5 75.9h0M1000.2 106.8h0M966.8 80.5h0M977.2 70.3h0M1003.9 87.9h0M1010.6 76.0h0M998.2 69.0h0M966.9 70.3h0M989.6 96.0h0M994.1 75.3h0M972.8 91.7h0M982.4 83.1h0M1007.4 78.0h0M971.6 75.7h0M984.3 89.6h0M1008.7 82.5h0M997.4 90.0h0M1008.8 106.9h0M990.6 103.8h0M965.3 93.1h0M982.8 102.8h0M988.2 99.0h0M981.1 106.2h0M984.1 73.6h0M985.9 74.3h0M994.9 86.5h0M1016.0 92.3h0M972.7 92.4h0M987.7 74.8h0M998.2 90.0h0M971.3 70.7h0M1015.9 98.5h0M997.0 78.9h0M1000.3 97.3h0M965.4 77.6h0M985.9 97.9h0M993.6 88.2h0M980.2 104.8h0M984.9 101.3h0M993.8 106.8h0M997.4 103.0h0M1008.9 80.8h0M966.7 88.7h0M987.5 91.7h0M1000.0 97.5h0M992.9 105.6h0M982.5 78.6h0M1002.1 83.4h0M978.7 100.0h0M990.2 76.9h0M992.9 72.5h0M970.1 68.0h0M985.7 94.4h0M973.3 100.6h0M994.6 88.0h0M985.1 87.2h0M987.0 89.3h0M1005.4 92.0h0M1001.8 86.7h0M990.1 95.1h0M980.9 89.9h0M1018.5 93.6h0M1014.0 96.2h0M980.0 93.5h0M993.0 65.9h0M1018.4 83.4h0M973.4 67.1h0M1007.3 76.4h0M994.2 105.0h0M994.3 89.5h0M973.3 75.2h0M986.8 79.0h0M997.8 81.3h0M959.7 79.3h0M983.1 84.8h0M989.0 90.6h0M997.9 94.1h0M964.9 87.5h0M989.5 100.4h0M963.4 87.2h0M992.3 108.1h0M975.4 85.6h0M1004.6 81.5h0M979.5 72.5h0M984.2 89.0h0M1003.8 67.9h0M1001.5 131.1h0M951.7 127.8h0M1001.7 138.6h0M967.5 123.4h0M1000.3 144.9h0M991.4 120.7h0M981.0 126.4h0M993.6 115.6h0M980.0 119.4h0M972.9 140.1h0M991.4 128.1h0M998.4 140.4h0M998.5 129.1h0M963.1 134.6h0M971.6 120.2h0M991.2 131.0h0M985.7 143.8h0M998.5 123.4h0M954.6 122.9h0M959.4 134.2h0M974.3 135.4h0M959.0 135.1h0M976.4 135.1h0M995.3 118.9h0M963.2 132.6h0M989.0 149.3h0M987.3 138.9h0M999.1 145.3h0M977.2 128.0h0M989.1 122.1h0M972.7 119.3h0M984.7 126.3h0M952.4 125.1h0M987.9 117.9h0M965.1 144.2h0M1004.0 126.8h0M964.3 119.5h0M985.4 143.6h0M964.6 132.5h0M957.0 140.7h0M974.7 153.1h0M986.8 123.4h0M990.9 138.7h0M972.9 118.0h0M985.7 141.3h0M980.7 112.9h0M984.1 116.4h0M976.3 126.5h0M974.8 115.0h0M990.2 145.7h0M984.0 131.8h0M961.5 126.1h0M982.2 155.7h0M989.8 141.2h0M986.9 117.5h0M968.1 148.5h0M962.9 144.9h0M1001.8 128.0h0M1000.1 140.1h0M982.2 125.2h0M975.9 126.7h0M964.5 131.4h0M963.2 120.7h0M1009.2 130.3h0M959.4 123.2h0M979.4 138.5h0M975.6 129.6h0M988.8 126.7h0M976.4 123.1h0M960.4 131.3h0M956.0 126.8h0M975.6 144.4h0M1002.5 135.2h0M958.8 122.5h0M960.7 152.4h0M974.8 138.0h0M997.2 136.9h0M960.2 121.9h0M976.4 129.3h0M975.5 119.0h0M985.3 154.7h0M982.6 141.4h0M972.8 129.3h0M972.0 116.8h0M991.9 132.6h0M953.0 116.5h0M988.0 116.4h0M998.1 128.1h0M985.8 142.1h0M969.6 127.9h0M994.7 136.5h0M963.5 130.5h0M978.5 141.4h0M966.9 122.3h0M991.2 147.2h0M976.7 141.6h0M967.6 140.1h0M996.5 127.0h0M985.0 127.7h0M954.6 117.8h0M977.6 141.7h0M990.3 144.1h0M955.8 118.3h0M996.1 117.8h0M1000.6 138.6h0M984.4 145.3h0M997.7 139.5h0M995.4 142.8h0M967.5 130.3h0M983.4 146.3h0M989.7 142.8h0M994.6 131.3h0M1021.8 153.9h0M1028.4 134.8h0M1036.9 156.5h0M1034.3 142.9h0M1039.7 145.0h0M1018.9 173.6h0M1033.1 169.1h0M1016.0 132.3h0M1021.3 152.3h0M1015.5 148.2h0M1040.0 137.0h0M1017.2 169.8h0M1018.6 167.1h0M1015.7 167.8h0M1028.8 172.8h0M1026.1 146.0h0M1034.7 161.7h0M1008.8 165.9h0M1031.7 165.5h0M1020.1 156.8h0M1035.2 147.7h0M1025.6 157.0h0M1042.0 142.2h0M1031.0 169.8h0M1019.5 151.0h0M1024.4 173.2h0M1020.7 175.9h0M1038.4 140.9h0M1008.0 152.6h0M1022.1 165.0h0M1031.2 145.5h0M1035.4 162.7h0M1010.1 163.7h0M1043.1 161.8h0M1036.0 169.7h0M1043.5 171.5h0M1036.0 162.4h0M1013.6 158.4h0M1013.3 156.6h0M1018.7 152.2h0M1027.8 154.4h0M1033.0 177.8h0M1025.6 140.4h0M1011.0 159.3h0M1035.1 155.8h0M1030.7 130.9h0M1032.8 139.6h0M1042.9 171.8h0M1025.2 156.5h0M1020.7 162.8h0M1045.1 172.2h0M1018.7 136.8h0M1022.4 161.8h0M1036.4 165.0h0M1026.3 166.6h0M1024.8 160.4h0M1043.6 135.2h0M1024.9 146.6h0M1017.3 134.1h0M1029.8 153.9h0M1044.6 144.3h0M1035.6 138.8h0M1046.1 137.4h0M1022.6 137.6h0M1040.3 157.5h0M1014.7 163.0h0M1033.7 152.6h0M1022.7 130.1h0M1042.4 145.2h0M1035.0 146.7h0M1020.0 137.7h0M1030.0 128.9h0M1017.7 151.1h0M1017.3 163.3h0M1028.3 160.3h0M1033.9 166.9h0M1039.0 147.1h0M1023.1 164.2h0M1037.2 127.7h0M1049.1 138.0h0M1032.2 158.4h0M1044.5 171.4h0M1037.5 173.0h0M1013.9 151.6h0M1034.7 131.7h0M1031.7 161.5h0M1032.6 166.7h0M1027.6 138.4h0M1031.4 132.8h0M1009.2 144.7h0M1038.5 146.2h0M1032.7 144.9h0M1031.6 157.8h0M1019.5 159.7h0M1089.3 41.2h0M1084.6 35.4h0M1083.5 36.4h0M1058.5 36.6h0M1090.1 44.7h0M1092.3 42.2h0M1076.5 26.4h0M1094.6 43.8h0M1070.3 42.2h0M1085.7 37.6h0M1086.1 28.4h0M1060.8 29.9h0M1088.2 42.5h0M1061.2 39.2h0M1066.7 32.0h0M1077.5 39.3h0M1089.3 42.5h0M921.0 178.0h0M926.8 183.7h0M949.1 181.9h0M951.1 181.3h0M937.4 179.8h0M926.8 180.1h0M935.0 180.0h0M923.2 184.8h0M930.5 183.9h0M933.6 174.7h0M930.7 178.5h0M930.8 184.7h0M943.5 178.2h0M940.4 171.8h0M930.9 175.6h0M925.5 174.0h0M938.7 180.2h0M940.9 184.5h0" stroke="#dc2020" stroke-width="1.8" stroke-linecap="square" fill="none"/>
<path d="M1018.4 22.9h0M1001.5 43.1h0M1003.5 44.5h0M1018.8 25.1h0M1006.5 51.5h0M991.8 41.0h0M986.0 51.9h0M1016.5 24.5h0M1009.1 51.2h0M1012.5 33.2h0M1008.9 31.8h0M971.3 29.0h0M1015.8 58.4h0M1034.3 42.8h0M1004.2 26.8h0M1009.9 62.6h0M991.7 27.0h0M998.6 42.8h0M1026.5 34.1h0M1016.5 30.9h0M1005.9 39.9h0M996.2 40.4h0M983.4 26.4h0M1007.9 37.4h0M1021.6 56.0h0M1000.8 56.7h0M1000.9 30.4h0M1013.9 21.8h0M979.5 26.5h0M986.6 48.0h0M1007.9 43.6h0M1029.5 35.2h0M995.3 48.6h0M999.8 19.4h0M1015.4 52.2h0M1033.9 56.1h0M995.9 57.8h0M1030.0 48.1h0M1034.6 34.3h0M1019.0 49.5h0M976.5 56.9h0M976.7 26.0h0M1034.1 35.2h0M1037.1 44.1h0M1012.0 23.4h0M987.0 45.3h0M1023.4 51.7h0M1010.7 34.6h0M995.5 60.0h0M1004.7 43.7h0M993.1 26.8h0M1009.1 39.8h0M1006.5 38.1h0M1029.5 45.9h0M998.0 54.6h0M1008.4 56.3h0M1016.3 52.6h0M987.3 57.6h0M1022.4 62.5h0M999.7 58.3h0M995.4 50.7h0M1025.7 46.2h0M969.1 39.7h0M1006.3 38.2h0M1023.2 49.3h0M996.4 44.3h0M983.3 53.3h0M981.7 60.7h0M997.9 32.0h0M978.2 29.3h0M988.1 48.6h0M1003.2 25.9h0M987.4 53.8h0M1020.8 24.6h0M992.7 51.2h0M1001.2 32.6h0M1009.4 56.3h0M976.1 23.3h0M982.9 45.8h0M976.8 50.1h0M1004.7 58.0h0M1025.2 26.2h0M1030.1 48.2h0M988.3 35.7h0M1034.3 29.0h0M1006.3 31.6h0M1007.6 62.7h0M1030.1 27.5h0M997.2 42.6h0M1009.8 52.7h0M996.6 47.9h0M997.3 51.0h0M983.3 47.3h0M992.6 52.0h0M997.1 32.9h0M1015.0 44.5h0M976.1 50.8h0M988.6 27.7h0M1028.3 52.3h0M1024.9 56.9h0M1018.2 26.0h0M1030.3 61.9h0M981.6 31.1h0M1003.8 52.1h0M1001.2 57.3h0M984.9 44.6h0M987.9 20.3h0M991.3 39.0h0M1008.5 30.7h0M1030.3 56.4h0M991.6 61.5h0M1013.1 46.7h0M1010.4 52.6h0M998.4 38.5h0M1012.7 60.5h0M1004.3 31.5h0M1013.4 23.5h0M1025.0 29.4h0M1014.9 63.7h0M977.3 35.8h0M1020.2 41.7h0M995.7 50.4h0M1017.7 59.7h0M995.5 33.3h0M982.4 28.4h0M975.1 34.8h0M983.0 44.7h0M992.0 46.5h0M1014.1 60.9h0M989.2 47.8h0M1000.7 28.2h0M1023.5 47.7h0M969.8 46.0h0M993.4 56.7h0M1000.8 103.7h0M1013.1 84.7h0M1009.6 86.0h0M991.1 96.3h0M989.2 81.7h0M1008.3 84.6h0M1020.4 76.1h0M971.2 95.0h0M971.6 77.6h0M1006.8 74.0h0M967.1 89.0h0M1014.5 76.1h0M989.1 96.0h0M969.4 101.4h0M999.4 83.2h0M976.4 70.3h0M997.6 96.1h0M989.8 85.4h0M986.7 85.9h0M990.3 79.6h0M960.2 85.9h0M996.2 71.8h0M981.5 92.1h0M996.6 75.8h0M976.1 73.9h0M986.3 84.7h0M999.5 105.6h0M1010.2 103.6h0M971.2 69.9h0M990.2 70.8h0M982.2 108.5h0M971.1 79.0h0M964.3 98.9h0M996.1 102.2h0M1005.6 95.8h0M976.5 88.2h0M963.4 72.5h0M988.1 79.0h0M1016.5 94.1h0M993.6 74.1h0M1006.8 81.1h0M968.4 92.4h0M986.2 98.5h0M967.9 101.5h0M971.0 78.3h0M993.6 89.2h0M1006.3 78.3h0M1007.4 103.3h0M1007.5 82.4h0M1005.8 84.0h0M990.3 102.0h0M962.1 79.3h0M977.1 88.6h0M974.8 101.2h0M1003.8 82.1h0M986.1 76.3h0M992.9 105.2h0M999.2 100.6h0M978.9 93.2h0M979.5 77.4h0M999.1 84.1h0M992.9 100.4h0M980.0 89.2h0M977.9 96.8h0M1020.9 83.8h0M976.4 100.5h0M988.9 98.9h0M994.0 89.4h0M1011.9 91.6h0M975.6 99.5h0M1005.7 72.6h0M971.0 73.6h0M983.7 81.2h0M993.5 84.1h0M1012.9 94.7h0M1003.6 103.4h0M973.6 107.9h0M982.9 91.6h0M987.1 67.7h0M973.7 89.7h0M984.6 91.3h0M984.9 84.9h0M972.7 82.1h0M986.5 73.3h0M987.7 96.2h0M1005.2 104.6h0M1005.5 100.2h0M990.4 93.6h0M1010.4 104.0h0M1006.7 88.1h0M978.0 85.1h0M958.5 82.7h0M1013.2 92.5h0M993.9 92.1h0M986.0 98.5h0M993.9 86.1h0M1007.6 102.8h0M997.7 111.5h0M977.1 85.2h0M1003.8 71.5h0M985.1 84.8h0M1000.6 83.4h0M984.3 98.3h0M971.9 87.5h0M987.7 70.4h0M993.5 92.0h0M1003.5 76.0h0M1000.1 103.0h0M993.2 93.2h0M971.6 82.8h0M982.2 72.4h0M994.9 103.4h0M996.7 92.8h0M987.7 100.8h0M995.2 105.5h0M969.3 92.3h0M975.5 95.0h0M996.5 94.7h0M974.3 82.8h0M973.8 90.1h0M1015.0 90.6h0M989.2 99.1h0M991.7 66.9h0M1015.6 90.4h0M977.1 99.8h0M966.0 90.2h0M972.7 131.6h0M968.5 130.8h0M974.3 155.0h0M990.0 121.9h0M979.1 141.6h0M952.5 115.3h0M982.7 138.3h0M953.0 130.7h0M985.9 110.2h0M976.7 146.2h0M970.3 131.0h0M992.7 142.1h0M982.8 119.1h0M957.9 119.6h0M998.4 131.9h0M967.1 135.5h0M996.4 120.8h0M983.3 148.3h0M991.2 142.3h0M956.4 121.6h0M975.7 134.7h0M954.3 120.0h0M967.8 144.0h0M986.2 121.0h0M963.5 122.8h0M967.2 133.0h0M963.6 140.9h0M969.3 134.3h0M977.0 120.8h0M959.8 121.8h0M993.0 121.9h0M964.6 138.6h0M993.6 151.0h0M963.9 124.4h0M976.4 149.7h0M984.8 142.3h0M949.0 141.1h0M987.8 138.6h0M993.1 150.5h0M1003.9 145.5h0M972.5 132.6h0M987.4 130.1h0M979.7 141.2h0M993.0 139.7h0M974.6 150.8h0M1001.0 122.8h0M977.0 144.5h0M961.8 115.8h0M993.0 135.6h0M955.7 136.9h0M966.8 152.9h0M993.7 138.8h0M995.0 130.1h0M956.3 127.5h0M951.4 124.8h0M974.5 128.8h0M965.5 125.2h0M963.4 127.8h0M963.8 109.6h0M986.7 130.6h0M1005.4 134.8h0M1000.8 133.7h0M979.6 140.4h0M987.5 138.3h0M990.2 142.0h0M963.9 130.6h0M991.3 117.2h0M987.5 110.9h0M980.0 119.9h0M976.8 126.6h0M973.0 116.6h0M997.2 142.5h0M987.0 143.4h0M989.5 136.7h0M976.8 120.6h0M1001.5 137.9h0M967.9 130.0h0M984.9 127.5h0M993.3 146.1h0M1003.1 127.0h0M992.8 135.9h0M953.8 129.0h0M991.5 153.0h0M994.0 133.4h0M948.5 126.3h0M994.9 135.5h0M974.1 132.7h0M975.2 149.7h0M977.1 142.8h0M973.6 114.8h0M982.9 111.0h0M955.7 131.8h0M1002.6 135.3h0M977.4 120.8h0M975.0 117.7h0M1002.1 130.9h0M971.4 132.2h0M982.7 148.0h0M966.7 119.7h0M980.3 139.1h0M991.3 135.3h0M988.4 129.8h0M975.4 117.3h0M970.9 147.3h0M990.1 130.0h0M984.9 127.1h0M974.7 131.5h0M957.8 121.6h0M963.7 131.9h0M981.4 126.1h0M977.5 142.0h0M963.2 132.6h0M958.1 122.2h0M984.3 127.9h0M971.3 124.8h0M1006.6 137.5h0M1029.6 152.2h0M1048.6 150.3h0M1026.9 137.2h0M1048.4 163.7h0M1015.3 174.0h0M1035.3 162.0h0M1034.4 141.6h0M1042.0 148.5h0M1011.5 161.8h0M1015.1 134.8h0M1033.7 161.7h0M1035.0 152.0h0M1025.5 159.6h0M1011.4 160.4h0M1039.4 152.0h0M1018.9 140.5h0M1034.7 150.4h0M1021.4 139.8h0M1014.8 153.4h0M1014.0 167.9h0M1014.8 145.0h0M1006.7 139.0h0M1045.8 150.4h0M1020.0 148.7h0M1044.9 141.3h0M1031.2 164.0h0M1034.9 170.0h0M1021.9 151.6h0M1025.4 137.6h0M1038.1 167.6h0M1035.8 156.3h0M1042.2 129.2h0M1027.5 156.0h0M1044.7 146.2h0M1012.1 166.2h0M1028.8 129.5h0M1024.9 141.0h0M1030.7 136.0h0M1030.6 167.8h0M1050.7 141.3h0M1019.0 142.0h0M1016.9 139.1h0M1013.1 142.1h0M1016.0 158.1h0M1031.6 164.3h0M1038.2 160.7h0M1041.3 138.1h0M1018.7 134.9h0M1013.4 152.8h0M1039.3 150.9h0M1023.7 160.3h0M1025.8 155.3h0M1016.1 151.8h0M1027.9 171.2h0M1032.1 155.7h0M1045.4 165.6h0M1028.6 164.5h0M1015.9 166.1h0M1031.5 144.2h0M1048.3 151.1h0M1026.4 138.2h0M1041.6 144.2h0M1014.9 139.9h0M1038.1 144.3h0M1008.8 138.4h0M1009.2 149.6h0M1027.2 161.2h0M1031.8 153.4h0M1019.4 156.4h0M1034.3 144.1h0M1042.5 153.4h0M1031.4 132.5h0M1018.3 134.3h0M1044.4 173.0h0M1014.3 157.1h0M1025.8 170.9h0M1043.8 160.4h0M1028.0 141.6h0M1036.1 134.5h0M1047.5 135.9h0M1032.4 168.8h0M1024.2 134.8h0M1037.8 153.1h0M1045.2 147.9h0M1037.4 138.6h0M1031.1 163.6h0M1034.0 171.4h0M1048.2 134.3h0M1024.8 162.4h0M1046.6 141.0h0M1035.9 141.1h0M1015.0 152.5h0M1040.2 155.2h0M1013.7 149.7h0M1024.2 142.6h0M1029.6 157.5h0M1025.2 153.0h0M1048.1 154.7h0M1032.7 180.7h0M1047.2 133.1h0M1033.9 152.9h0M1012.6 168.3h0M1041.7 149.4h0M1059.7 29.2h0M1072.9 36.0h0M1086.0 34.6h0M1083.8 36.7h0M1063.1 29.8h0M1074.6 42.8h0M1083.2 27.0h0M1086.1 40.7h0M1088.7 27.9h0M1075.4 40.5h0M1092.7 38.3h0M1096.1 37.5h0M1065.6 35.0h0M1088.7 42.2h0M1084.8 39.6h0M1083.8 23.9h0M1085.4 29.4h0M1089.1 44.9h0M1086.5 41.2h0M1096.8 35.8h0M1077.9 35.7h0M1080.6 30.1h0M1065.9 43.2h0M933.7 173.2h0M942.5 178.8h0M939.8 177.3h0M925.2 183.0h0M948.6 174.8h0M942.3 181.3h0M929.3 181.3h0M945.8 175.6h0M922.2 178.1h0M949.2 178.5h0M942.9 180.9h0M921.2 178.3h0M916.7 182.7h0M938.9 177.9h0M937.9 175.7h0M950.8 179.6h0M932.4 179.0h0M925.9 179.9h0M940.7 180.6h0M933.4 181.1h0M933.8 80.4h0M999.6 103.5h0M925.5 169.5h0M930.1 42.5h0M1009.2 142.9h0M924.2 69.9h0M1068.4 164.2h0M951.3 128.8h0M937.2 92.7h0M1018.0 124.9h0M1062.3 166.1h0M979.0 35.4h0M1069.7 148.8h0M928.9 166.3h0M1057.3 176.1h0M1013.2 29.1h0M1027.5 15.0h0M1025.5 114.0h0M1042.9 109.3h0M1084.6 174.5h0M1043.2 124.9h0M1018.1 30.9h0M992.7 88.9h0M1076.9 133.3h0" stroke="#7e0c0c" stroke-width="1.9" stroke-linecap="square" fill="none"/>
<path d="M1036.9 39.8h0M1030.4 28.5h0M969.1 41.5h0M1022.1 21.3h0M986.8 69.2h0M1038.6 58.4h0M969.8 52.1h0M971.8 60.4h0M1007.3 18.5h0M977.0 39.9h0M1035.9 56.6h0M1018.8 13.4h0M969.5 41.2h0M1035.0 17.1h0M971.5 46.7h0M1005.1 15.4h0M1037.0 20.7h0M1034.8 51.4h0M984.0 62.7h0M1006.0 17.9h0M981.7 66.2h0M987.6 61.4h0M1006.2 10.6h0M1003.2 14.3h0M1015.3 14.4h0M1003.5 69.3h0M1031.6 56.3h0M984.9 18.9h0M969.6 32.7h0M1037.7 45.8h0M1004.9 66.4h0M972.0 59.9h0M968.4 29.0h0M990.2 65.0h0M1023.7 21.1h0M1002.4 18.9h0M974.3 51.5h0M1029.5 19.6h0M1042.0 49.5h0M975.1 20.5h0M1025.7 59.4h0M967.9 39.4h0M1018.2 18.9h0M977.0 58.2h0M969.4 53.5h0M984.8 18.9h0M998.6 65.9h0M1031.8 29.4h0M995.1 67.8h0M1015.7 69.4h0M987.4 60.2h0M975.6 31.0h0M1034.3 36.7h0M976.1 34.2h0M989.2 70.1h0M971.2 32.8h0M1019.5 16.8h0M970.2 43.1h0M984.9 22.2h0M979.7 64.8h0M986.9 13.7h0M993.7 69.6h0M1024.9 60.8h0M1018.5 67.5h0M999.6 16.6h0M1040.8 44.4h0M1010.1 68.6h0M1005.7 32.4h0M1008.4 38.5h0M1011.6 38.6h0M1012.5 24.7h0M995.1 64.5h0M993.4 56.3h0M1004.6 21.9h0M996.6 46.1h0M998.6 46.9h0M997.1 49.3h0M988.5 22.6h0M991.6 47.8h0M1035.9 34.1h0M991.3 46.7h0M1021.5 45.6h0M1023.7 47.5h0M1001.6 23.1h0M984.0 60.5h0M989.2 32.1h0M984.2 56.0h0M1014.4 19.8h0M1000.7 24.2h0M1025.8 31.7h0M992.2 22.1h0M1037.6 45.6h0M969.0 67.3h0M967.8 110.2h0M994.7 63.8h0M967.9 71.6h0M1026.2 80.8h0M1021.0 86.7h0M1011.6 104.9h0M1017.9 81.1h0M957.2 76.5h0M981.5 111.7h0M986.7 67.1h0M956.0 75.8h0M966.4 67.3h0M1006.5 65.9h0M989.8 65.9h0M983.0 65.8h0M1016.5 93.7h0M974.3 105.5h0M1025.5 89.2h0M1005.9 110.0h0M1015.3 91.0h0M990.1 61.2h0M955.6 73.1h0M960.6 94.9h0M1017.2 90.8h0M952.2 86.2h0M1017.7 84.8h0M1015.4 103.1h0M979.7 59.8h0M961.5 69.0h0M962.6 81.8h0M1003.6 111.2h0M1015.1 78.8h0M956.3 83.3h0M1024.9 88.3h0M986.5 60.1h0M967.2 106.1h0M953.3 85.4h0M952.5 92.5h0M977.1 67.0h0M995.5 65.6h0M965.3 108.7h0M951.7 90.2h0M1010.6 104.1h0M965.6 102.3h0M1005.7 63.5h0M952.0 80.1h0M972.4 113.2h0M979.4 111.9h0M958.2 81.3h0M1019.9 98.8h0M997.9 65.1h0M979.9 63.5h0M959.4 101.2h0M990.4 60.6h0M953.1 78.9h0M964.3 96.5h0M1005.2 103.8h0M984.9 67.0h0M961.6 92.8h0M958.5 78.7h0M1010.9 72.6h0M1015.9 82.4h0M953.1 82.3h0M968.2 104.7h0M957.4 81.9h0M975.8 64.1h0M973.5 67.1h0M980.4 65.4h0M973.1 103.1h0M978.5 86.1h0M977.7 89.9h0M1007.0 93.4h0M994.3 102.8h0M964.6 79.7h0M1009.0 100.3h0M978.4 101.7h0M986.1 84.0h0M1002.8 76.5h0M966.4 81.0h0M1001.3 69.6h0M1013.6 93.6h0M983.5 74.1h0M993.4 79.3h0M982.1 84.2h0M1007.8 88.7h0M975.8 88.8h0M1002.4 101.7h0M1004.4 88.0h0M988.1 69.5h0M988.3 103.7h0M962.4 114.9h0M1000.5 109.5h0M960.9 149.0h0M968.8 156.2h0M949.5 117.4h0M998.8 113.1h0M1001.8 142.6h0M975.7 107.5h0M951.4 148.9h0M959.8 152.8h0M962.9 149.2h0M946.2 140.7h0M998.5 113.9h0M1005.7 112.8h0M999.4 115.1h0M964.5 108.6h0M957.6 110.9h0M948.2 114.4h0M958.6 146.7h0M988.2 111.2h0M944.3 126.0h0M977.1 152.5h0M944.7 137.1h0M1006.7 117.6h0M1000.4 147.9h0M967.6 107.3h0M991.8 155.2h0M991.7 114.9h0M963.9 157.3h0M966.8 113.1h0M946.4 133.6h0M982.0 112.2h0M976.5 106.3h0M1011.3 132.0h0M944.6 123.1h0M953.5 119.4h0M948.9 127.1h0M1005.5 117.9h0M990.0 114.5h0M984.8 107.5h0M1001.4 116.9h0M955.4 152.5h0M956.3 109.8h0M981.1 153.4h0M1009.8 134.0h0M952.0 132.9h0M966.3 108.7h0M948.2 126.9h0M1012.6 124.9h0M943.4 141.9h0M987.9 152.3h0M956.9 112.2h0M1013.2 131.1h0M964.8 150.9h0M1005.6 147.1h0M1002.6 153.9h0M988.5 155.0h0M1008.8 134.9h0M1009.4 139.7h0M1005.8 117.6h0M978.6 151.5h0M961.3 153.9h0M946.1 116.2h0M998.6 146.0h0M970.2 106.8h0M980.3 107.4h0M974.7 158.7h0M963.2 115.3h0M955.5 110.4h0M960.8 115.7h0M981.0 133.7h0M980.1 116.7h0M985.8 112.0h0M957.0 137.1h0M962.9 135.2h0M992.9 143.5h0M955.4 118.7h0M999.2 121.8h0M977.4 146.6h0M971.9 118.2h0M980.7 133.6h0M970.2 140.3h0M954.5 137.1h0M972.0 114.2h0M965.2 130.9h0M982.4 134.8h0M1000.1 121.4h0M977.9 127.4h0M961.5 116.3h0M1008.3 148.0h0M1014.2 179.9h0M1053.7 136.6h0M1010.2 134.6h0M1021.9 185.3h0M1032.5 181.4h0M1023.2 181.2h0M1008.7 135.1h0M1012.3 137.3h0M1048.0 164.7h0M1014.5 178.3h0M1016.2 121.5h0M1049.8 162.8h0M1007.4 130.1h0M1009.3 160.4h0M1017.1 177.4h0M1010.8 140.0h0M1013.2 174.5h0M1010.1 157.8h0M1050.7 158.0h0M1036.2 179.4h0M1013.7 123.9h0M1012.5 132.2h0M1039.1 120.4h0M1010.3 169.0h0M1008.7 162.4h0M1008.7 132.7h0M1009.8 148.7h0M1012.2 170.1h0M1018.2 130.9h0M1024.4 177.7h0M1049.2 161.7h0M1008.2 141.2h0M1036.1 125.6h0M1035.2 128.4h0M1017.4 127.3h0M1017.0 175.4h0M1028.4 182.7h0M1010.4 125.9h0M1015.4 132.4h0M1022.2 119.5h0M1003.0 154.0h0M1008.1 137.1h0M1050.6 172.5h0M1046.9 167.7h0M1003.3 154.5h0M1019.8 127.3h0M1016.2 181.0h0M1048.1 151.6h0M1006.4 158.0h0M1050.3 172.3h0M1009.9 143.2h0M1034.8 127.1h0M1030.9 123.2h0M1027.0 122.0h0M1041.4 181.1h0M1010.4 132.6h0M1003.8 164.5h0M1009.0 164.3h0M1024.2 175.3h0M1028.6 175.3h0M1032.3 158.5h0M1024.1 159.4h0M1024.5 156.2h0M1032.0 135.2h0M1027.0 169.6h0M1022.6 167.4h0M1034.1 135.7h0M1017.4 145.5h0M1020.6 139.8h0M1039.4 138.2h0M1034.4 149.2h0M1060.3 40.9h0M1077.3 25.0h0M1069.4 47.3h0M1065.4 45.1h0M1072.7 51.0h0M1058.1 44.9h0M1073.2 21.3h0M1058.5 26.5h0M1082.7 51.3h0M1068.7 23.2h0M1060.6 24.6h0M1066.7 25.6h0M1090.5 42.7h0M1080.3 31.9h0M1089.7 35.8h0M1070.7 46.8h0M1089.0 30.1h0M1086.9 32.4h0M955.2 179.0h0M944.1 169.4h0M941.2 171.8h0M934.6 171.8h0M934.6 168.5h0M918.5 172.6h0M943.7 169.3h0M923.1 173.5h0M920.1 174.3h0M949.8 171.6h0M921.6 169.8h0M931.6 171.4h0M934.2 177.4h0M929.3 181.9h0M947.1 178.1h0M943.9 183.1h0M929.5 183.1h0M953.4 180.5h0M1035.9 72.4h0M974.9 82.6h0M965.4 123.3h0M1089.7 115.3h0M969.9 176.7h0M1070.2 76.8h0M1074.1 66.1h0M930.2 105.0h0M996.6 166.1h0M955.8 114.7h0M1055.9 33.3h0M1032.7 126.2h0M1008.4 61.0h0M1036.9 93.6h0M968.5 38.3h0M1004.6 9.7h0M1095.3 135.5h0M916.5 156.4h0M1079.8 33.3h0M1027.1 71.7h0M923.2 91.4h0M1022.6 77.1h0M929.5 31.4h0M1070.3 75.2h0M1095.9 78.9h0M1005.7 181.8h0M1021.5 121.5h0M982.3 19.0h0M960.0 47.9h0M973.1 30.2h0M938.3 119.9h0M982.3 185.1h0M995.1 172.3h0M973.8 167.7h0M957.2 99.6h0M1078.2 96.3h0" stroke="#3c3cf0" stroke-width="1.6" stroke-linecap="square" fill="none"/>
<path d="M985.1 66.5h0M1040.5 36.8h0M977.5 29.1h0M972.6 35.7h0M1003.3 12.2h0M970.0 33.1h0M982.7 61.0h0M974.2 22.2h0M978.1 51.0h0M977.9 24.5h0M973.5 30.7h0M976.3 35.9h0M991.7 18.5h0M992.2 65.0h0M972.0 29.4h0M974.2 39.2h0M1022.4 65.6h0M973.9 60.3h0M980.8 22.4h0M1031.6 60.0h0M975.5 43.1h0M989.9 12.6h0M991.2 20.2h0M978.9 58.8h0M1038.2 20.5h0M975.8 58.2h0M1029.3 25.6h0M1020.0 12.4h0M1009.3 64.0h0M966.3 42.6h0M1044.8 36.3h0M1028.8 59.2h0M969.7 32.2h0M989.9 61.7h0M982.2 23.1h0M977.6 51.0h0M1013.7 13.7h0M981.0 24.9h0M976.5 57.8h0M993.2 11.7h0M969.6 41.0h0M979.4 15.2h0M973.0 54.9h0M1034.0 43.0h0M983.0 61.4h0M992.5 65.6h0M1018.8 19.2h0M999.9 18.4h0M1027.2 67.1h0M981.0 63.6h0M1000.5 64.7h0M992.9 68.4h0M1028.6 25.0h0M1019.2 71.4h0M983.9 62.1h0M991.1 15.5h0M977.2 50.0h0M977.6 23.8h0M997.4 71.5h0M980.5 27.6h0M984.3 19.3h0M1035.4 26.8h0M1003.7 70.8h0M972.7 20.0h0M1012.7 64.5h0M1034.2 56.0h0M972.9 24.0h0M1015.5 11.8h0M978.3 58.9h0M1010.9 64.4h0M977.8 32.3h0M1012.7 64.2h0M976.7 22.3h0M981.7 17.7h0M1001.4 40.5h0M991.2 57.9h0M1002.8 30.6h0M1007.7 30.9h0M1017.9 17.1h0M993.4 63.4h0M1030.8 25.2h0M988.6 27.1h0M1003.2 49.5h0M1014.0 58.9h0M983.9 48.2h0M996.9 18.4h0M1003.9 60.2h0M981.7 50.7h0M984.7 47.8h0M990.4 54.5h0M1015.8 32.5h0M1019.9 39.2h0M1031.1 32.0h0M978.2 46.4h0M961.4 86.0h0M993.6 113.4h0M978.5 59.8h0M1008.3 70.3h0M985.0 111.5h0M974.2 61.2h0M957.3 100.8h0M1017.4 104.3h0M962.7 75.2h0M969.6 70.3h0M992.2 108.6h0M982.1 66.6h0M1001.7 108.2h0M967.8 72.5h0M958.1 86.9h0M988.4 112.3h0M964.8 75.5h0M999.8 112.5h0M1005.6 65.8h0M977.4 107.8h0M966.2 74.5h0M974.4 111.3h0M964.0 98.2h0M1011.9 74.1h0M970.4 71.3h0M966.6 73.5h0M964.5 98.0h0M998.8 109.3h0M965.3 102.8h0M955.9 91.8h0M974.5 60.4h0M953.3 78.5h0M961.7 74.6h0M956.2 98.6h0M957.5 80.8h0M1019.4 68.0h0M1011.8 109.1h0M1004.1 67.5h0M1014.6 94.1h0M972.3 112.2h0M968.0 107.4h0M972.4 111.1h0M985.0 65.5h0M952.0 89.4h0M974.7 66.1h0M969.8 102.5h0M982.4 107.2h0M984.6 60.8h0M1011.4 109.8h0M984.5 106.7h0M998.9 107.5h0M960.8 75.5h0M962.2 69.9h0M1003.4 106.3h0M1008.6 71.4h0M995.5 61.7h0M976.1 109.9h0M954.6 100.1h0M962.5 72.2h0M955.6 90.6h0M1015.4 101.3h0M962.4 78.8h0M1017.0 93.8h0M997.2 73.6h0M964.7 98.1h0M994.9 89.9h0M998.8 96.7h0M975.2 70.9h0M975.9 95.5h0M1017.3 82.2h0M963.3 85.8h0M990.6 90.9h0M982.8 68.1h0M1002.6 103.1h0M976.5 103.0h0M984.9 96.4h0M965.2 101.4h0M982.5 97.1h0M1002.0 100.7h0M955.1 109.9h0M1008.3 129.1h0M971.5 112.3h0M1009.7 125.2h0M1012.5 132.2h0M963.3 114.3h0M982.2 158.5h0M1008.1 118.6h0M947.7 119.2h0M949.2 141.2h0M1002.8 143.1h0M978.6 112.9h0M944.3 128.8h0M971.4 151.5h0M957.2 109.9h0M950.8 123.2h0M952.6 113.6h0M955.8 148.5h0M967.8 150.3h0M943.4 123.9h0M983.4 105.8h0M1001.5 121.7h0M944.6 134.7h0M941.9 126.9h0M942.0 128.4h0M1005.7 122.1h0M988.8 157.6h0M1009.1 139.5h0M953.4 153.8h0M967.9 153.4h0M1007.5 114.6h0M963.5 152.8h0M997.4 149.1h0M941.5 132.1h0M1009.9 145.4h0M972.9 105.3h0M988.4 106.0h0M1007.9 136.1h0M974.9 106.8h0M1014.3 135.7h0M953.6 151.2h0M944.2 136.2h0M952.6 114.3h0M1011.2 144.3h0M975.4 112.0h0M969.9 151.0h0M949.8 140.2h0M1003.7 130.2h0M957.2 112.1h0M947.0 137.8h0M949.3 116.7h0M977.7 107.1h0M949.4 137.6h0M997.1 113.2h0M962.4 119.2h0M965.5 134.0h0M984.6 125.9h0M958.0 115.4h0M990.9 115.2h0M970.2 129.0h0M951.6 133.5h0M981.9 123.2h0M992.4 122.4h0M952.6 121.6h0M955.3 147.5h0M969.9 113.7h0M989.3 117.4h0M989.0 134.4h0M948.8 130.0h0M1006.3 149.2h0M1014.2 126.0h0M1020.5 179.3h0M1010.4 169.9h0M1008.5 151.4h0M1002.4 148.4h0M1023.6 120.8h0M1026.3 178.4h0M1043.0 172.6h0M1035.6 119.1h0M1026.0 177.5h0M1033.6 121.6h0M1008.1 165.8h0M1009.6 149.3h0M1010.8 128.7h0M1035.1 182.5h0M1015.0 171.6h0M1043.9 127.2h0M1053.1 134.2h0M1034.1 121.7h0M1047.3 124.6h0M1048.6 148.3h0M1022.3 127.4h0M1036.6 121.4h0M1024.3 121.0h0M1005.5 167.2h0M1006.1 143.5h0M1011.5 168.5h0M1014.7 128.2h0M1014.5 127.5h0M1006.8 143.8h0M1053.5 162.5h0M1002.8 143.1h0M1048.4 137.3h0M1012.1 176.2h0M1039.2 125.6h0M1021.4 175.5h0M1009.6 145.1h0M1045.8 124.2h0M1055.0 155.6h0M1055.4 149.8h0M1024.7 124.9h0M1003.8 143.0h0M1053.8 145.3h0M1014.0 170.9h0M1007.2 134.0h0M1007.0 172.6h0M1032.8 175.9h0M1010.8 143.6h0M1020.5 128.5h0M1051.7 146.4h0M1031.9 128.3h0M1044.7 171.6h0M1048.5 131.1h0M1008.3 146.2h0M1023.8 122.7h0M1008.7 145.2h0M1047.7 147.6h0M1016.1 127.4h0M1037.2 118.9h0M1007.6 173.0h0M1031.6 134.1h0M1025.8 162.0h0M1016.7 150.9h0M1018.2 158.0h0M1028.9 138.3h0M1021.3 157.9h0M1024.2 162.3h0M1024.7 164.9h0M1013.1 155.5h0M1024.2 148.2h0M1037.4 168.7h0M1033.3 126.9h0M1046.8 137.6h0M1027.0 151.0h0M1039.7 167.2h0M1028.5 127.3h0M1046.8 157.1h0M1056.7 35.9h0M1056.0 36.1h0M1093.1 46.2h0M1091.8 26.3h0M1057.8 29.9h0M1089.9 24.8h0M1061.9 25.8h0M1057.4 36.0h0M1060.7 40.9h0M1084.6 24.1h0M1079.9 20.7h0M1053.4 30.4h0M1084.3 24.9h0M1069.4 23.7h0M1076.2 20.3h0M1077.4 51.1h0M1063.2 26.3h0M1057.6 38.3h0M1076.5 51.6h0M1052.7 41.0h0M1062.5 44.1h0M1079.7 20.2h0M1077.0 38.8h0M1088.0 43.9h0M1072.3 37.8h0M1077.6 34.9h0M1089.3 25.2h0M1066.5 42.4h0M1078.2 31.5h0M1071.9 33.8h0M1057.4 40.4h0M1077.0 29.4h0M936.6 169.8h0M918.6 172.6h0M935.9 168.3h0M960.1 182.5h0M954.0 176.0h0M929.5 168.8h0M926.3 171.7h0M945.0 170.1h0M932.5 168.5h0M946.7 175.4h0M942.0 175.8h0M937.1 184.0h0M922.8 177.7h0M920.7 178.8h0M920.3 184.0h0M929.5 41.8h0M1055.0 66.0h0M968.1 125.5h0M1028.6 116.3h0M1088.0 136.6h0M1043.5 81.3h0M1064.4 73.3h0M959.5 10.0h0M1073.4 96.4h0M970.5 156.1h0M961.5 65.0h0M919.4 134.9h0M1011.1 39.6h0M1041.0 163.9h0M1068.6 77.3h0M1033.9 167.9h0M924.8 90.1h0M1012.0 8.7h0M935.0 21.1h0M1021.6 179.7h0M1042.0 80.9h0M1006.3 73.7h0M1033.8 48.8h0M1018.6 23.6h0M1000.0 28.0h0M964.4 31.4h0M1081.8 28.0h0M950.3 39.9h0M1003.6 156.7h0M1062.5 6.8h0M964.5 10.5h0M1076.8 65.4h0M986.7 17.7h0M967.2 181.8h0M1072.8 59.7h0M1034.0 178.2h0M1094.9 185.5h0M976.5 153.4h0" stroke="#8060e0" stroke-width="1.5" stroke-linecap="square" fill="none"/>
</g>
<rect x="1046" y="6.2" width="26.6" height="20.9" fill="#f21010"/><rect x="1074.2" y="4.1" width="21.9" height="21.7" fill="#1414ee"/>
<text x="1059.3" y="21.9" font-size="14.8" text-anchor="middle" fill="#fff" >Nd</text>
<text x="1085.2" y="21.9" font-size="14.8" text-anchor="middle" fill="#fff" >Y</text>
<rect x="921.2" y="177.4" width="31.7" height="2.7" fill="#fff"/>
<text x="920.8" y="171.8" font-size="12" text-anchor="start" fill="#fff" >20 nm</text>
<text x="918.5" y="20.8" font-size="20" text-anchor="start" fill="#fff" >c</text>
</svg></body></html>
